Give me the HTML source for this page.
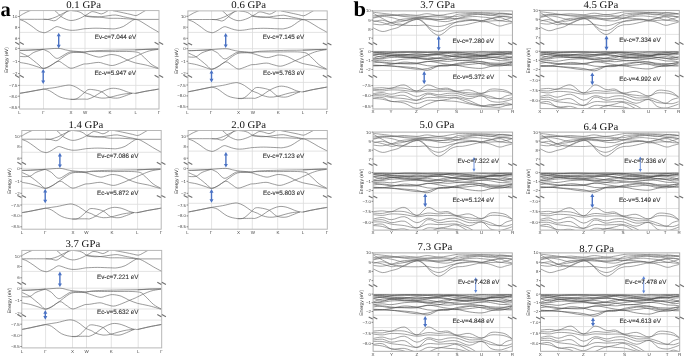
<!DOCTYPE html>
<html><head><meta charset="utf-8"><style>
html,body{margin:0;padding:0;background:#fff;}
svg{display:block;will-change:transform;text-rendering:geometricPrecision;}
</style></head><body>
<svg width="685" height="357" viewBox="0 0 685 357">
<rect width="685" height="357" fill="#fff"/>
<text x="0.6" y="15.8" font-size="20.5" font-weight="bold" fill="#000" font-family="Liberation Serif">a</text>
<text x="353.6" y="16.1" font-size="21.3" font-weight="bold" transform="translate(353.4 0) scale(1.06 1) translate(-353.4 0)" fill="#000" font-family="Liberation Serif">b</text>
<line x1="43.5" y1="10.6" x2="43.5" y2="109.0" stroke="#dcdcdc" stroke-width="0.8"/>
<line x1="71.0" y1="10.6" x2="71.0" y2="109.0" stroke="#dcdcdc" stroke-width="0.8"/>
<line x1="85.0" y1="10.6" x2="85.0" y2="109.0" stroke="#dcdcdc" stroke-width="0.8"/>
<line x1="110.0" y1="10.6" x2="110.0" y2="109.0" stroke="#dcdcdc" stroke-width="0.8"/>
<line x1="135.8" y1="10.6" x2="135.8" y2="109.0" stroke="#dcdcdc" stroke-width="0.8"/>
<line x1="19.6" y1="32.4" x2="159.0" y2="32.4" stroke="#dcdcdc" stroke-width="0.8"/>
<line x1="19.6" y1="48.4" x2="159.0" y2="48.4" stroke="#dcdcdc" stroke-width="0.8"/>
<line x1="19.6" y1="68.3" x2="159.0" y2="68.3" stroke="#dcdcdc" stroke-width="0.8"/>
<line x1="19.6" y1="85.4" x2="159.0" y2="85.4" stroke="#dcdcdc" stroke-width="0.8"/>
<clipPath id="ca1"><rect x="19.6" y="10.6" width="139.4" height="98.4"/></clipPath>
<path clip-path="url(#ca1)" d="M19.6,16.1 C20.3,15.7 22.1,14.4 23.7,13.6 C25.2,12.8 27.8,11.6 28.9,11.1 C30.0,10.6 30.2,10.7 30.5,10.6 M19.6,19.3 C21.5,19.3 27.0,19.3 31.0,19.3 C35.0,19.3 40.8,19.3 43.8,19.3 C46.8,19.3 47.0,19.6 49.0,19.2 C51.0,18.8 54.0,17.8 55.9,17.0 C57.8,16.2 58.8,15.5 60.5,14.7 C62.2,13.8 64.7,12.6 66.2,11.9 C67.7,11.2 69.1,10.9 69.7,10.7 M43.8,19.3 C44.7,19.4 47.4,19.4 49.0,19.6 C50.6,19.9 52.4,20.8 53.6,20.8 C54.9,20.9 55.4,20.6 56.5,19.9 C57.6,19.2 59.3,17.8 60.5,16.8 C61.7,15.8 62.5,14.9 63.5,14.0 C64.5,13.1 65.8,12.1 66.5,11.5 C67.2,10.9 67.8,10.8 68.0,10.7 M54.7,10.7 C55.3,11.2 57.2,12.6 58.2,13.6 C59.2,14.6 59.7,15.6 61.0,16.5 C62.3,17.4 64.6,18.6 66.2,19.3 C67.8,20.0 69.3,20.4 70.8,20.5 C72.3,20.6 73.8,20.3 75.4,19.9 C77.0,19.5 79.1,18.7 80.6,18.0 C82.1,17.3 83.4,16.6 84.6,15.9 C85.8,15.2 86.8,14.6 88.0,13.9 C89.2,13.2 90.3,12.0 91.6,11.7 C92.9,11.4 94.4,11.9 96.0,12.3 C97.6,12.7 99.9,13.9 101.4,13.9 C102.9,13.9 103.9,13.0 105.0,12.5 C106.1,12.0 107.5,11.0 108.0,10.7 M72.0,10.7 C73.0,10.8 76.3,11.1 78.0,11.5 C79.7,11.9 80.8,12.6 82.0,13.3 C83.2,14.0 83.7,15.1 85.0,15.6 C86.3,16.1 88.2,16.1 90.0,16.3 C91.8,16.5 93.8,16.5 96.0,16.7 C98.2,16.9 100.8,17.2 103.0,17.5 C105.2,17.8 106.6,18.2 109.1,18.3 C111.6,18.4 114.5,18.2 117.8,18.3 C121.1,18.4 125.9,18.7 128.8,18.9 C131.7,19.1 134.3,19.3 135.4,19.4 M85.0,16.1 C86.5,16.3 91.1,17.1 93.8,17.2 C96.5,17.3 98.9,17.0 101.4,16.7 C104.0,16.4 106.7,15.9 109.1,15.6 C111.5,15.3 113.3,14.8 115.7,15.0 C118.1,15.2 120.8,16.1 123.3,16.7 C125.8,17.2 129.0,17.9 131.0,18.3 C133.0,18.8 134.7,19.2 135.4,19.4 M113.0,10.7 C113.3,10.8 112.9,10.7 114.6,11.0 C116.3,11.3 120.6,12.2 123.3,12.8 C126.0,13.4 128.9,14.0 131.0,14.5 C133.1,15.0 134.5,15.7 135.9,15.6 C137.3,15.5 138.2,14.7 139.7,13.9 C141.2,13.1 143.7,11.5 144.7,11.0 C145.7,10.5 145.4,10.8 145.5,10.7 M135.4,19.4 L159.0,19.4 M19.6,19.6 C20.5,19.9 22.9,20.5 24.9,21.6 C26.9,22.7 29.6,24.7 31.8,26.2 C34.0,27.7 36.3,29.8 38.1,30.8 C39.9,31.9 41.5,32.2 42.7,32.5 C44.0,32.8 44.4,32.9 45.6,32.5 C46.9,32.1 48.5,31.2 50.2,30.2 C51.9,29.3 54.4,27.3 55.9,26.8 C57.4,26.3 58.0,26.8 59.3,27.1 C60.6,27.4 62.2,28.3 63.9,28.8 C65.6,29.3 67.8,30.0 69.7,30.2 C71.6,30.4 73.3,30.4 75.4,30.2 C77.5,30.0 80.7,29.4 82.3,29.1 C83.9,28.9 82.7,28.9 85.0,28.7 C87.3,28.6 92.0,28.2 96.0,28.2 C100.0,28.2 105.8,28.6 109.1,28.7 C112.4,28.8 113.3,29.1 115.7,28.7 C118.1,28.3 120.9,27.6 123.3,26.5 C125.7,25.4 127.9,23.3 129.9,22.1 C131.9,20.9 133.4,19.4 135.4,19.4 C137.4,19.4 139.4,20.7 141.9,22.1 C144.4,23.5 147.9,26.0 150.7,27.6 C153.4,29.2 157.0,31.2 158.4,32.0 C159.8,32.8 158.9,32.2 159.0,32.3 M19.6,50.3 C21.1,50.3 24.6,50.3 28.5,50.1 C32.4,49.9 38.3,49.6 43.2,49.3 C48.1,49.0 54.3,48.3 58.0,48.4 C61.7,48.5 63.2,49.4 65.3,49.8 C67.4,50.2 68.7,50.5 70.6,50.8 C72.5,51.1 74.5,51.2 76.9,51.4 C79.4,51.6 83.1,51.9 85.3,51.9 C87.5,51.9 87.9,51.3 90.0,51.1 C92.1,50.9 94.8,50.7 98.0,50.6 C101.2,50.5 105.0,50.4 109.0,50.3 C113.0,50.2 117.6,50.1 122.0,50.0 C126.4,49.9 131.1,49.9 135.3,49.8 C139.5,49.7 143.2,49.4 147.0,49.3 C150.8,49.2 156.5,49.0 158.4,49.0 M43.2,49.3 C44.2,49.8 47.8,51.2 49.5,52.4 C51.2,53.6 52.4,55.6 53.7,56.6 C55.0,57.6 56.0,58.5 57.4,58.4 C58.8,58.3 60.4,57.0 62.1,56.1 C63.8,55.2 66.0,53.6 67.4,52.9 C68.8,52.2 69.0,52.1 70.6,51.9 C72.2,51.7 74.6,51.8 77.0,51.9 C79.4,52.0 83.2,52.3 85.0,52.3 C86.8,52.2 84.0,51.7 88.0,51.6 C92.0,51.5 101.1,51.6 109.0,51.6 C116.9,51.6 129.7,51.1 135.3,51.9 C140.9,52.6 140.1,54.1 142.7,56.1 C145.3,58.1 148.4,62.0 151.0,64.0 C153.6,66.0 157.2,67.5 158.4,68.2 M19.6,52.4 C20.4,52.8 23.0,53.9 24.3,54.5 C25.6,55.1 25.9,55.1 27.5,56.1 C29.1,57.1 31.9,59.3 33.8,60.8 C35.7,62.3 37.4,63.7 39.0,65.0 C40.6,66.3 41.5,68.2 43.2,68.4 C45.0,68.6 47.0,67.4 49.5,66.1 C52.0,64.8 55.4,62.5 58.0,60.8 C60.6,59.0 63.2,56.9 65.3,55.6 C67.4,54.3 68.7,53.4 70.6,52.9 C72.5,52.4 74.8,52.4 76.9,52.4 C79.0,52.4 81.2,52.3 83.0,52.6 C84.8,52.9 85.4,53.2 88.0,54.0 C90.6,54.8 95.7,56.8 98.5,57.1 C101.3,57.4 102.9,56.2 105.0,55.8 C107.1,55.4 108.7,54.5 111.1,54.5 C113.5,54.5 116.9,55.2 119.5,56.1 C122.1,57.0 124.3,58.7 126.9,59.8 C129.5,60.9 132.2,62.0 135.3,62.9 C138.5,63.8 142.0,64.0 145.8,65.0 C149.7,66.0 156.3,68.1 158.4,68.7 M19.6,56.4 C20.9,56.4 25.1,57.1 27.5,56.4 C29.9,55.7 31.2,53.6 33.8,52.4 C36.4,51.2 41.6,49.8 43.2,49.3 M19.6,62.4 C21.1,62.7 25.6,63.3 28.5,64.0 C31.4,64.7 34.4,65.9 36.9,66.6 C39.4,67.3 41.1,68.4 43.2,68.4 C45.3,68.4 47.0,67.6 49.5,66.4 C52.0,65.2 55.5,61.6 58.0,61.3 C60.5,61.0 62.1,63.4 64.2,64.5 C66.3,65.7 68.5,67.9 70.6,68.2 C72.7,68.5 74.8,67.3 76.9,66.6 C79.0,65.9 81.4,64.7 83.2,64.2 C85.0,63.7 85.5,64.1 88.0,63.8 C90.5,63.5 95.7,62.4 98.5,62.4 C101.3,62.4 102.7,63.5 105.0,64.0 C107.3,64.5 109.8,65.6 112.2,65.5 C114.6,65.4 117.0,64.3 119.5,63.4 C122.0,62.5 124.6,61.2 126.9,60.3 C129.2,59.3 131.8,58.3 133.2,57.7 C134.6,57.1 133.4,57.5 135.3,56.6 C137.2,55.7 142.2,53.4 144.8,52.4 C147.4,51.4 148.7,51.0 151.0,50.5 C153.3,50.0 157.2,49.5 158.4,49.3 M19.6,93.3 C21.1,93.0 24.6,92.5 28.5,91.8 C32.4,91.1 38.8,89.8 43.2,89.1 C47.6,88.4 51.1,88.2 54.8,87.6 C58.5,87.0 62.7,85.9 65.3,85.5 C67.9,85.1 68.7,84.9 70.6,85.2 C72.5,85.5 74.6,86.4 76.9,87.6 C79.2,88.8 82.0,91.2 84.2,92.3 C86.4,93.4 88.3,93.7 90.0,94.4 C91.7,95.1 92.3,95.9 94.3,96.5 C96.2,97.1 99.2,97.9 101.7,98.1 C104.2,98.3 106.4,98.0 109.0,97.5 C111.6,97.0 114.8,96.0 117.4,95.4 C120.0,94.8 122.3,94.2 124.8,93.9 C127.2,93.6 130.9,93.4 132.1,93.3 M43.2,89.1 C44.2,89.4 46.7,89.4 49.5,90.7 C52.3,92.0 56.5,95.6 60.0,97.0 C63.5,98.4 67.8,99.0 70.6,99.3 C73.4,99.6 74.6,99.7 76.9,98.6 C79.2,97.5 82.4,94.3 84.2,92.8 C86.0,91.3 86.5,90.2 88.0,89.7 C89.5,89.2 91.0,89.4 93.3,89.7 C95.6,90.0 99.1,90.6 101.7,91.8 C104.3,93.0 106.4,96.0 109.0,97.0 C111.6,98.0 114.8,98.3 117.4,98.1 C120.0,97.9 122.3,96.8 124.8,96.0 C127.2,95.2 130.3,93.8 132.1,93.3 C133.8,92.8 133.0,93.6 135.3,93.3 C137.6,93.0 142.0,91.9 145.8,91.2 C149.7,90.5 156.2,89.5 158.4,89.1 C160.6,88.7 158.9,89.0 159.0,89.0 M70.6,99.3 C72.9,99.3 81.3,99.1 84.2,99.1 C87.1,99.1 86.3,99.5 88.0,99.1 C89.7,98.7 92.0,97.7 94.3,96.5 C96.6,95.3 98.9,93.1 101.7,91.8 C104.5,90.5 108.1,88.9 111.1,88.4 C114.1,88.0 116.9,88.5 119.5,89.1 C122.1,89.7 124.8,91.1 126.9,91.8 C129.0,92.5 131.2,93.0 132.1,93.3 M19.6,93.4 C21.1,93.2 24.6,92.6 28.5,91.9 C32.4,91.2 40.8,89.7 43.2,89.2 M135.3,93.4 C137.1,93.1 142.0,92.0 145.8,91.3 C149.7,90.6 156.2,89.6 158.4,89.2 C160.6,88.8 158.9,89.1 159.0,89.1 M19.6,50.4 C21.1,50.4 24.6,50.4 28.5,50.2 C32.4,50.0 40.8,49.5 43.2,49.4 M135.3,49.9 C137.2,49.8 143.2,49.5 147.0,49.4 C150.8,49.3 156.5,49.1 158.4,49.1" fill="none" stroke="#686868" stroke-width="0.66"/>
<rect x="19.6" y="10.6" width="139.4" height="98.4" fill="none" stroke="#b4b4b4" stroke-width="0.95"/>
<line x1="18.1" y1="16.5" x2="19.6" y2="16.5" stroke="#555" stroke-width="0.7"/>
<text x="17.400000000000002" y="18.0" font-size="4.3" text-anchor="end" fill="#444" font-family="Liberation Sans">10</text>
<line x1="18.1" y1="27.4" x2="19.6" y2="27.4" stroke="#555" stroke-width="0.7"/>
<text x="17.400000000000002" y="28.9" font-size="4.3" text-anchor="end" fill="#444" font-family="Liberation Sans">8</text>
<line x1="18.1" y1="38.3" x2="19.6" y2="38.3" stroke="#555" stroke-width="0.7"/>
<text x="17.400000000000002" y="39.8" font-size="4.3" text-anchor="end" fill="#444" font-family="Liberation Sans">6</text>
<line x1="18.1" y1="48.4" x2="19.6" y2="48.4" stroke="#555" stroke-width="0.7"/>
<text x="17.400000000000002" y="49.9" font-size="4.3" text-anchor="end" fill="#444" font-family="Liberation Sans">0</text>
<line x1="18.1" y1="61.5" x2="19.6" y2="61.5" stroke="#555" stroke-width="0.7"/>
<text x="17.400000000000002" y="63.0" font-size="4.3" text-anchor="end" fill="#444" font-family="Liberation Sans">−1</text>
<line x1="18.1" y1="73.6" x2="19.6" y2="73.6" stroke="#555" stroke-width="0.7"/>
<text x="17.400000000000002" y="75.1" font-size="4.3" text-anchor="end" fill="#444" font-family="Liberation Sans">−2</text>
<line x1="18.1" y1="85.4" x2="19.6" y2="85.4" stroke="#555" stroke-width="0.7"/>
<text x="17.400000000000002" y="86.9" font-size="4.3" text-anchor="end" fill="#444" font-family="Liberation Sans">−7.5</text>
<line x1="18.1" y1="96.2" x2="19.6" y2="96.2" stroke="#555" stroke-width="0.7"/>
<text x="17.400000000000002" y="97.7" font-size="4.3" text-anchor="end" fill="#444" font-family="Liberation Sans">−8.0</text>
<line x1="18.1" y1="107.0" x2="19.6" y2="107.0" stroke="#555" stroke-width="0.7"/>
<text x="17.400000000000002" y="108.5" font-size="4.3" text-anchor="end" fill="#444" font-family="Liberation Sans">−8.5</text>
<path d="M15.200000000000001,42.199999999999996 L19.200000000000003,44.4 M19.8,42.199999999999996 L23.8,44.4" stroke="#707070" stroke-width="1.1" fill="none"/>
<path d="M154.6,42.199999999999996 L158.6,44.4 M159.2,42.199999999999996 L163.2,44.4" stroke="#707070" stroke-width="1.1" fill="none"/>
<path d="M15.200000000000001,75.30000000000001 L19.200000000000003,77.5 M19.8,75.30000000000001 L23.8,77.5" stroke="#707070" stroke-width="1.1" fill="none"/>
<path d="M154.6,75.30000000000001 L158.6,77.5 M159.2,75.30000000000001 L163.2,77.5" stroke="#707070" stroke-width="1.1" fill="none"/>
<text x="19.6" y="113.89999999999999" font-size="4.5" text-anchor="middle" fill="#444" font-family="Liberation Sans">L</text>
<text x="43.5" y="113.89999999999999" font-size="4.5" text-anchor="middle" fill="#444" font-family="Liberation Sans">Γ</text>
<text x="71" y="113.89999999999999" font-size="4.5" text-anchor="middle" fill="#444" font-family="Liberation Sans">X</text>
<text x="85" y="113.89999999999999" font-size="4.5" text-anchor="middle" fill="#444" font-family="Liberation Sans">W</text>
<text x="110" y="113.89999999999999" font-size="4.5" text-anchor="middle" fill="#444" font-family="Liberation Sans">K</text>
<text x="135.8" y="113.89999999999999" font-size="4.5" text-anchor="middle" fill="#444" font-family="Liberation Sans">L</text>
<text x="159" y="113.89999999999999" font-size="4.5" text-anchor="middle" fill="#444" font-family="Liberation Sans">Γ</text>
<text x="8.4" y="60.0" font-size="4.85" text-anchor="middle" fill="#333" font-family="Liberation Sans" transform="rotate(-90 8.4 60.0)">Energy (eV)</text>
<text x="66.2" y="7.7" font-size="10.8" fill="#111" font-family="Liberation Serif" transform="translate(0 7.7) scale(1 0.94) translate(0 -7.7)">0.1 GPa</text>
<line x1="58.7" y1="34.7" x2="58.7" y2="46.4" stroke="#4a72c4" stroke-width="1.4"/>
<path d="M56.7,36.300000000000004 L58.7,32.7 L60.7,36.300000000000004 Z" fill="#4a72c4"/>
<path d="M56.7,44.8 L58.7,48.4 L60.7,44.8 Z" fill="#4a72c4"/>
<line x1="43.2" y1="70.9" x2="43.2" y2="82.0" stroke="#4a72c4" stroke-width="1.4"/>
<path d="M41.2,72.5 L43.2,68.9 L45.2,72.5 Z" fill="#4a72c4"/>
<path d="M41.2,80.4 L43.2,84.0 L45.2,80.4 Z" fill="#4a72c4"/>
<text x="94.7" y="39.0" font-size="6.3" fill="#333" stroke="#333" stroke-width="0.12" font-family="Liberation Sans">Ev-c=7.044 eV</text>
<text x="94.4" y="74.7" font-size="6.3" fill="#333" stroke="#333" stroke-width="0.12" font-family="Liberation Sans">Ec-v=5.947 eV</text>
<line x1="211.6" y1="10.9" x2="211.6" y2="109.2" stroke="#dcdcdc" stroke-width="0.8"/>
<line x1="238.4" y1="10.9" x2="238.4" y2="109.2" stroke="#dcdcdc" stroke-width="0.8"/>
<line x1="252.5" y1="10.9" x2="252.5" y2="109.2" stroke="#dcdcdc" stroke-width="0.8"/>
<line x1="278.2" y1="10.9" x2="278.2" y2="109.2" stroke="#dcdcdc" stroke-width="0.8"/>
<line x1="303.4" y1="10.9" x2="303.4" y2="109.2" stroke="#dcdcdc" stroke-width="0.8"/>
<line x1="187.9" y1="32.4" x2="327.2" y2="32.4" stroke="#dcdcdc" stroke-width="0.8"/>
<line x1="187.9" y1="48.7" x2="327.2" y2="48.7" stroke="#dcdcdc" stroke-width="0.8"/>
<line x1="187.9" y1="69.1" x2="327.2" y2="69.1" stroke="#dcdcdc" stroke-width="0.8"/>
<line x1="187.9" y1="82.4" x2="327.2" y2="82.4" stroke="#dcdcdc" stroke-width="0.8"/>
<clipPath id="ca2"><rect x="187.9" y="10.9" width="139.29999999999998" height="98.3"/></clipPath>
<path clip-path="url(#ca2)" d="M187.9,16.3 C188.6,15.9 190.4,14.7 192.0,13.9 C193.5,13.0 196.0,11.9 197.1,11.4 C198.2,10.9 198.4,11.0 198.7,10.9 M187.9,19.5 C189.8,19.5 195.2,19.5 199.2,19.5 C203.2,19.5 208.9,19.5 211.9,19.5 C214.9,19.5 215.0,19.8 217.0,19.4 C218.9,19.0 221.8,18.0 223.7,17.2 C225.6,16.5 226.5,15.8 228.2,14.9 C229.8,14.1 232.2,12.8 233.7,12.2 C235.2,11.5 236.6,11.2 237.1,11.0 M211.9,19.5 C212.7,19.5 215.4,19.5 217.0,19.8 C218.6,20.0 220.2,20.9 221.4,21.0 C222.7,21.0 223.1,20.7 224.3,20.1 C225.4,19.4 227.0,18.0 228.2,17.0 C229.3,16.0 230.1,15.1 231.1,14.3 C232.1,13.4 233.3,12.3 234.0,11.8 C234.7,11.2 235.2,11.1 235.5,11.0 M222.5,11.0 C223.1,11.5 224.9,12.9 225.9,13.9 C226.9,14.8 227.4,15.8 228.7,16.7 C230.0,17.7 232.1,18.8 233.7,19.5 C235.3,20.1 236.7,20.6 238.2,20.7 C239.7,20.8 241.2,20.5 242.8,20.1 C244.5,19.7 246.5,18.9 248.1,18.2 C249.6,17.5 250.8,16.8 252.1,16.1 C253.3,15.5 254.4,14.8 255.6,14.2 C256.8,13.5 257.9,12.2 259.3,12.0 C260.7,11.7 262.1,12.2 263.8,12.6 C265.5,12.9 267.8,14.1 269.4,14.2 C270.9,14.2 271.9,13.3 273.1,12.8 C274.2,12.2 275.6,11.3 276.1,11.0 M239.4,11.0 C240.4,11.1 243.8,11.4 245.4,11.8 C247.1,12.2 248.3,12.9 249.5,13.6 C250.7,14.2 251.1,15.3 252.5,15.8 C253.9,16.3 255.8,16.3 257.6,16.5 C259.5,16.7 261.6,16.7 263.8,16.9 C266.0,17.1 268.8,17.4 271.0,17.7 C273.2,18.0 274.8,18.4 277.3,18.5 C279.7,18.6 282.6,18.4 285.8,18.5 C289.0,18.6 293.7,18.9 296.6,19.1 C299.4,19.3 301.9,19.5 303.0,19.6 M252.5,16.3 C254.0,16.5 258.7,17.3 261.5,17.4 C264.4,17.5 266.7,17.2 269.4,16.9 C272.0,16.7 274.9,16.1 277.3,15.8 C279.7,15.6 281.4,15.1 283.8,15.2 C286.1,15.4 288.7,16.4 291.2,16.9 C293.7,17.5 296.7,18.1 298.7,18.5 C300.7,18.9 302.3,19.4 303.0,19.6 M281.1,11.0 C281.4,11.0 281.0,10.9 282.7,11.3 C284.4,11.6 288.5,12.5 291.2,13.1 C293.9,13.6 296.7,14.3 298.7,14.7 C300.8,15.2 302.1,15.9 303.5,15.8 C305.0,15.7 305.9,14.9 307.4,14.2 C308.9,13.4 311.5,11.8 312.5,11.3 C313.5,10.8 313.2,11.0 313.4,11.0 M303.0,19.6 L327.2,19.6 M187.9,19.8 C188.8,20.1 191.1,20.7 193.2,21.7 C195.2,22.8 197.8,24.8 200.0,26.3 C202.2,27.8 204.4,29.8 206.2,30.8 C208.0,31.9 209.6,32.2 210.8,32.5 C212.0,32.8 212.4,32.9 213.6,32.5 C214.9,32.1 216.5,31.2 218.1,30.2 C219.8,29.3 222.2,27.4 223.7,26.9 C225.2,26.4 225.7,26.8 227.0,27.2 C228.3,27.5 229.8,28.3 231.5,28.8 C233.2,29.4 235.2,30.0 237.1,30.2 C239.0,30.5 240.7,30.4 242.8,30.2 C244.9,30.0 248.2,29.4 249.8,29.1 C251.4,28.9 250.2,28.9 252.5,28.8 C254.8,28.6 259.7,28.3 263.8,28.3 C267.9,28.3 273.9,28.7 277.3,28.8 C280.6,28.8 281.4,29.1 283.8,28.8 C286.1,28.4 288.9,27.7 291.2,26.6 C293.5,25.5 295.7,23.4 297.6,22.2 C299.6,21.1 301.0,19.6 303.0,19.6 C305.0,19.6 307.0,20.9 309.7,22.2 C312.3,23.6 315.9,26.0 318.7,27.7 C321.5,29.3 325.2,31.2 326.6,32.0 C328.0,32.8 327.1,32.3 327.2,32.3 M187.9,50.6 C189.4,50.6 192.8,50.6 196.7,50.4 C200.6,50.3 206.5,49.9 211.3,49.6 C216.1,49.3 222.1,48.6 225.7,48.7 C229.3,48.8 230.8,49.7 232.8,50.1 C234.9,50.5 236.1,50.9 238.0,51.2 C239.9,51.4 241.9,51.6 244.3,51.8 C246.8,52.0 250.6,52.3 252.8,52.3 C255.0,52.2 255.5,51.7 257.6,51.5 C259.8,51.2 262.6,51.1 265.9,51.0 C269.1,50.8 273.2,50.8 277.2,50.6 C281.2,50.5 285.6,50.4 289.9,50.3 C294.2,50.3 298.8,50.3 302.9,50.1 C307.1,50.0 310.9,49.8 314.9,49.6 C318.8,49.5 324.6,49.4 326.6,49.3 M211.3,49.6 C212.3,50.2 215.7,51.6 217.4,52.8 C219.2,54.0 220.3,56.1 221.5,57.1 C222.8,58.1 223.8,59.0 225.1,59.0 C226.5,58.9 228.1,57.5 229.7,56.6 C231.4,55.7 233.5,54.0 234.9,53.3 C236.3,52.6 236.4,52.5 238.0,52.3 C239.6,52.1 242.0,52.2 244.4,52.3 C246.9,52.4 250.6,52.7 252.5,52.7 C254.4,52.6 251.5,52.1 255.6,52.0 C259.7,51.9 269.3,51.9 277.2,52.0 C285.1,52.0 297.4,51.5 302.9,52.3 C308.5,53.1 307.8,54.5 310.5,56.6 C313.2,58.7 316.3,62.6 319.0,64.7 C321.7,66.8 325.3,68.3 326.6,69.0 M187.9,52.8 C188.7,53.2 191.3,54.3 192.6,55.0 C193.9,55.6 194.2,55.5 195.7,56.6 C197.3,57.7 200.1,59.9 202.0,61.4 C203.9,62.9 205.6,64.4 207.1,65.7 C208.7,67.0 209.6,69.0 211.3,69.2 C213.0,69.4 215.0,68.1 217.4,66.8 C219.9,65.5 223.2,63.2 225.7,61.4 C228.3,59.6 230.8,57.4 232.8,56.1 C234.9,54.7 236.1,53.9 238.0,53.3 C239.9,52.8 242.3,52.9 244.3,52.8 C246.4,52.7 248.6,52.7 250.5,53.0 C252.4,53.3 252.9,53.7 255.6,54.4 C258.2,55.2 263.5,57.3 266.4,57.6 C269.3,57.9 270.9,56.7 273.1,56.3 C275.2,55.8 276.9,54.9 279.3,55.0 C281.7,55.0 284.9,55.7 287.5,56.6 C290.1,57.5 292.1,59.2 294.7,60.4 C297.3,61.5 299.8,62.7 302.9,63.6 C306.1,64.5 309.7,64.7 313.7,65.7 C317.6,66.7 324.4,68.8 326.6,69.4 M187.9,56.9 C189.2,56.9 193.4,57.6 195.7,56.9 C198.1,56.2 199.4,54.0 202.0,52.8 C204.6,51.6 209.7,50.2 211.3,49.6 M187.9,63.1 C189.4,63.3 193.9,64.0 196.7,64.7 C199.6,65.4 202.6,66.6 205.1,67.4 C207.5,68.1 209.2,69.2 211.3,69.2 C213.4,69.1 215.0,68.4 217.4,67.2 C219.9,65.9 223.3,62.2 225.7,61.9 C228.1,61.6 229.7,64.0 231.8,65.2 C233.8,66.4 235.9,68.6 238.0,69.0 C240.1,69.4 242.2,68.0 244.3,67.4 C246.5,66.7 248.8,65.4 250.7,64.9 C252.6,64.4 253.0,64.8 255.6,64.5 C258.2,64.2 263.5,63.0 266.4,63.1 C269.3,63.1 270.7,64.2 273.1,64.7 C275.4,65.2 277.9,66.3 280.3,66.2 C282.8,66.1 285.1,65.0 287.5,64.1 C289.9,63.2 292.5,61.9 294.7,60.9 C296.9,59.9 299.5,58.9 300.9,58.2 C302.2,57.6 300.9,58.0 302.9,57.1 C304.9,56.2 310.0,53.8 312.6,52.8 C315.3,51.8 316.7,51.4 319.0,50.9 C321.3,50.3 325.3,49.8 326.6,49.6 M187.9,91.8 C189.4,91.5 192.8,90.9 196.7,90.1 C200.6,89.3 207.0,87.9 211.3,87.1 C215.6,86.3 219.0,86.1 222.6,85.4 C226.2,84.8 230.3,83.5 232.8,83.1 C235.4,82.7 236.1,82.4 238.0,82.8 C239.9,83.2 242.1,84.1 244.3,85.4 C246.6,86.7 249.5,89.4 251.7,90.7 C253.9,91.9 255.9,92.2 257.6,93.0 C259.4,93.8 260.1,94.6 262.1,95.3 C264.1,96.0 267.1,96.9 269.7,97.1 C272.2,97.3 274.5,96.9 277.2,96.4 C279.8,95.9 282.8,94.8 285.4,94.1 C288.0,93.4 290.3,92.8 292.7,92.4 C295.0,92.0 298.6,91.9 299.8,91.8 M211.3,87.1 C212.3,87.4 214.7,87.4 217.4,88.9 C220.2,90.3 224.3,94.3 227.7,95.9 C231.1,97.5 235.2,98.1 238.0,98.4 C240.8,98.7 242.1,98.9 244.3,97.7 C246.6,96.5 249.8,92.9 251.7,91.2 C253.6,89.6 254.0,88.3 255.6,87.8 C257.1,87.2 258.7,87.4 261.0,87.8 C263.4,88.2 267.0,88.8 269.7,90.1 C272.4,91.5 274.5,94.7 277.2,95.9 C279.8,97.0 282.8,97.3 285.4,97.1 C288.0,96.9 290.3,95.7 292.7,94.8 C295.0,93.9 298.1,92.3 299.8,91.8 C301.5,91.3 300.6,92.2 302.9,91.8 C305.2,91.4 309.7,90.2 313.7,89.4 C317.6,88.7 324.3,87.5 326.6,87.1 C328.8,86.7 327.1,87.0 327.2,87.0 M238.0,98.4 C240.3,98.4 248.8,98.2 251.7,98.2 C254.6,98.2 253.9,98.7 255.6,98.2 C257.3,97.7 259.7,96.7 262.1,95.3 C264.4,94.0 266.8,91.6 269.7,90.1 C272.5,88.6 276.3,86.8 279.3,86.3 C282.2,85.8 284.9,86.5 287.5,87.1 C290.1,87.7 292.7,89.3 294.7,90.1 C296.8,90.9 298.9,91.5 299.8,91.8 M187.9,91.9 C189.4,91.6 192.8,91.0 196.7,90.2 C200.6,89.4 208.9,87.7 211.3,87.2 M302.9,91.9 C304.7,91.5 309.7,90.3 313.7,89.5 C317.6,88.8 324.3,87.6 326.6,87.2 C328.8,86.8 327.1,87.1 327.2,87.1 M187.9,50.8 C189.4,50.7 192.8,50.7 196.7,50.5 C200.6,50.4 208.9,49.9 211.3,49.7 M302.9,50.2 C304.9,50.2 310.9,49.9 314.9,49.7 C318.8,49.6 324.6,49.5 326.6,49.4" fill="none" stroke="#686868" stroke-width="0.66"/>
<rect x="187.9" y="10.9" width="139.29999999999998" height="98.3" fill="none" stroke="#b4b4b4" stroke-width="0.95"/>
<line x1="186.4" y1="16.3" x2="187.9" y2="16.3" stroke="#555" stroke-width="0.7"/>
<text x="185.70000000000002" y="17.8" font-size="4.3" text-anchor="end" fill="#444" font-family="Liberation Sans">10</text>
<line x1="186.4" y1="27.2" x2="187.9" y2="27.2" stroke="#555" stroke-width="0.7"/>
<text x="185.70000000000002" y="28.7" font-size="4.3" text-anchor="end" fill="#444" font-family="Liberation Sans">8</text>
<line x1="186.4" y1="38.3" x2="187.9" y2="38.3" stroke="#555" stroke-width="0.7"/>
<text x="185.70000000000002" y="39.8" font-size="4.3" text-anchor="end" fill="#444" font-family="Liberation Sans">6</text>
<line x1="186.4" y1="48.7" x2="187.9" y2="48.7" stroke="#555" stroke-width="0.7"/>
<text x="185.70000000000002" y="50.2" font-size="4.3" text-anchor="end" fill="#444" font-family="Liberation Sans">0</text>
<line x1="186.4" y1="61.3" x2="187.9" y2="61.3" stroke="#555" stroke-width="0.7"/>
<text x="185.70000000000002" y="62.8" font-size="4.3" text-anchor="end" fill="#444" font-family="Liberation Sans">−1</text>
<line x1="186.4" y1="73.3" x2="187.9" y2="73.3" stroke="#555" stroke-width="0.7"/>
<text x="185.70000000000002" y="74.8" font-size="4.3" text-anchor="end" fill="#444" font-family="Liberation Sans">−2</text>
<line x1="186.4" y1="85.0" x2="187.9" y2="85.0" stroke="#555" stroke-width="0.7"/>
<text x="185.70000000000002" y="86.5" font-size="4.3" text-anchor="end" fill="#444" font-family="Liberation Sans">−7.5</text>
<line x1="186.4" y1="95.9" x2="187.9" y2="95.9" stroke="#555" stroke-width="0.7"/>
<text x="185.70000000000002" y="97.4" font-size="4.3" text-anchor="end" fill="#444" font-family="Liberation Sans">−8.0</text>
<line x1="186.4" y1="106.8" x2="187.9" y2="106.8" stroke="#555" stroke-width="0.7"/>
<text x="185.70000000000002" y="108.3" font-size="4.3" text-anchor="end" fill="#444" font-family="Liberation Sans">−8.5</text>
<path d="M183.5,42.9 L187.5,45.1 M188.1,42.9 L192.1,45.1" stroke="#707070" stroke-width="1.1" fill="none"/>
<path d="M322.8,42.9 L326.8,45.1 M327.4,42.9 L331.4,45.1" stroke="#707070" stroke-width="1.1" fill="none"/>
<path d="M183.5,75.30000000000001 L187.5,77.5 M188.1,75.30000000000001 L192.1,77.5" stroke="#707070" stroke-width="1.1" fill="none"/>
<path d="M322.8,75.30000000000001 L326.8,77.5 M327.4,75.30000000000001 L331.4,77.5" stroke="#707070" stroke-width="1.1" fill="none"/>
<text x="187.6" y="114.0" font-size="4.5" text-anchor="middle" fill="#444" font-family="Liberation Sans">L</text>
<text x="211.0" y="114.0" font-size="4.5" text-anchor="middle" fill="#444" font-family="Liberation Sans">Γ</text>
<text x="238.5" y="114.0" font-size="4.5" text-anchor="middle" fill="#444" font-family="Liberation Sans">X</text>
<text x="252.8" y="114.0" font-size="4.5" text-anchor="middle" fill="#444" font-family="Liberation Sans">W</text>
<text x="278.2" y="114.0" font-size="4.5" text-anchor="middle" fill="#444" font-family="Liberation Sans">K</text>
<text x="303.0" y="114.0" font-size="4.5" text-anchor="middle" fill="#444" font-family="Liberation Sans">L</text>
<text x="327.0" y="114.0" font-size="4.5" text-anchor="middle" fill="#444" font-family="Liberation Sans">Γ</text>
<text x="177.6" y="61.0" font-size="4.85" text-anchor="middle" fill="#333" font-family="Liberation Sans" transform="rotate(-90 177.6 61.0)">Energy (eV)</text>
<text x="231.3" y="8.0" font-size="10.8" fill="#111" font-family="Liberation Serif" transform="translate(0 8.0) scale(1 0.94) translate(0 -8.0)">0.6 GPa</text>
<line x1="225.7" y1="34.9" x2="225.7" y2="46.0" stroke="#4a72c4" stroke-width="1.4"/>
<path d="M223.7,36.5 L225.7,32.9 L227.7,36.5 Z" fill="#4a72c4"/>
<path d="M223.7,44.4 L225.7,48.0 L227.7,44.4 Z" fill="#4a72c4"/>
<line x1="211.5" y1="72.0" x2="211.5" y2="80.4" stroke="#4a72c4" stroke-width="1.4"/>
<path d="M209.5,73.6 L211.5,70.0 L213.5,73.6 Z" fill="#4a72c4"/>
<path d="M209.5,78.80000000000001 L211.5,82.4 L213.5,78.80000000000001 Z" fill="#4a72c4"/>
<text x="262.79999999999995" y="39.0" font-size="6.3" fill="#333" stroke="#333" stroke-width="0.12" font-family="Liberation Sans">Ev-c=7.145 eV</text>
<text x="263.0" y="74.60000000000001" font-size="6.3" fill="#333" stroke="#333" stroke-width="0.12" font-family="Liberation Sans">Ec-v=5.763 eV</text>
<line x1="45.5" y1="130.5" x2="45.5" y2="229.2" stroke="#dcdcdc" stroke-width="0.8"/>
<line x1="72.7" y1="130.5" x2="72.7" y2="229.2" stroke="#dcdcdc" stroke-width="0.8"/>
<line x1="86.8" y1="130.5" x2="86.8" y2="229.2" stroke="#dcdcdc" stroke-width="0.8"/>
<line x1="111.5" y1="130.5" x2="111.5" y2="229.2" stroke="#dcdcdc" stroke-width="0.8"/>
<line x1="137.6" y1="130.5" x2="137.6" y2="229.2" stroke="#dcdcdc" stroke-width="0.8"/>
<line x1="21.8" y1="152.3" x2="161.2" y2="152.3" stroke="#dcdcdc" stroke-width="0.8"/>
<line x1="21.8" y1="168.4" x2="161.2" y2="168.4" stroke="#dcdcdc" stroke-width="0.8"/>
<line x1="21.8" y1="188.2" x2="161.2" y2="188.2" stroke="#dcdcdc" stroke-width="0.8"/>
<line x1="21.8" y1="204.3" x2="161.2" y2="204.3" stroke="#dcdcdc" stroke-width="0.8"/>
<clipPath id="ca3"><rect x="21.8" y="130.5" width="139.39999999999998" height="98.69999999999999"/></clipPath>
<path clip-path="url(#ca3)" d="M21.8,136.0 C22.5,135.6 24.3,134.3 25.9,133.5 C27.4,132.7 29.9,131.5 31.0,131.0 C32.1,130.5 32.3,130.6 32.6,130.5 M21.8,139.2 C23.7,139.2 29.1,139.2 33.1,139.2 C37.1,139.2 42.8,139.2 45.8,139.2 C48.8,139.2 48.9,139.5 50.9,139.1 C52.9,138.7 55.9,137.7 57.8,136.9 C59.7,136.2 60.6,135.4 62.3,134.6 C64.0,133.8 66.4,132.5 68.0,131.8 C69.5,131.1 70.8,130.8 71.4,130.6 M45.8,139.2 C46.7,139.2 49.3,139.2 50.9,139.5 C52.6,139.8 54.3,140.7 55.5,140.7 C56.7,140.8 57.2,140.5 58.4,139.8 C59.5,139.1 61.2,137.7 62.3,136.7 C63.5,135.7 64.3,134.8 65.3,133.9 C66.3,133.0 67.5,132.0 68.2,131.4 C69.0,130.8 69.5,130.7 69.7,130.6 M56.6,130.6 C57.2,131.1 59.0,132.5 60.0,133.5 C61.1,134.5 61.5,135.4 62.8,136.4 C64.1,137.4 66.3,138.5 68.0,139.2 C69.6,139.9 71.0,140.3 72.5,140.4 C74.0,140.5 75.5,140.2 77.1,139.8 C78.8,139.4 80.8,138.6 82.4,137.9 C83.9,137.2 85.2,136.5 86.4,135.8 C87.6,135.1 88.6,134.5 89.8,133.8 C90.9,133.1 92.0,131.9 93.3,131.6 C94.6,131.3 96.1,131.8 97.7,132.2 C99.3,132.6 101.5,133.8 103.0,133.8 C104.5,133.8 105.5,132.9 106.6,132.4 C107.6,131.9 109.0,130.9 109.5,130.6 M73.7,130.6 C74.7,130.7 78.1,131.0 79.8,131.4 C81.4,131.8 82.6,132.5 83.8,133.2 C85.0,133.9 85.5,135.0 86.8,135.5 C88.1,136.0 89.9,136.0 91.7,136.2 C93.6,136.4 95.5,136.4 97.7,136.6 C99.8,136.8 102.4,137.1 104.6,137.4 C106.7,137.7 108.1,138.1 110.6,138.2 C113.1,138.3 116.1,138.1 119.4,138.2 C122.7,138.3 127.6,138.6 130.5,138.8 C133.5,139.0 136.1,139.2 137.2,139.3 M86.8,136.0 C88.2,136.2 92.8,137.0 95.5,137.1 C98.2,137.2 100.5,136.9 103.0,136.6 C105.5,136.3 108.2,135.8 110.6,135.5 C113.0,135.2 114.9,134.7 117.3,134.9 C119.7,135.1 122.4,136.0 125.0,136.6 C127.5,137.2 130.7,137.8 132.7,138.2 C134.8,138.7 136.5,139.1 137.2,139.3 M114.5,130.6 C114.8,130.7 114.4,130.6 116.2,130.9 C117.9,131.2 122.2,132.1 125.0,132.7 C127.7,133.3 130.6,133.9 132.7,134.4 C134.9,134.9 136.2,135.6 137.7,135.5 C139.2,135.4 140.1,134.6 141.6,133.8 C143.1,133.0 145.7,131.4 146.7,130.9 C147.6,130.4 147.3,130.7 147.5,130.6 M137.2,139.3 L161.2,139.3 M21.8,139.5 C22.7,139.8 25.0,140.4 27.1,141.5 C29.1,142.6 31.7,144.6 33.9,146.1 C36.1,147.6 38.3,149.6 40.1,150.7 C41.9,151.8 43.5,152.1 44.7,152.4 C45.9,152.7 46.3,152.8 47.6,152.4 C48.8,152.0 50.4,151.1 52.1,150.1 C53.8,149.1 56.3,147.2 57.8,146.7 C59.3,146.2 59.8,146.7 61.1,147.0 C62.4,147.3 64.0,148.2 65.7,148.7 C67.4,149.2 69.5,149.9 71.4,150.1 C73.3,150.3 75.0,150.3 77.1,150.1 C79.2,149.9 82.5,149.2 84.1,149.0 C85.7,148.8 84.5,148.8 86.8,148.6 C89.1,148.5 93.7,148.1 97.7,148.1 C101.6,148.1 107.3,148.5 110.6,148.6 C113.9,148.7 114.9,149.0 117.3,148.6 C119.7,148.2 122.6,147.5 125.0,146.4 C127.3,145.3 129.6,143.2 131.6,142.0 C133.7,140.8 135.2,139.3 137.2,139.3 C139.2,139.3 141.2,140.6 143.8,142.0 C146.4,143.4 150.0,145.8 152.8,147.5 C155.6,149.2 159.2,151.1 160.6,151.9 C162.0,152.7 161.1,152.2 161.2,152.2 M21.8,170.3 C23.3,170.3 26.7,170.3 30.6,170.1 C34.5,169.9 40.3,169.6 45.2,169.3 C50.1,169.0 56.2,168.3 59.8,168.4 C63.5,168.5 65.0,169.4 67.1,169.8 C69.1,170.2 70.4,170.5 72.3,170.8 C74.2,171.1 76.2,171.2 78.6,171.4 C81.1,171.6 84.9,171.9 87.1,171.9 C89.3,171.8 89.6,171.3 91.7,171.1 C93.8,170.9 96.5,170.7 99.6,170.6 C102.8,170.5 106.5,170.4 110.5,170.3 C114.5,170.2 119.2,170.1 123.6,170.0 C128.1,169.9 132.9,169.9 137.1,169.8 C141.3,169.7 145.1,169.4 149.0,169.3 C152.9,169.2 158.7,169.0 160.6,169.0 M45.2,169.3 C46.2,169.8 49.7,171.2 51.4,172.4 C53.2,173.6 54.3,175.6 55.6,176.6 C56.9,177.6 57.9,178.4 59.2,178.3 C60.6,178.3 62.2,177.0 63.9,176.1 C65.5,175.1 67.7,173.6 69.1,172.9 C70.5,172.2 70.7,172.0 72.3,171.9 C73.9,171.7 76.3,171.8 78.7,171.9 C81.2,171.9 85.0,172.3 86.8,172.3 C88.6,172.2 85.8,171.7 89.8,171.6 C93.7,171.5 102.6,171.5 110.5,171.6 C118.4,171.6 131.4,171.1 137.1,171.9 C142.8,172.6 142.0,174.1 144.6,176.1 C147.3,178.1 150.4,181.9 153.1,183.9 C155.7,185.9 159.3,187.4 160.6,188.1 M21.8,172.4 C22.6,172.7 25.2,173.9 26.5,174.5 C27.8,175.1 28.1,175.0 29.6,176.1 C31.2,177.1 34.0,179.3 35.9,180.7 C37.8,182.2 39.5,183.7 41.0,184.9 C42.6,186.2 43.5,188.1 45.2,188.3 C46.9,188.5 49.0,187.3 51.4,186.0 C53.9,184.8 57.2,182.5 59.8,180.7 C62.4,179.0 65.0,176.9 67.1,175.6 C69.1,174.3 70.4,173.4 72.3,172.9 C74.2,172.3 76.6,172.4 78.6,172.4 C80.7,172.3 82.9,172.3 84.8,172.6 C86.6,172.8 87.2,173.2 89.8,174.0 C92.3,174.7 97.3,176.8 100.1,177.1 C102.9,177.4 104.5,176.2 106.6,175.8 C108.6,175.3 110.2,174.4 112.6,174.5 C115.0,174.5 118.4,175.2 121.1,176.1 C123.8,176.9 125.9,178.6 128.6,179.7 C131.3,180.9 133.9,182.0 137.1,182.8 C140.3,183.7 143.9,184.0 147.8,184.9 C151.7,185.9 158.5,188.0 160.6,188.6 M21.8,176.4 C23.1,176.4 27.3,177.0 29.6,176.4 C32.0,175.7 33.3,173.6 35.9,172.4 C38.5,171.2 43.6,169.8 45.2,169.3 M21.8,182.3 C23.3,182.6 27.8,183.2 30.6,183.9 C33.5,184.6 36.5,185.8 39.0,186.5 C41.4,187.2 43.1,188.3 45.2,188.3 C47.3,188.3 49.0,187.5 51.4,186.3 C53.9,185.1 57.4,181.6 59.8,181.2 C62.3,180.9 63.9,183.3 66.0,184.4 C68.1,185.6 70.2,187.8 72.3,188.1 C74.4,188.4 76.5,187.2 78.6,186.5 C80.8,185.8 83.1,184.6 85.0,184.1 C86.8,183.7 87.2,184.0 89.8,183.7 C92.3,183.4 97.3,182.3 100.1,182.3 C102.9,182.4 104.3,183.4 106.6,183.9 C108.8,184.4 111.3,185.5 113.7,185.4 C116.2,185.3 118.6,184.2 121.1,183.3 C123.6,182.5 126.3,181.2 128.6,180.2 C130.9,179.3 133.6,178.3 135.0,177.7 C136.4,177.0 135.1,177.4 137.1,176.6 C139.1,175.7 144.1,173.4 146.8,172.4 C149.4,171.4 150.8,171.0 153.1,170.5 C155.4,170.0 159.3,169.5 160.6,169.3 M21.8,212.6 C23.3,212.4 26.7,211.8 30.6,211.1 C34.5,210.3 40.9,208.9 45.2,208.2 C49.5,207.5 53.0,207.3 56.7,206.6 C60.3,206.0 64.5,204.8 67.1,204.4 C69.7,204.0 70.4,203.7 72.3,204.1 C74.2,204.5 76.4,205.4 78.6,206.6 C80.9,207.9 83.8,210.4 86.0,211.6 C88.2,212.8 90.1,213.1 91.7,213.8 C93.4,214.5 94.1,215.4 96.0,216.0 C97.9,216.7 100.9,217.5 103.3,217.7 C105.7,217.9 107.9,217.5 110.5,217.1 C113.1,216.6 116.3,215.5 119.0,214.9 C121.6,214.2 124.0,213.6 126.5,213.3 C129.0,212.9 132.6,212.7 133.9,212.6 M45.2,208.2 C46.2,208.5 48.7,208.5 51.4,209.9 C54.2,211.3 58.3,215.0 61.8,216.5 C65.3,218.1 69.5,218.7 72.3,219.0 C75.1,219.2 76.4,219.4 78.6,218.2 C80.9,217.1 84.1,213.7 86.0,212.1 C87.8,210.5 88.3,209.4 89.8,208.8 C91.3,208.3 92.7,208.5 95.0,208.8 C97.3,209.2 100.7,209.8 103.3,211.1 C105.9,212.3 107.9,215.4 110.5,216.5 C113.1,217.6 116.3,217.9 119.0,217.7 C121.6,217.5 124.0,216.3 126.5,215.5 C129.0,214.6 132.1,213.1 133.9,212.6 C135.6,212.2 134.8,213.0 137.1,212.6 C139.4,212.3 143.9,211.2 147.8,210.4 C151.7,209.7 158.4,208.6 160.6,208.2 C162.8,207.8 161.1,208.1 161.2,208.1 M72.3,219.0 C74.6,218.9 83.1,218.8 86.0,218.8 C88.9,218.7 88.1,219.2 89.8,218.8 C91.4,218.3 93.7,217.3 96.0,216.0 C98.2,214.7 100.5,212.5 103.3,211.1 C106.1,209.6 109.6,207.9 112.6,207.5 C115.6,207.0 118.4,207.6 121.1,208.2 C123.8,208.8 126.5,210.3 128.6,211.1 C130.7,211.8 133.0,212.4 133.9,212.6 M21.8,212.7 C23.3,212.5 26.7,211.9 30.6,211.2 C34.5,210.4 42.8,208.8 45.2,208.3 M137.1,212.7 C138.9,212.4 143.9,211.3 147.8,210.5 C151.7,209.8 158.4,208.7 160.6,208.3 C162.8,207.9 161.1,208.2 161.2,208.2 M21.8,170.4 C23.3,170.4 26.7,170.4 30.6,170.2 C34.5,170.0 42.8,169.5 45.2,169.4 M137.1,169.9 C139.1,169.8 145.1,169.5 149.0,169.4 C152.9,169.3 158.7,169.1 160.6,169.1" fill="none" stroke="#686868" stroke-width="0.66"/>
<rect x="21.8" y="130.5" width="139.39999999999998" height="98.69999999999999" fill="none" stroke="#b4b4b4" stroke-width="0.95"/>
<line x1="20.3" y1="136.0" x2="21.8" y2="136.0" stroke="#555" stroke-width="0.7"/>
<text x="19.6" y="137.5" font-size="4.3" text-anchor="end" fill="#444" font-family="Liberation Sans">10</text>
<line x1="20.3" y1="146.9" x2="21.8" y2="146.9" stroke="#555" stroke-width="0.7"/>
<text x="19.6" y="148.4" font-size="4.3" text-anchor="end" fill="#444" font-family="Liberation Sans">8</text>
<line x1="20.3" y1="158.2" x2="21.8" y2="158.2" stroke="#555" stroke-width="0.7"/>
<text x="19.6" y="159.7" font-size="4.3" text-anchor="end" fill="#444" font-family="Liberation Sans">6</text>
<line x1="20.3" y1="168.4" x2="21.8" y2="168.4" stroke="#555" stroke-width="0.7"/>
<text x="19.6" y="169.9" font-size="4.3" text-anchor="end" fill="#444" font-family="Liberation Sans">0</text>
<line x1="20.3" y1="181.3" x2="21.8" y2="181.3" stroke="#555" stroke-width="0.7"/>
<text x="19.6" y="182.8" font-size="4.3" text-anchor="end" fill="#444" font-family="Liberation Sans">−1</text>
<line x1="20.3" y1="193.3" x2="21.8" y2="193.3" stroke="#555" stroke-width="0.7"/>
<text x="19.6" y="194.8" font-size="4.3" text-anchor="end" fill="#444" font-family="Liberation Sans">−2</text>
<line x1="20.3" y1="205.0" x2="21.8" y2="205.0" stroke="#555" stroke-width="0.7"/>
<text x="19.6" y="206.5" font-size="4.3" text-anchor="end" fill="#444" font-family="Liberation Sans">−7.5</text>
<line x1="20.3" y1="215.9" x2="21.8" y2="215.9" stroke="#555" stroke-width="0.7"/>
<text x="19.6" y="217.4" font-size="4.3" text-anchor="end" fill="#444" font-family="Liberation Sans">−8.0</text>
<line x1="20.3" y1="226.8" x2="21.8" y2="226.8" stroke="#555" stroke-width="0.7"/>
<text x="19.6" y="228.3" font-size="4.3" text-anchor="end" fill="#444" font-family="Liberation Sans">−8.5</text>
<path d="M17.4,162.3 L21.400000000000002,164.5 M22.0,162.3 L26.0,164.5" stroke="#707070" stroke-width="1.1" fill="none"/>
<path d="M156.79999999999998,162.3 L160.79999999999998,164.5 M161.39999999999998,162.3 L165.39999999999998,164.5" stroke="#707070" stroke-width="1.1" fill="none"/>
<path d="M17.4,195.4 L21.400000000000002,197.6 M22.0,195.4 L26.0,197.6" stroke="#707070" stroke-width="1.1" fill="none"/>
<path d="M156.79999999999998,195.4 L160.79999999999998,197.6 M161.39999999999998,195.4 L165.39999999999998,197.6" stroke="#707070" stroke-width="1.1" fill="none"/>
<text x="21.9" y="234.1" font-size="4.5" text-anchor="middle" fill="#444" font-family="Liberation Sans">L</text>
<text x="45.2" y="234.1" font-size="4.5" text-anchor="middle" fill="#444" font-family="Liberation Sans">Γ</text>
<text x="72.9" y="234.1" font-size="4.5" text-anchor="middle" fill="#444" font-family="Liberation Sans">X</text>
<text x="86.4" y="234.1" font-size="4.5" text-anchor="middle" fill="#444" font-family="Liberation Sans">W</text>
<text x="111.9" y="234.1" font-size="4.5" text-anchor="middle" fill="#444" font-family="Liberation Sans">K</text>
<text x="137.2" y="234.1" font-size="4.5" text-anchor="middle" fill="#444" font-family="Liberation Sans">L</text>
<text x="160.9" y="234.1" font-size="4.5" text-anchor="middle" fill="#444" font-family="Liberation Sans">Γ</text>
<text x="11.2" y="181.0" font-size="4.85" text-anchor="middle" fill="#333" font-family="Liberation Sans" transform="rotate(-90 11.2 181.0)">Energy (eV)</text>
<text x="68.4" y="127.9" font-size="10.8" fill="#111" font-family="Liberation Serif" transform="translate(0 127.9) scale(1 0.94) translate(0 -127.9)">1.4 GPa</text>
<line x1="59.9" y1="154.8" x2="59.9" y2="166.0" stroke="#4a72c4" stroke-width="1.4"/>
<path d="M57.9,156.4 L59.9,152.8 L61.9,156.4 Z" fill="#4a72c4"/>
<path d="M57.9,164.4 L59.9,168.0 L61.9,164.4 Z" fill="#4a72c4"/>
<line x1="45.2" y1="190.8" x2="45.2" y2="201.3" stroke="#4a72c4" stroke-width="1.4"/>
<path d="M43.2,192.4 L45.2,188.8 L47.2,192.4 Z" fill="#4a72c4"/>
<path d="M43.2,199.70000000000002 L45.2,203.3 L47.2,199.70000000000002 Z" fill="#4a72c4"/>
<text x="97.0" y="158.1" font-size="6.3" fill="#333" stroke="#333" stroke-width="0.12" font-family="Liberation Sans">Ev-c=7.086 eV</text>
<text x="97.10000000000001" y="194.6" font-size="6.3" fill="#333" stroke="#333" stroke-width="0.12" font-family="Liberation Sans">Ec-v=5.872 eV</text>
<line x1="211.6" y1="130.5" x2="211.6" y2="229.2" stroke="#dcdcdc" stroke-width="0.8"/>
<line x1="238.0" y1="130.5" x2="238.0" y2="229.2" stroke="#dcdcdc" stroke-width="0.8"/>
<line x1="252.3" y1="130.5" x2="252.3" y2="229.2" stroke="#dcdcdc" stroke-width="0.8"/>
<line x1="277.7" y1="130.5" x2="277.7" y2="229.2" stroke="#dcdcdc" stroke-width="0.8"/>
<line x1="303.4" y1="130.5" x2="303.4" y2="229.2" stroke="#dcdcdc" stroke-width="0.8"/>
<line x1="188.1" y1="151.1" x2="327.3" y2="151.1" stroke="#dcdcdc" stroke-width="0.8"/>
<line x1="188.1" y1="168.4" x2="327.3" y2="168.4" stroke="#dcdcdc" stroke-width="0.8"/>
<line x1="188.1" y1="188.2" x2="327.3" y2="188.2" stroke="#dcdcdc" stroke-width="0.8"/>
<line x1="188.1" y1="203.3" x2="327.3" y2="203.3" stroke="#dcdcdc" stroke-width="0.8"/>
<clipPath id="ca4"><rect x="188.1" y="130.5" width="139.20000000000002" height="98.69999999999999"/></clipPath>
<path clip-path="url(#ca4)" d="M188.1,135.7 C188.8,135.3 190.6,134.1 192.1,133.3 C193.7,132.5 196.1,131.4 197.2,131.0 C198.4,130.5 198.6,130.6 198.8,130.5 M188.1,138.7 C190.0,138.7 195.3,138.7 199.3,138.7 C203.3,138.7 209.0,138.7 211.9,138.7 C214.8,138.7 214.9,139.0 216.9,138.6 C218.8,138.3 221.7,137.3 223.5,136.5 C225.3,135.8 226.3,135.2 227.9,134.4 C229.6,133.6 231.9,132.4 233.4,131.7 C234.9,131.1 236.2,130.8 236.8,130.6 M211.9,138.7 C212.7,138.8 215.3,138.8 216.9,139.0 C218.4,139.2 220.1,140.1 221.3,140.1 C222.5,140.2 223.0,139.9 224.1,139.3 C225.2,138.7 226.8,137.3 227.9,136.4 C229.0,135.4 229.8,134.5 230.8,133.7 C231.8,132.9 233.0,131.9 233.7,131.4 C234.4,130.8 234.9,130.7 235.1,130.6 M222.4,130.6 C222.9,131.1 224.7,132.4 225.7,133.3 C226.7,134.2 227.1,135.2 228.4,136.1 C229.7,137.0 231.8,138.1 233.4,138.7 C235.0,139.4 236.3,139.8 237.8,139.9 C239.3,139.9 240.8,139.7 242.5,139.3 C244.2,138.9 246.2,138.1 247.8,137.5 C249.4,136.9 250.6,136.2 251.9,135.5 C253.1,134.9 254.2,134.3 255.3,133.6 C256.5,133.0 257.7,131.8 259.0,131.5 C260.4,131.3 261.8,131.8 263.5,132.1 C265.1,132.5 267.4,133.6 269.0,133.6 C270.5,133.6 271.5,132.8 272.6,132.3 C273.7,131.8 275.2,130.9 275.7,130.6 M239.0,130.6 C240.0,130.7 243.4,130.9 245.2,131.4 C246.9,131.8 248.0,132.4 249.2,133.1 C250.4,133.7 250.9,134.8 252.3,135.2 C253.7,135.7 255.5,135.7 257.4,135.9 C259.2,136.1 261.3,136.1 263.5,136.3 C265.7,136.5 268.4,136.8 270.6,137.0 C272.8,137.3 274.3,137.7 276.8,137.8 C279.3,137.9 282.2,137.7 285.5,137.8 C288.7,137.9 293.5,138.2 296.4,138.3 C299.3,138.5 301.9,138.7 303.0,138.8 M252.3,135.7 C253.8,135.9 258.5,136.6 261.2,136.7 C264.0,136.8 266.4,136.5 269.0,136.3 C271.6,136.0 274.4,135.5 276.8,135.2 C279.2,135.0 281.0,134.5 283.4,134.7 C285.7,134.8 288.4,135.7 290.9,136.3 C293.5,136.8 296.6,137.4 298.6,137.8 C300.6,138.2 302.3,138.6 303.0,138.8 M280.7,130.6 C281.0,130.6 280.6,130.5 282.3,130.9 C284.0,131.2 288.2,132.0 290.9,132.6 C293.7,133.1 296.5,133.7 298.6,134.2 C300.7,134.6 302.0,135.3 303.5,135.2 C305.0,135.1 305.9,134.3 307.4,133.6 C308.9,132.9 311.6,131.4 312.6,130.9 C313.6,130.4 313.3,130.6 313.4,130.6 M303.0,138.8 L327.3,138.8 M188.1,139.0 C189.0,139.3 191.3,139.9 193.3,140.9 C195.3,141.9 197.9,143.8 200.1,145.2 C202.3,146.7 204.5,148.6 206.3,149.6 C208.1,150.6 209.6,150.9 210.8,151.2 C212.0,151.5 212.4,151.6 213.6,151.2 C214.8,150.8 216.4,149.9 218.0,149.0 C219.7,148.1 222.0,146.3 223.5,145.8 C225.0,145.3 225.5,145.8 226.8,146.1 C228.0,146.4 229.5,147.2 231.2,147.7 C232.8,148.2 234.9,148.8 236.8,149.0 C238.6,149.2 240.4,149.2 242.5,149.0 C244.6,148.8 247.9,148.2 249.5,148.0 C251.2,147.7 250.0,147.7 252.3,147.6 C254.6,147.5 259.4,147.1 263.5,147.1 C267.6,147.1 273.5,147.5 276.8,147.6 C280.1,147.7 281.0,148.0 283.4,147.6 C285.7,147.3 288.6,146.6 290.9,145.5 C293.3,144.5 295.5,142.5 297.5,141.4 C299.5,140.2 301.0,138.8 303.0,138.8 C305.0,138.8 307.1,140.1 309.7,141.4 C312.3,142.7 315.9,145.0 318.7,146.6 C321.6,148.1 325.3,150.0 326.7,150.7 C328.1,151.5 327.2,151.0 327.3,151.0 M188.1,170.3 C189.6,170.3 193.0,170.3 196.9,170.1 C200.7,169.9 206.5,169.6 211.3,169.3 C216.1,169.0 222.0,168.3 225.5,168.4 C229.1,168.5 230.5,169.4 232.5,169.8 C234.5,170.2 235.7,170.5 237.6,170.8 C239.5,171.1 241.5,171.2 244.0,171.4 C246.5,171.6 250.4,171.9 252.6,171.9 C254.8,171.8 255.2,171.3 257.4,171.1 C259.5,170.9 262.3,170.7 265.5,170.6 C268.7,170.5 272.7,170.4 276.7,170.3 C280.7,170.2 285.3,170.1 289.7,170.0 C294.0,169.9 298.7,169.9 302.9,169.8 C307.1,169.7 311.0,169.4 314.9,169.3 C318.9,169.2 324.7,169.0 326.7,169.0 M211.3,169.3 C212.3,169.8 215.7,171.2 217.4,172.4 C219.0,173.6 220.1,175.6 221.4,176.6 C222.7,177.6 223.6,178.4 224.9,178.3 C226.3,178.3 227.9,177.0 229.5,176.1 C231.1,175.1 233.2,173.6 234.5,172.9 C235.9,172.2 236.0,172.0 237.6,171.9 C239.2,171.7 241.7,171.8 244.1,171.9 C246.6,171.9 250.4,172.3 252.3,172.3 C254.2,172.2 251.3,171.7 255.3,171.6 C259.4,171.5 268.8,171.5 276.7,171.6 C284.6,171.6 297.3,171.1 302.9,171.9 C308.5,172.6 307.8,174.1 310.5,176.1 C313.2,178.1 316.4,181.9 319.1,183.9 C321.8,185.9 325.4,187.4 326.7,188.1 M188.1,172.4 C188.9,172.7 191.4,173.9 192.7,174.5 C194.0,175.1 194.3,175.0 195.9,176.1 C197.4,177.1 200.2,179.3 202.1,180.7 C203.9,182.2 205.6,183.7 207.2,184.9 C208.7,186.2 209.6,188.1 211.3,188.3 C213.0,188.5 215.0,187.3 217.4,186.0 C219.7,184.8 223.0,182.5 225.5,180.7 C228.0,179.0 230.5,176.9 232.5,175.6 C234.5,174.3 235.7,173.4 237.6,172.9 C239.5,172.3 241.9,172.4 244.0,172.4 C246.1,172.3 248.4,172.3 250.3,172.6 C252.1,172.8 252.7,173.2 255.3,174.0 C258.0,174.7 263.1,176.8 266.0,177.1 C268.9,177.4 270.5,176.2 272.6,175.8 C274.7,175.3 276.4,174.4 278.8,174.5 C281.2,174.5 284.5,175.2 287.2,176.1 C289.8,176.9 291.9,178.6 294.5,179.7 C297.2,180.9 299.7,182.0 302.9,182.8 C306.1,183.7 309.7,184.0 313.7,184.9 C317.7,185.9 324.5,187.9 326.7,188.6 M188.1,176.4 C189.4,176.4 193.5,177.0 195.9,176.4 C198.2,175.7 199.5,173.6 202.1,172.4 C204.6,171.2 209.8,169.8 211.3,169.3 M188.1,182.3 C189.6,182.6 194.0,183.2 196.9,183.9 C199.7,184.6 202.7,185.8 205.1,186.5 C207.5,187.2 209.3,188.3 211.3,188.3 C213.3,188.3 215.0,187.5 217.4,186.3 C219.7,185.1 223.2,181.6 225.5,181.2 C227.9,180.9 229.5,183.3 231.5,184.4 C233.5,185.6 235.5,187.8 237.6,188.1 C239.7,188.4 241.9,187.2 244.0,186.5 C246.2,185.8 248.6,184.6 250.5,184.1 C252.3,183.7 252.8,184.0 255.3,183.7 C257.9,183.4 263.1,182.3 266.0,182.3 C268.9,182.4 270.3,183.4 272.6,183.9 C274.9,184.4 277.5,185.5 279.9,185.4 C282.3,185.3 284.7,184.2 287.2,183.3 C289.6,182.5 292.3,181.2 294.5,180.2 C296.8,179.3 299.4,178.3 300.8,177.7 C302.2,177.0 300.9,177.4 302.9,176.6 C304.9,175.7 310.0,173.4 312.7,172.4 C315.4,171.4 316.7,171.0 319.1,170.5 C321.4,170.0 325.4,169.5 326.7,169.3 M188.1,212.0 C189.6,211.7 193.0,211.1 196.9,210.3 C200.7,209.6 207.0,208.1 211.3,207.4 C215.6,206.6 218.9,206.4 222.4,205.7 C226.0,205.1 230.0,203.8 232.5,203.4 C235.1,203.0 235.7,202.7 237.6,203.1 C239.5,203.5 241.7,204.4 244.0,205.7 C246.3,207.0 249.3,209.6 251.5,210.9 C253.7,212.1 255.7,212.4 257.4,213.2 C259.1,213.9 259.8,214.8 261.7,215.5 C263.7,216.2 266.8,217.1 269.3,217.2 C271.8,217.4 274.0,217.1 276.7,216.6 C279.3,216.1 282.4,214.9 285.1,214.3 C287.7,213.6 290.0,213.0 292.4,212.6 C294.9,212.2 298.5,212.1 299.7,212.0 M211.3,207.4 C212.3,207.7 214.7,207.7 217.4,209.1 C220.0,210.6 224.1,214.5 227.4,216.0 C230.8,217.6 234.9,218.3 237.6,218.6 C240.4,218.8 241.7,219.0 244.0,217.8 C246.3,216.6 249.6,213.0 251.5,211.4 C253.4,209.8 253.8,208.6 255.3,208.0 C256.9,207.5 258.4,207.6 260.7,208.0 C263.1,208.4 266.6,209.0 269.3,210.3 C271.9,211.7 274.0,214.9 276.7,216.0 C279.3,217.2 282.4,217.4 285.1,217.2 C287.7,217.1 290.0,215.8 292.4,214.9 C294.9,214.1 298.0,212.5 299.7,212.0 C301.5,211.5 300.6,212.4 302.9,212.0 C305.2,211.6 309.7,210.4 313.7,209.7 C317.7,208.9 324.4,207.8 326.7,207.4 C328.9,207.0 327.2,207.3 327.3,207.3 M237.6,218.6 C239.9,218.5 248.5,218.4 251.5,218.3 C254.4,218.3 253.6,218.8 255.3,218.3 C257.1,217.9 259.4,216.8 261.7,215.5 C264.1,214.1 266.4,211.8 269.3,210.3 C272.1,208.8 275.8,207.1 278.8,206.6 C281.8,206.1 284.5,206.7 287.2,207.4 C289.8,208.0 292.4,209.6 294.5,210.3 C296.6,211.1 298.9,211.7 299.7,212.0 M188.1,212.1 C189.6,211.8 193.0,211.2 196.9,210.4 C200.7,209.7 208.9,208.0 211.3,207.5 M302.9,212.1 C304.7,211.7 309.7,210.5 313.7,209.8 C317.7,209.0 324.4,207.9 326.7,207.5 C328.9,207.1 327.2,207.4 327.3,207.4 M188.1,170.4 C189.6,170.4 193.0,170.4 196.9,170.2 C200.7,170.0 208.9,169.5 211.3,169.4 M302.9,169.9 C304.9,169.8 311.0,169.5 314.9,169.4 C318.9,169.3 324.7,169.1 326.7,169.1" fill="none" stroke="#686868" stroke-width="0.66"/>
<rect x="188.1" y="130.5" width="139.20000000000002" height="98.69999999999999" fill="none" stroke="#b4b4b4" stroke-width="0.95"/>
<line x1="186.6" y1="136.0" x2="188.1" y2="136.0" stroke="#555" stroke-width="0.7"/>
<text x="185.9" y="137.5" font-size="4.3" text-anchor="end" fill="#444" font-family="Liberation Sans">10</text>
<line x1="186.6" y1="146.9" x2="188.1" y2="146.9" stroke="#555" stroke-width="0.7"/>
<text x="185.9" y="148.4" font-size="4.3" text-anchor="end" fill="#444" font-family="Liberation Sans">8</text>
<line x1="186.6" y1="158.2" x2="188.1" y2="158.2" stroke="#555" stroke-width="0.7"/>
<text x="185.9" y="159.7" font-size="4.3" text-anchor="end" fill="#444" font-family="Liberation Sans">6</text>
<line x1="186.6" y1="168.4" x2="188.1" y2="168.4" stroke="#555" stroke-width="0.7"/>
<text x="185.9" y="169.9" font-size="4.3" text-anchor="end" fill="#444" font-family="Liberation Sans">0</text>
<line x1="186.6" y1="181.3" x2="188.1" y2="181.3" stroke="#555" stroke-width="0.7"/>
<text x="185.9" y="182.8" font-size="4.3" text-anchor="end" fill="#444" font-family="Liberation Sans">−1</text>
<line x1="186.6" y1="193.3" x2="188.1" y2="193.3" stroke="#555" stroke-width="0.7"/>
<text x="185.9" y="194.8" font-size="4.3" text-anchor="end" fill="#444" font-family="Liberation Sans">−2</text>
<line x1="186.6" y1="205.0" x2="188.1" y2="205.0" stroke="#555" stroke-width="0.7"/>
<text x="185.9" y="206.5" font-size="4.3" text-anchor="end" fill="#444" font-family="Liberation Sans">−7.5</text>
<line x1="186.6" y1="215.9" x2="188.1" y2="215.9" stroke="#555" stroke-width="0.7"/>
<text x="185.9" y="217.4" font-size="4.3" text-anchor="end" fill="#444" font-family="Liberation Sans">−8.0</text>
<line x1="186.6" y1="226.8" x2="188.1" y2="226.8" stroke="#555" stroke-width="0.7"/>
<text x="185.9" y="228.3" font-size="4.3" text-anchor="end" fill="#444" font-family="Liberation Sans">−8.5</text>
<path d="M183.7,162.3 L187.7,164.5 M188.29999999999998,162.3 L192.29999999999998,164.5" stroke="#707070" stroke-width="1.1" fill="none"/>
<path d="M322.90000000000003,162.3 L326.90000000000003,164.5 M327.5,162.3 L331.5,164.5" stroke="#707070" stroke-width="1.1" fill="none"/>
<path d="M183.7,195.4 L187.7,197.6 M188.29999999999998,195.4 L192.29999999999998,197.6" stroke="#707070" stroke-width="1.1" fill="none"/>
<path d="M322.90000000000003,195.4 L326.90000000000003,197.6 M327.5,195.4 L331.5,197.6" stroke="#707070" stroke-width="1.1" fill="none"/>
<text x="187.6" y="234.1" font-size="4.5" text-anchor="middle" fill="#444" font-family="Liberation Sans">L</text>
<text x="211.0" y="234.1" font-size="4.5" text-anchor="middle" fill="#444" font-family="Liberation Sans">Γ</text>
<text x="238.5" y="234.1" font-size="4.5" text-anchor="middle" fill="#444" font-family="Liberation Sans">X</text>
<text x="252.8" y="234.1" font-size="4.5" text-anchor="middle" fill="#444" font-family="Liberation Sans">W</text>
<text x="278.0" y="234.1" font-size="4.5" text-anchor="middle" fill="#444" font-family="Liberation Sans">K</text>
<text x="303.0" y="234.1" font-size="4.5" text-anchor="middle" fill="#444" font-family="Liberation Sans">L</text>
<text x="327.0" y="234.1" font-size="4.5" text-anchor="middle" fill="#444" font-family="Liberation Sans">Γ</text>
<text x="177.8" y="181.0" font-size="4.85" text-anchor="middle" fill="#333" font-family="Liberation Sans" transform="rotate(-90 177.8 181.0)">Energy (eV)</text>
<text x="231.3" y="127.9" font-size="10.8" fill="#111" font-family="Liberation Serif" transform="translate(0 127.9) scale(1 0.94) translate(0 -127.9)">2.0 GPa</text>
<line x1="225.9" y1="154.0" x2="225.9" y2="165.6" stroke="#4a72c4" stroke-width="1.4"/>
<path d="M223.9,155.6 L225.9,152.0 L227.9,155.6 Z" fill="#4a72c4"/>
<path d="M223.9,164.0 L225.9,167.6 L227.9,164.0 Z" fill="#4a72c4"/>
<line x1="211.5" y1="191.1" x2="211.5" y2="200.8" stroke="#4a72c4" stroke-width="1.4"/>
<path d="M209.5,192.7 L211.5,189.1 L213.5,192.7 Z" fill="#4a72c4"/>
<path d="M209.5,199.20000000000002 L211.5,202.8 L213.5,199.20000000000002 Z" fill="#4a72c4"/>
<text x="262.79999999999995" y="158.1" font-size="6.3" fill="#333" stroke="#333" stroke-width="0.12" font-family="Liberation Sans">Ev-c=7.123 eV</text>
<text x="263.09999999999997" y="194.6" font-size="6.3" fill="#333" stroke="#333" stroke-width="0.12" font-family="Liberation Sans">Ec-v=5.803 eV</text>
<line x1="45.6" y1="250.4" x2="45.6" y2="347.9" stroke="#dcdcdc" stroke-width="0.8"/>
<line x1="72.5" y1="250.4" x2="72.5" y2="347.9" stroke="#dcdcdc" stroke-width="0.8"/>
<line x1="86.5" y1="250.4" x2="86.5" y2="347.9" stroke="#dcdcdc" stroke-width="0.8"/>
<line x1="111.3" y1="250.4" x2="111.3" y2="347.9" stroke="#dcdcdc" stroke-width="0.8"/>
<line x1="138.2" y1="250.4" x2="138.2" y2="347.9" stroke="#dcdcdc" stroke-width="0.8"/>
<line x1="21.8" y1="271.4" x2="161.7" y2="271.4" stroke="#dcdcdc" stroke-width="0.8"/>
<line x1="21.8" y1="288.2" x2="161.7" y2="288.2" stroke="#dcdcdc" stroke-width="0.8"/>
<line x1="21.8" y1="309.0" x2="161.7" y2="309.0" stroke="#dcdcdc" stroke-width="0.8"/>
<line x1="21.8" y1="320.1" x2="161.7" y2="320.1" stroke="#dcdcdc" stroke-width="0.8"/>
<clipPath id="ca5"><rect x="21.8" y="250.4" width="139.89999999999998" height="97.49999999999997"/></clipPath>
<path clip-path="url(#ca5)" d="M21.8,255.7 C22.5,255.3 24.3,254.1 25.9,253.3 C27.4,252.5 29.9,251.4 31.1,250.9 C32.2,250.4 32.4,250.5 32.7,250.4 M21.8,258.8 C23.7,258.8 29.1,258.8 33.2,258.8 C37.2,258.8 42.9,258.8 45.9,258.8 C48.9,258.8 49.0,259.1 51.0,258.7 C53.0,258.3 55.9,257.3 57.7,256.6 C59.6,255.8 60.5,255.2 62.2,254.3 C63.9,253.5 66.3,252.3 67.8,251.7 C69.3,251.0 70.7,250.7 71.2,250.5 M45.9,258.8 C46.7,258.8 49.4,258.8 51.0,259.1 C52.6,259.3 54.3,260.2 55.5,260.2 C56.7,260.3 57.2,260.0 58.3,259.4 C59.4,258.7 61.1,257.3 62.2,256.4 C63.4,255.4 64.2,254.5 65.2,253.7 C66.1,252.8 67.4,251.8 68.1,251.3 C68.8,250.7 69.3,250.6 69.6,250.5 M56.6,250.5 C57.1,251.0 59.0,252.4 60.0,253.3 C61.0,254.2 61.4,255.2 62.7,256.1 C64.0,257.0 66.2,258.1 67.8,258.8 C69.4,259.4 70.8,259.8 72.3,259.9 C73.8,260.0 75.3,259.8 76.9,259.4 C78.5,259.0 80.6,258.2 82.1,257.5 C83.6,256.9 84.9,256.2 86.1,255.5 C87.3,254.8 88.3,254.3 89.5,253.6 C90.6,252.9 91.7,251.7 93.0,251.5 C94.4,251.2 95.8,251.7 97.4,252.0 C99.0,252.4 101.3,253.5 102.8,253.6 C104.3,253.6 105.2,252.7 106.3,252.2 C107.4,251.7 108.8,250.8 109.3,250.5 M73.5,250.5 C74.5,250.6 77.8,250.8 79.5,251.3 C81.2,251.7 82.3,252.3 83.5,253.0 C84.7,253.7 85.2,254.7 86.5,255.2 C87.8,255.7 89.6,255.7 91.5,255.9 C93.3,256.1 95.3,256.1 97.4,256.3 C99.6,256.5 102.2,256.8 104.4,257.0 C106.5,257.3 107.9,257.7 110.4,257.8 C112.9,257.9 116.0,257.7 119.4,257.8 C122.8,257.9 127.8,258.2 130.9,258.4 C134.0,258.6 136.6,258.8 137.8,258.9 M86.5,255.7 C88.0,255.9 92.5,256.7 95.2,256.8 C97.9,256.9 100.2,256.5 102.8,256.3 C105.3,256.0 108.0,255.5 110.4,255.2 C112.8,254.9 114.8,254.5 117.2,254.6 C119.7,254.8 122.5,255.7 125.2,256.3 C127.8,256.8 131.1,257.4 133.2,257.8 C135.3,258.3 137.0,258.7 137.8,258.9 M114.4,250.5 C114.7,250.5 114.3,250.4 116.1,250.8 C117.9,251.1 122.3,252.0 125.2,252.5 C128.0,253.1 131.0,253.7 133.2,254.2 C135.4,254.6 136.8,255.3 138.3,255.2 C139.8,255.1 140.7,254.3 142.2,253.6 C143.6,252.8 146.2,251.3 147.2,250.8 C148.2,250.3 147.9,250.5 148.0,250.5 M137.8,258.9 L161.7,258.9 M21.8,259.1 C22.7,259.4 25.1,259.9 27.1,261.0 C29.1,262.1 31.8,264.0 33.9,265.4 C36.1,266.9 38.4,268.8 40.2,269.9 C42.0,270.9 43.6,271.2 44.8,271.5 C46.0,271.8 46.4,271.9 47.7,271.5 C48.9,271.1 50.5,270.2 52.2,269.3 C53.8,268.4 56.2,266.5 57.7,266.0 C59.2,265.5 59.8,266.0 61.1,266.3 C62.4,266.6 63.9,267.4 65.6,267.9 C67.3,268.4 69.3,269.1 71.2,269.3 C73.1,269.5 74.8,269.5 76.9,269.3 C79.0,269.1 82.2,268.5 83.8,268.2 C85.4,268.0 84.2,268.0 86.5,267.8 C88.8,267.7 93.4,267.4 97.4,267.4 C101.4,267.4 107.1,267.8 110.4,267.8 C113.7,267.9 114.8,268.2 117.2,267.8 C119.7,267.5 122.7,266.8 125.2,265.7 C127.6,264.7 129.9,262.6 132.0,261.5 C134.2,260.3 135.7,258.9 137.8,258.9 C139.8,258.9 141.8,260.2 144.4,261.5 C147.0,262.8 150.5,265.2 153.3,266.8 C156.1,268.4 159.7,270.3 161.1,271.0 C162.5,271.8 161.6,271.3 161.7,271.3 M21.8,290.2 C23.3,290.2 26.7,290.2 30.7,290.0 C34.6,289.8 40.4,289.4 45.3,289.1 C50.2,288.8 56.2,288.1 59.8,288.2 C63.4,288.3 64.9,289.2 66.9,289.7 C69.0,290.1 70.2,290.4 72.1,290.7 C74.0,291.0 76.0,291.1 78.4,291.3 C80.8,291.5 84.6,291.9 86.8,291.9 C89.0,291.8 89.4,291.2 91.5,291.0 C93.6,290.8 96.3,290.6 99.4,290.5 C102.5,290.4 106.2,290.3 110.3,290.2 C114.4,290.1 119.2,290.0 123.8,289.9 C128.4,289.8 133.4,289.8 137.7,289.7 C142.0,289.5 145.6,289.3 149.5,289.1 C153.4,289.0 159.2,288.9 161.1,288.8 M45.3,289.1 C46.3,289.7 49.8,291.1 51.5,292.4 C53.2,293.7 54.3,295.7 55.6,296.8 C56.9,297.8 57.8,298.7 59.2,298.7 C60.6,298.6 62.2,297.2 63.8,296.2 C65.4,295.3 67.6,293.6 69.0,292.9 C70.4,292.2 70.5,292.0 72.1,291.9 C73.7,291.7 76.1,291.8 78.5,291.9 C80.9,291.9 84.7,292.3 86.5,292.3 C88.3,292.2 85.5,291.7 89.5,291.5 C93.4,291.4 102.3,291.5 110.3,291.5 C118.3,291.6 131.9,291.1 137.7,291.9 C143.5,292.6 142.5,294.1 145.2,296.2 C147.8,298.4 150.9,302.4 153.6,304.5 C156.2,306.6 159.8,308.2 161.1,308.9 M21.8,292.4 C22.6,292.7 25.2,293.9 26.5,294.6 C27.8,295.2 28.1,295.2 29.7,296.2 C31.2,297.3 34.0,299.6 35.9,301.2 C37.8,302.7 39.6,304.2 41.1,305.6 C42.7,306.9 43.6,308.9 45.3,309.1 C47.0,309.3 49.1,308.0 51.5,306.7 C53.9,305.4 57.2,303.0 59.8,301.2 C62.4,299.3 64.9,297.1 66.9,295.7 C69.0,294.3 70.2,293.5 72.1,292.9 C74.0,292.3 76.3,292.4 78.4,292.4 C80.5,292.3 82.7,292.3 84.5,292.6 C86.3,292.9 86.9,293.3 89.5,294.1 C92.0,294.8 97.1,297.0 99.9,297.3 C102.7,297.6 104.2,296.4 106.3,295.9 C108.4,295.5 110.0,294.5 112.4,294.6 C114.9,294.6 118.5,295.3 121.2,296.2 C124.0,297.2 126.2,298.9 128.9,300.1 C131.7,301.3 134.4,302.4 137.7,303.4 C140.9,304.3 144.4,304.6 148.3,305.6 C152.2,306.5 159.0,308.6 161.1,309.3 M21.8,296.6 C23.1,296.6 27.3,297.3 29.7,296.6 C32.0,295.9 33.3,293.6 35.9,292.4 C38.5,291.1 43.7,289.7 45.3,289.1 M21.8,302.8 C23.3,303.1 27.8,303.8 30.7,304.5 C33.5,305.2 36.6,306.5 39.0,307.2 C41.5,308.0 43.2,309.1 45.3,309.1 C47.4,309.0 49.1,308.2 51.5,307.0 C53.9,305.8 57.4,302.0 59.8,301.7 C62.2,301.4 63.8,303.8 65.8,305.0 C67.9,306.2 70.0,308.5 72.1,308.9 C74.2,309.3 76.3,307.9 78.4,307.2 C80.5,306.5 82.9,305.2 84.7,304.7 C86.5,304.2 86.9,304.6 89.5,304.3 C92.0,304.0 97.1,302.8 99.9,302.8 C102.7,302.9 104.1,304.0 106.3,304.5 C108.6,305.0 111.1,306.2 113.6,306.1 C116.1,306.0 118.7,304.8 121.2,303.9 C123.8,303.0 126.5,301.6 128.9,300.6 C131.3,299.6 134.0,298.6 135.5,297.9 C136.9,297.3 135.7,297.7 137.7,296.8 C139.6,295.8 144.7,293.4 147.3,292.4 C150.0,291.3 151.3,290.9 153.6,290.4 C155.9,289.9 159.8,289.3 161.1,289.1 M21.8,329.4 C23.3,329.1 26.7,328.5 30.7,327.6 C34.6,326.8 41.0,325.3 45.3,324.5 C49.6,323.6 53.0,323.4 56.7,322.7 C60.3,322.0 64.3,320.7 66.9,320.2 C69.5,319.8 70.2,319.6 72.1,320.0 C74.0,320.4 76.1,321.3 78.4,322.7 C80.7,324.1 83.5,326.9 85.7,328.2 C87.9,329.6 89.8,329.9 91.5,330.7 C93.1,331.5 93.8,332.4 95.7,333.2 C97.7,333.9 100.6,334.9 103.1,335.1 C105.5,335.3 107.6,334.9 110.3,334.4 C113.0,333.8 116.3,332.6 119.0,331.9 C121.8,331.2 124.2,330.5 126.7,330.1 C129.3,329.7 133.1,329.5 134.3,329.4 M45.3,324.5 C46.3,324.8 48.7,324.8 51.5,326.3 C54.2,327.9 58.3,332.1 61.7,333.8 C65.2,335.5 69.3,336.2 72.1,336.5 C74.9,336.8 76.1,336.9 78.4,335.6 C80.7,334.4 83.9,330.6 85.7,328.8 C87.5,327.1 88.0,325.8 89.5,325.2 C91.0,324.6 92.5,324.8 94.7,325.2 C97.0,325.6 100.5,326.2 103.1,327.6 C105.7,329.1 107.6,332.5 110.3,333.8 C113.0,335.0 116.3,335.3 119.0,335.1 C121.8,334.9 124.2,333.5 126.7,332.6 C129.3,331.6 132.5,329.9 134.3,329.4 C136.2,328.9 135.3,329.8 137.7,329.4 C140.0,329.0 144.4,327.8 148.3,326.9 C152.2,326.1 158.9,324.9 161.1,324.5 C163.3,324.0 161.6,324.4 161.7,324.3 M72.1,336.5 C74.4,336.4 82.8,336.3 85.7,336.2 C88.6,336.2 87.8,336.7 89.5,336.2 C91.1,335.7 93.5,334.6 95.7,333.2 C98.0,331.7 100.3,329.2 103.1,327.6 C105.9,326.0 109.4,324.2 112.4,323.6 C115.5,323.1 118.5,323.8 121.2,324.5 C124.0,325.1 126.7,326.8 128.9,327.6 C131.1,328.5 133.4,329.1 134.3,329.4 M21.8,329.5 C23.3,329.2 26.7,328.6 30.7,327.8 C34.6,326.9 42.9,325.1 45.3,324.6 M137.7,329.5 C139.5,329.1 144.4,327.9 148.3,327.1 C152.2,326.2 158.9,325.0 161.1,324.6 C163.3,324.1 161.6,324.5 161.7,324.5 M21.8,290.3 C23.3,290.3 26.7,290.3 30.7,290.1 C34.6,289.9 42.9,289.4 45.3,289.2 M137.7,289.8 C139.7,289.7 145.6,289.4 149.5,289.2 C153.4,289.1 159.2,289.0 161.1,288.9" fill="none" stroke="#686868" stroke-width="0.66"/>
<rect x="21.8" y="250.4" width="139.89999999999998" height="97.49999999999997" fill="none" stroke="#b4b4b4" stroke-width="0.95"/>
<line x1="20.3" y1="256.0" x2="21.8" y2="256.0" stroke="#555" stroke-width="0.7"/>
<text x="19.6" y="257.5" font-size="4.3" text-anchor="end" fill="#444" font-family="Liberation Sans">10</text>
<line x1="20.3" y1="266.5" x2="21.8" y2="266.5" stroke="#555" stroke-width="0.7"/>
<text x="19.6" y="268.0" font-size="4.3" text-anchor="end" fill="#444" font-family="Liberation Sans">8</text>
<line x1="20.3" y1="277.8" x2="21.8" y2="277.8" stroke="#555" stroke-width="0.7"/>
<text x="19.6" y="279.3" font-size="4.3" text-anchor="end" fill="#444" font-family="Liberation Sans">6</text>
<line x1="20.3" y1="288.2" x2="21.8" y2="288.2" stroke="#555" stroke-width="0.7"/>
<text x="19.6" y="289.7" font-size="4.3" text-anchor="end" fill="#444" font-family="Liberation Sans">0</text>
<line x1="20.3" y1="300.5" x2="21.8" y2="300.5" stroke="#555" stroke-width="0.7"/>
<text x="19.6" y="302.0" font-size="4.3" text-anchor="end" fill="#444" font-family="Liberation Sans">−1</text>
<line x1="20.3" y1="313.2" x2="21.8" y2="313.2" stroke="#555" stroke-width="0.7"/>
<text x="19.6" y="314.7" font-size="4.3" text-anchor="end" fill="#444" font-family="Liberation Sans">−2</text>
<line x1="20.3" y1="324.2" x2="21.8" y2="324.2" stroke="#555" stroke-width="0.7"/>
<text x="19.6" y="325.7" font-size="4.3" text-anchor="end" fill="#444" font-family="Liberation Sans">−7.5</text>
<line x1="20.3" y1="335.3" x2="21.8" y2="335.3" stroke="#555" stroke-width="0.7"/>
<text x="19.6" y="336.8" font-size="4.3" text-anchor="end" fill="#444" font-family="Liberation Sans">−8.0</text>
<line x1="20.3" y1="346.5" x2="21.8" y2="346.5" stroke="#555" stroke-width="0.7"/>
<text x="19.6" y="348.0" font-size="4.3" text-anchor="end" fill="#444" font-family="Liberation Sans">−8.5</text>
<path d="M17.4,282.2 L21.400000000000002,284.40000000000003 M22.0,282.2 L26.0,284.40000000000003" stroke="#707070" stroke-width="1.1" fill="none"/>
<path d="M157.29999999999998,282.2 L161.29999999999998,284.40000000000003 M161.89999999999998,282.2 L165.89999999999998,284.40000000000003" stroke="#707070" stroke-width="1.1" fill="none"/>
<path d="M17.4,314.59999999999997 L21.400000000000002,316.8 M22.0,314.59999999999997 L26.0,316.8" stroke="#707070" stroke-width="1.1" fill="none"/>
<path d="M157.29999999999998,314.59999999999997 L161.29999999999998,316.8 M161.89999999999998,314.59999999999997 L165.89999999999998,316.8" stroke="#707070" stroke-width="1.1" fill="none"/>
<text x="21.9" y="352.8" font-size="4.5" text-anchor="middle" fill="#444" font-family="Liberation Sans">L</text>
<text x="45.4" y="352.8" font-size="4.5" text-anchor="middle" fill="#444" font-family="Liberation Sans">Γ</text>
<text x="72.5" y="352.8" font-size="4.5" text-anchor="middle" fill="#444" font-family="Liberation Sans">X</text>
<text x="86.5" y="352.8" font-size="4.5" text-anchor="middle" fill="#444" font-family="Liberation Sans">W</text>
<text x="111.3" y="352.8" font-size="4.5" text-anchor="middle" fill="#444" font-family="Liberation Sans">K</text>
<text x="138.2" y="352.8" font-size="4.5" text-anchor="middle" fill="#444" font-family="Liberation Sans">L</text>
<text x="161.5" y="352.8" font-size="4.5" text-anchor="middle" fill="#444" font-family="Liberation Sans">Γ</text>
<text x="11.2" y="300.7" font-size="4.85" text-anchor="middle" fill="#333" font-family="Liberation Sans" transform="rotate(-90 11.2 300.7)">Energy (eV)</text>
<text x="65.4" y="246.6" font-size="10.8" fill="#111" font-family="Liberation Serif" transform="translate(0 246.6) scale(1 0.94) translate(0 -246.6)">3.7 GPa</text>
<line x1="59.9" y1="273.6" x2="59.9" y2="285.0" stroke="#4a72c4" stroke-width="1.4"/>
<path d="M57.9,275.20000000000005 L59.9,271.6 L61.9,275.20000000000005 Z" fill="#4a72c4"/>
<path d="M57.9,283.4 L59.9,287.0 L61.9,283.4 Z" fill="#4a72c4"/>
<line x1="45.3" y1="312.1" x2="45.3" y2="317.7" stroke="#4a72c4" stroke-width="1.4"/>
<path d="M43.3,313.70000000000005 L45.3,310.1 L47.3,313.70000000000005 Z" fill="#4a72c4"/>
<path d="M43.3,316.09999999999997 L45.3,319.7 L47.3,316.09999999999997 Z" fill="#4a72c4"/>
<text x="97.0" y="278.5" font-size="6.3" fill="#333" stroke="#333" stroke-width="0.12" font-family="Liberation Sans">Ev-c=7.221 eV</text>
<text x="97.0" y="314.2" font-size="6.3" fill="#333" stroke="#333" stroke-width="0.12" font-family="Liberation Sans">Ec-v=5.632 eV</text>
<line x1="391.4" y1="10.9" x2="391.4" y2="109.0" stroke="#dcdcdc" stroke-width="0.8"/>
<line x1="416.5" y1="10.9" x2="416.5" y2="109.0" stroke="#dcdcdc" stroke-width="0.8"/>
<line x1="438.5" y1="10.9" x2="438.5" y2="109.0" stroke="#dcdcdc" stroke-width="0.8"/>
<line x1="456.4" y1="10.9" x2="456.4" y2="109.0" stroke="#dcdcdc" stroke-width="0.8"/>
<line x1="481.5" y1="10.9" x2="481.5" y2="109.0" stroke="#dcdcdc" stroke-width="0.8"/>
<line x1="499.3" y1="10.9" x2="499.3" y2="109.0" stroke="#dcdcdc" stroke-width="0.8"/>
<line x1="372.9" y1="35.2" x2="512.4" y2="35.2" stroke="#dcdcdc" stroke-width="0.8"/>
<line x1="372.9" y1="51.3" x2="512.4" y2="51.3" stroke="#dcdcdc" stroke-width="0.8"/>
<line x1="372.9" y1="70.5" x2="512.4" y2="70.5" stroke="#dcdcdc" stroke-width="0.8"/>
<line x1="372.9" y1="85.6" x2="512.4" y2="85.6" stroke="#dcdcdc" stroke-width="0.8"/>
<clipPath id="cb1"><rect x="372.9" y="10.9" width="139.5" height="98.1"/></clipPath>
<path clip-path="url(#cb1)" d="M372.9,27.7 C374.4,28.3 379.1,31.2 382.2,31.5 C385.3,31.8 388.8,30.0 391.4,29.3 C394.0,28.6 395.9,28.4 398.0,27.5 C400.1,26.6 402.0,25.1 404.0,24.0 C406.0,22.9 407.9,21.8 410.0,21.0 C412.1,20.2 414.5,19.6 416.5,19.5 C418.5,19.4 420.2,19.5 422.0,20.6 C423.8,21.7 425.3,24.3 427.0,26.2 C428.7,28.1 430.1,30.3 432.0,31.8 C433.9,33.3 436.4,35.2 438.5,35.3 C440.6,35.4 442.6,33.8 444.5,32.5 C446.4,31.2 448.0,29.0 450.0,27.8 C452.0,26.6 454.5,25.9 456.5,25.5 C458.5,25.1 459.9,25.6 462.0,25.3 C464.1,25.1 466.7,24.5 469.0,24.0 C471.3,23.5 473.9,22.8 476.0,22.3 C478.1,21.8 479.1,21.7 481.5,21.1 C483.9,20.6 487.4,19.6 490.4,19.0 C493.4,18.4 496.7,17.4 499.3,17.5 C501.9,17.6 503.7,18.8 505.9,19.5 C508.1,20.2 511.3,21.4 512.4,21.8 M372.9,24.0 C374.4,24.1 379.1,25.0 382.2,24.8 C385.3,24.6 388.8,23.4 391.4,22.7 C394.0,22.0 395.9,21.1 398.0,20.5 C400.1,19.9 400.9,19.3 404.0,19.0 C407.1,18.7 413.5,18.4 416.5,18.8 C419.5,19.2 420.2,20.4 422.0,21.5 C423.8,22.6 425.3,24.2 427.0,25.5 C428.7,26.8 430.1,28.5 432.0,29.5 C433.9,30.5 436.4,31.4 438.5,31.4 C440.6,31.4 442.6,30.5 444.5,29.5 C446.4,28.5 448.0,26.8 450.0,25.5 C452.0,24.2 454.5,22.7 456.5,21.9 C458.5,21.1 459.9,21.1 462.0,20.8 C464.1,20.5 466.7,20.3 469.0,20.2 C471.3,20.1 473.9,19.9 476.0,20.0 C478.1,20.1 479.1,20.2 481.5,20.7 C483.9,21.2 487.4,22.1 490.4,23.0 C493.4,23.9 496.7,25.8 499.3,26.0 C501.9,26.2 503.7,25.0 505.9,24.5 C508.1,24.0 511.3,23.1 512.4,22.8 M372.9,21.9 C374.4,21.6 379.1,20.0 382.2,20.2 C385.3,20.4 388.8,22.2 391.4,23.0 C394.0,23.8 395.9,24.6 398.0,25.0 C400.1,25.4 400.9,25.2 404.0,25.3 C407.1,25.4 413.5,25.5 416.5,25.5 C419.5,25.5 420.2,25.3 422.0,25.2 C423.8,25.1 425.3,24.9 427.0,25.0 C428.7,25.1 430.1,25.8 432.0,26.0 C433.9,26.2 436.4,26.6 438.5,26.5 C440.6,26.4 442.6,26.0 444.5,25.5 C446.4,25.0 448.0,24.1 450.0,23.5 C452.0,22.9 454.5,22.5 456.5,22.2 C458.5,21.9 459.9,21.8 462.0,21.5 C464.1,21.2 466.7,20.7 469.0,20.5 C471.3,20.3 473.9,20.5 476.0,20.5 C478.1,20.5 479.1,21.0 481.5,20.7 C483.9,20.4 487.4,19.2 490.4,18.5 C493.4,17.8 496.7,16.8 499.3,16.5 C501.9,16.2 503.7,16.6 505.9,16.8 C508.1,17.0 511.3,17.4 512.4,17.5 M372.9,20.6 C374.4,20.9 379.1,21.7 382.2,22.5 C385.3,23.3 388.8,25.1 391.4,25.4 C394.0,25.6 395.9,24.2 398.0,24.0 C400.1,23.8 402.0,24.8 404.0,24.4 C406.0,24.0 407.9,22.4 410.0,21.5 C412.1,20.6 414.5,19.5 416.5,19.0 C418.5,18.5 420.2,18.6 422.0,18.5 C423.8,18.4 425.3,18.3 427.0,18.5 C428.7,18.7 430.1,19.1 432.0,19.5 C433.9,19.9 435.9,20.7 438.5,21.0 C441.1,21.3 444.5,21.9 447.5,21.5 C450.5,21.1 454.1,19.6 456.5,18.8 C458.9,18.1 459.9,17.6 462.0,17.0 C464.1,16.4 466.7,15.9 469.0,15.5 C471.3,15.1 473.9,14.7 476.0,14.5 C478.1,14.3 479.1,14.3 481.5,14.4 C483.9,14.5 487.4,14.5 490.4,14.8 C493.4,15.2 496.7,16.2 499.3,16.5 C501.9,16.8 503.7,16.3 505.9,16.5 C508.1,16.7 511.3,17.3 512.4,17.5 M372.9,13.0 C374.4,13.9 379.1,16.7 382.2,18.3 C385.3,19.9 388.8,22.1 391.4,22.7 C394.0,23.3 395.9,22.3 398.0,22.0 C400.1,21.7 400.9,21.7 404.0,21.0 C407.1,20.3 412.7,18.2 416.5,17.7 C420.3,17.2 423.3,17.7 427.0,18.0 C430.7,18.3 435.1,19.3 438.5,19.5 C441.9,19.7 444.5,19.1 447.5,19.0 C450.5,18.9 454.1,18.8 456.5,18.8 C458.9,18.8 459.9,18.7 462.0,18.8 C464.1,18.9 466.7,19.0 469.0,19.2 C471.3,19.4 473.9,19.6 476.0,20.0 C478.1,20.4 479.1,21.6 481.5,21.8 C483.9,22.0 487.4,21.2 490.4,21.0 C493.4,20.8 496.7,20.6 499.3,20.7 C501.9,20.8 503.7,21.3 505.9,21.5 C508.1,21.7 511.3,21.8 512.4,21.8 M372.9,15.9 C374.4,15.8 379.1,15.1 382.2,15.0 C385.3,14.9 387.8,15.2 391.4,15.3 C395.0,15.4 399.8,15.7 404.0,15.8 C408.2,15.9 412.7,15.9 416.5,16.0 C420.3,16.1 423.3,16.3 427.0,16.5 C430.7,16.7 435.1,16.8 438.5,17.0 C441.9,17.2 444.5,17.2 447.5,17.5 C450.5,17.8 454.1,18.8 456.5,18.8 C458.9,18.9 459.9,18.1 462.0,17.8 C464.1,17.5 466.7,17.0 469.0,16.8 C471.3,16.6 473.9,16.5 476.0,16.5 C478.1,16.5 479.1,16.8 481.5,17.0 C483.9,17.2 487.4,17.4 490.4,18.0 C493.4,18.6 496.7,20.4 499.3,20.7 C501.9,20.9 503.7,20.0 505.9,19.5 C508.1,19.0 511.3,17.8 512.4,17.5 M372.9,17.5 C374.4,17.2 379.1,15.9 382.2,15.5 C385.3,15.1 387.8,15.5 391.4,15.3 C395.0,15.1 399.8,14.3 404.0,14.3 C408.2,14.3 412.7,15.4 416.5,15.3 C420.3,15.2 423.3,13.7 427.0,13.7 C430.7,13.7 435.1,15.2 438.5,15.3 C441.9,15.4 444.5,14.6 447.5,14.1 C450.5,13.6 454.1,12.8 456.5,12.5 C458.9,12.2 459.9,12.2 462.0,12.2 C464.1,12.2 466.7,12.2 469.0,12.3 C471.3,12.4 473.9,12.4 476.0,12.5 C478.1,12.6 479.1,12.8 481.5,12.9 C483.9,13.0 487.4,12.7 490.4,12.8 C493.4,12.9 496.7,13.1 499.3,13.3 C501.9,13.5 503.7,13.6 505.9,13.8 C508.1,14.0 511.3,14.3 512.4,14.4 M372.9,12.2 C376.0,12.6 386.2,13.7 391.4,14.4 C396.6,15.1 399.8,16.0 404.0,16.5 C408.2,17.0 412.7,17.5 416.5,17.5 C420.3,17.5 423.3,16.9 427.0,16.5 C430.7,16.1 435.1,15.4 438.5,15.4 C441.9,15.4 444.5,16.3 447.5,16.5 C450.5,16.7 454.1,16.7 456.5,16.5 C458.9,16.3 459.9,15.8 462.0,15.5 C464.1,15.2 466.7,14.8 469.0,14.5 C471.3,14.2 473.9,14.0 476.0,14.0 C478.1,14.0 479.1,14.2 481.5,14.4 C483.9,14.7 487.4,15.7 490.4,15.5 C493.4,15.3 496.7,13.6 499.3,13.3 C501.9,13.0 503.7,13.3 505.9,13.5 C508.1,13.7 511.3,14.2 512.4,14.4 M372.9,18.2 C374.4,17.9 379.1,16.6 382.2,16.5 C385.3,16.4 387.8,16.8 391.4,17.5 C395.0,18.2 399.8,20.3 404.0,20.5 C408.2,20.7 412.7,18.8 416.5,18.6 C420.3,18.4 423.3,19.3 427.0,19.5 C430.7,19.7 435.1,19.8 438.5,19.6 C441.9,19.4 444.5,19.3 447.5,18.5 C450.5,17.7 454.1,15.4 456.5,14.7 C458.9,13.9 459.9,14.2 462.0,14.0 C464.1,13.8 466.7,13.6 469.0,13.5 C471.3,13.4 473.9,13.3 476.0,13.2 C478.1,13.1 479.1,12.8 481.5,12.9 C483.9,13.0 487.4,13.2 490.4,13.5 C493.4,13.8 496.7,14.8 499.3,15.0 C501.9,15.2 503.7,14.9 505.9,14.8 C508.1,14.7 511.3,14.5 512.4,14.4 M372.9,88.2 C374.4,88.1 379.1,87.7 382.2,87.7 C385.3,87.7 387.8,88.7 391.4,88.2 C395.0,87.7 399.8,84.4 404.0,84.9 C408.2,85.4 412.6,91.0 416.5,91.0 C420.4,91.0 423.8,85.3 427.5,84.9 C431.2,84.5 435.2,88.0 438.5,88.5 C441.8,89.0 444.5,87.8 447.5,88.2 C450.5,88.6 452.8,90.8 456.4,91.1 C460.0,91.4 464.8,89.5 469.0,89.9 C473.2,90.3 477.9,93.5 481.5,93.4 C485.1,93.3 487.4,90.0 490.4,89.3 C493.4,88.6 496.7,89.1 499.3,89.3 C501.9,89.5 503.7,89.7 505.9,90.5 C508.1,91.3 511.3,93.4 512.4,94.0 M372.9,89.3 C374.4,89.3 379.1,89.7 382.2,89.5 C385.3,89.3 387.8,88.4 391.4,88.2 C395.0,88.0 399.8,87.7 404.0,88.2 C408.2,88.7 412.6,90.8 416.5,91.0 C420.4,91.2 423.8,89.5 427.5,89.3 C431.2,89.1 435.2,89.9 438.5,89.9 C441.8,89.9 444.5,89.0 447.5,89.3 C450.5,89.5 452.8,90.8 456.4,91.4 C460.0,92.0 464.8,92.5 469.0,92.8 C473.2,93.1 477.9,93.7 481.5,93.4 C485.1,93.1 487.4,91.5 490.4,91.1 C493.4,90.7 496.7,90.9 499.3,91.1 C501.9,91.2 503.7,91.5 505.9,92.0 C508.1,92.5 511.3,93.7 512.4,94.0 M372.9,90.4 C374.4,90.5 379.1,91.1 382.2,91.0 C385.3,90.9 387.8,90.0 391.4,89.9 C395.0,89.8 399.8,90.1 404.0,90.4 C408.2,90.8 412.6,91.9 416.5,92.0 C420.4,92.1 423.8,91.1 427.5,91.0 C431.2,90.9 435.2,91.3 438.5,91.3 C441.8,91.3 444.5,91.0 447.5,91.1 C450.5,91.2 452.8,91.1 456.4,91.7 C460.0,92.3 464.8,94.1 469.0,94.6 C473.2,95.1 477.9,94.3 481.5,94.6 C485.1,94.9 487.4,95.7 490.4,96.4 C493.4,97.1 496.7,98.8 499.3,98.7 C501.9,98.6 503.7,96.7 505.9,96.0 C508.1,95.3 511.3,94.8 512.4,94.6 M372.9,93.7 C374.4,93.5 379.1,92.5 382.2,92.6 C385.3,92.7 387.8,94.3 391.4,94.2 C395.0,94.1 399.8,91.6 404.0,92.0 C408.2,92.4 412.6,96.2 416.5,96.4 C420.4,96.6 423.8,93.4 427.5,93.1 C431.2,92.8 435.2,94.7 438.5,94.7 C441.8,94.8 444.5,93.6 447.5,93.4 C450.5,93.2 452.8,92.9 456.4,93.4 C460.0,93.9 464.8,96.0 469.0,96.4 C473.2,96.8 477.9,95.5 481.5,95.8 C485.1,96.1 487.4,97.6 490.4,98.1 C493.4,98.6 496.7,98.5 499.3,98.7 C501.9,98.9 503.7,99.2 505.9,99.0 C508.1,98.8 511.3,97.8 512.4,97.5 M372.9,94.8 C374.4,94.7 379.1,93.9 382.2,94.2 C385.3,94.5 387.8,96.2 391.4,96.4 C395.0,96.6 399.8,94.7 404.0,95.3 C408.2,95.9 412.6,100.5 416.5,100.3 C420.4,100.1 423.8,94.8 427.5,94.2 C431.2,93.6 435.2,96.2 438.5,96.4 C441.8,96.6 444.5,95.7 447.5,95.5 C450.5,95.3 452.8,95.0 456.4,95.5 C460.0,96.0 464.8,98.7 469.0,98.7 C473.2,98.8 477.9,95.4 481.5,95.8 C485.1,96.2 487.4,99.9 490.4,101.0 C493.4,102.1 496.7,102.2 499.3,102.2 C501.9,102.2 503.7,101.5 505.9,101.0 C508.1,100.5 511.3,99.6 512.4,99.3 M372.9,95.9 C374.4,95.9 379.1,95.6 382.2,95.9 C385.3,96.2 387.8,97.0 391.4,97.5 C395.0,98.0 399.8,98.1 404.0,98.6 C408.2,99.1 412.6,100.5 416.5,100.3 C420.4,100.1 423.8,97.9 427.5,97.5 C431.2,97.1 435.2,97.8 438.5,97.8 C441.8,97.8 444.5,97.5 447.5,97.5 C450.5,97.5 452.8,97.0 456.4,97.5 C460.0,98.0 464.8,99.1 469.0,100.5 C473.2,101.9 477.9,105.0 481.5,105.7 C485.1,106.4 487.4,104.7 490.4,104.5 C493.4,104.3 496.7,104.8 499.3,104.5 C501.9,104.2 503.7,103.0 505.9,103.0 C508.1,103.0 511.3,104.2 512.4,104.5 M372.9,98.1 C374.4,98.0 379.1,97.0 382.2,97.5 C385.3,98.0 387.8,100.8 391.4,101.4 C395.0,102.0 399.8,100.7 404.0,101.0 C408.2,101.3 412.6,103.6 416.5,103.5 C420.4,103.4 423.8,100.8 427.5,100.3 C431.2,99.8 435.2,100.8 438.5,100.6 C441.8,100.4 444.5,99.7 447.5,99.3 C450.5,98.9 452.8,97.5 456.4,98.1 C460.0,98.7 464.8,101.5 469.0,102.8 C473.2,104.1 477.9,105.2 481.5,105.7 C485.1,106.2 487.4,106.2 490.4,106.0 C493.4,105.8 496.7,104.7 499.3,104.5 C501.9,104.3 503.7,105.0 505.9,105.0 C508.1,105.0 511.3,104.6 512.4,104.5 M372.9,98.5 C374.4,98.6 379.1,98.7 382.2,99.2 C385.3,99.7 387.8,100.8 391.4,101.4 C395.0,102.0 399.8,101.8 404.0,103.0 C408.2,104.2 412.6,108.3 416.5,108.5 C420.4,108.7 423.8,105.4 427.5,104.1 C431.2,102.8 435.2,101.1 438.5,100.6 C441.8,100.1 444.5,100.8 447.5,101.0 C450.5,101.2 452.8,101.0 456.4,101.5 C460.0,102.0 464.8,103.1 469.0,103.9 C473.2,104.7 477.9,105.8 481.5,106.3 C485.1,106.8 487.4,106.7 490.4,106.9 C493.4,107.1 496.7,107.6 499.3,107.4 C501.9,107.2 503.7,106.0 505.9,105.5 C508.1,105.0 511.3,104.7 512.4,104.5" fill="none" stroke="#646464" stroke-width="0.6"/>
<path clip-path="url(#cb1)" d="M372.9,52.9 C374.4,52.8 379.1,52.3 382.2,52.2 C385.3,52.1 387.8,52.2 391.4,52.3 C395.0,52.3 399.8,52.4 404.0,52.5 C408.2,52.6 412.6,52.7 416.5,52.7 C420.4,52.7 423.8,52.5 427.5,52.6 C431.2,52.7 435.2,53.3 438.5,53.2 C441.8,53.1 444.5,52.4 447.5,52.2 C450.5,52.0 452.8,52.0 456.4,52.1 C460.0,52.2 464.8,53.0 469.0,53.0 C473.2,53.0 477.9,52.3 481.5,52.2 C485.1,52.1 487.4,52.4 490.4,52.4 C493.4,52.4 496.7,52.0 499.3,52.1 C501.9,52.2 503.7,52.9 505.9,53.0 C508.1,53.1 511.3,52.9 512.4,52.9 M372.9,55.0 C374.4,54.8 379.1,54.4 382.2,54.0 C385.3,53.6 387.8,53.1 391.4,52.7 C395.0,52.4 399.8,52.0 404.0,51.9 C408.2,51.8 412.6,51.9 416.5,52.0 C420.4,52.1 423.8,52.4 427.5,52.4 C431.2,52.4 435.2,52.1 438.5,52.3 C441.8,52.4 444.5,52.9 447.5,53.3 C450.5,53.7 452.8,54.5 456.4,54.6 C460.0,54.7 464.8,54.2 469.0,54.1 C473.2,54.0 477.9,54.0 481.5,53.9 C485.1,53.8 487.4,53.8 490.4,53.6 C493.4,53.4 496.7,52.8 499.3,52.5 C501.9,52.2 503.7,52.2 505.9,52.1 C508.1,52.0 511.3,52.0 512.4,52.0 M372.9,52.1 C374.4,52.2 379.1,52.3 382.2,52.6 C385.3,52.9 387.8,53.6 391.4,54.0 C395.0,54.4 399.8,54.6 404.0,54.7 C408.2,54.8 412.6,54.8 416.5,54.8 C420.4,54.8 423.8,54.8 427.5,54.5 C431.2,54.2 435.2,53.5 438.5,53.2 C441.8,52.9 444.5,52.9 447.5,52.8 C450.5,52.7 452.8,52.5 456.4,52.6 C460.0,52.7 464.8,53.1 469.0,53.5 C473.2,53.9 477.9,54.8 481.5,55.1 C485.1,55.4 487.4,55.3 490.4,55.2 C493.4,55.1 496.7,54.6 499.3,54.4 C501.9,54.1 503.7,54.0 505.9,53.7 C508.1,53.4 511.3,52.8 512.4,52.6 M372.9,53.0 C374.4,53.1 379.1,53.5 382.2,53.7 C385.3,53.9 387.8,53.9 391.4,54.0 C395.0,54.1 399.8,54.0 404.0,54.2 C408.2,54.5 412.6,55.4 416.5,55.5 C420.4,55.6 423.8,55.0 427.5,54.8 C431.2,54.6 435.2,54.8 438.5,54.4 C441.8,54.0 444.5,52.8 447.5,52.6 C450.5,52.4 452.8,52.9 456.4,53.3 C460.0,53.7 464.8,54.6 469.0,55.0 C473.2,55.4 477.9,56.0 481.5,55.9 C485.1,55.8 487.4,54.7 490.4,54.4 C493.4,54.1 496.7,54.1 499.3,54.0 C501.9,53.9 503.7,53.7 505.9,53.6 C508.1,53.5 511.3,53.4 512.4,53.4 M372.9,55.4 C374.4,55.6 379.1,56.8 382.2,56.9 C385.3,57.0 387.8,56.4 391.4,56.1 C395.0,55.8 399.8,55.5 404.0,55.1 C408.2,54.7 412.6,53.8 416.5,53.7 C420.4,53.6 423.8,54.5 427.5,54.7 C431.2,54.9 435.2,54.6 438.5,54.8 C441.8,55.0 444.5,55.4 447.5,55.7 C450.5,56.0 452.8,56.6 456.4,56.7 C460.0,56.8 464.8,56.7 469.0,56.5 C473.2,56.3 477.9,55.8 481.5,55.4 C485.1,55.0 487.4,54.7 490.4,54.4 C493.4,54.1 496.7,53.8 499.3,53.8 C501.9,53.8 503.7,54.6 505.9,54.7 C508.1,54.8 511.3,54.5 512.4,54.4 M372.9,54.9 C374.4,54.8 379.1,54.2 382.2,54.3 C385.3,54.4 387.8,55.1 391.4,55.6 C395.0,56.1 399.8,57.1 404.0,57.4 C408.2,57.7 412.6,57.6 416.5,57.3 C420.4,57.0 423.8,56.0 427.5,55.6 C431.2,55.2 435.2,54.7 438.5,54.6 C441.8,54.5 444.5,54.9 447.5,55.3 C450.5,55.7 452.8,56.8 456.4,57.1 C460.0,57.4 464.8,57.3 469.0,57.2 C473.2,57.1 477.9,56.9 481.5,56.4 C485.1,55.9 487.4,54.6 490.4,54.3 C493.4,54.0 496.7,54.5 499.3,54.8 C501.9,55.1 503.7,55.7 505.9,56.2 C508.1,56.7 511.3,57.4 512.4,57.6 M372.9,58.3 C374.4,57.9 379.1,56.3 382.2,55.8 C385.3,55.3 387.8,55.6 391.4,55.5 C395.0,55.4 399.8,55.2 404.0,55.4 C408.2,55.6 412.6,56.5 416.5,56.7 C420.4,56.9 423.8,56.4 427.5,56.7 C431.2,57.0 435.2,58.2 438.5,58.3 C441.8,58.4 444.5,58.0 447.5,57.5 C450.5,57.0 452.8,55.9 456.4,55.5 C460.0,55.1 464.8,55.1 469.0,55.1 C473.2,55.1 477.9,55.4 481.5,55.8 C485.1,56.2 487.4,56.9 490.4,57.3 C493.4,57.7 496.7,57.9 499.3,58.1 C501.9,58.3 503.7,58.6 505.9,58.3 C508.1,58.0 511.3,56.6 512.4,56.3 M372.9,59.0 C374.4,58.8 379.1,58.4 382.2,57.9 C385.3,57.4 387.8,55.9 391.4,55.7 C395.0,55.5 399.8,56.2 404.0,56.6 C408.2,57.0 412.6,57.4 416.5,57.9 C420.4,58.4 423.8,59.4 427.5,59.4 C431.2,59.4 435.2,58.3 438.5,57.8 C441.8,57.2 444.5,56.4 447.5,56.1 C450.5,55.9 452.8,55.9 456.4,56.3 C460.0,56.7 464.8,57.9 469.0,58.3 C473.2,58.7 477.9,58.7 481.5,58.5 C485.1,58.3 487.4,57.6 490.4,57.3 C493.4,57.0 496.7,56.5 499.3,56.5 C501.9,56.5 503.7,57.2 505.9,57.4 C508.1,57.6 511.3,57.7 512.4,57.8 M372.9,59.3 C374.4,59.2 379.1,59.0 382.2,58.7 C385.3,58.4 387.8,57.7 391.4,57.5 C395.0,57.3 399.8,57.3 404.0,57.3 C408.2,57.3 412.6,57.4 416.5,57.6 C420.4,57.8 423.8,58.3 427.5,58.5 C431.2,58.7 435.2,58.5 438.5,58.6 C441.8,58.7 444.5,59.0 447.5,59.0 C450.5,59.0 452.8,58.9 456.4,58.6 C460.0,58.3 464.8,57.6 469.0,57.3 C473.2,57.0 477.9,56.9 481.5,56.9 C485.1,56.9 487.4,56.9 490.4,57.1 C493.4,57.3 496.7,57.7 499.3,58.1 C501.9,58.5 503.7,59.2 505.9,59.4 C508.1,59.6 511.3,59.1 512.4,59.1 M372.9,61.0 C374.4,60.9 379.1,60.2 382.2,60.2 C385.3,60.2 387.8,61.1 391.4,60.9 C395.0,60.7 399.8,59.5 404.0,59.1 C408.2,58.7 412.6,58.6 416.5,58.6 C420.4,58.6 423.8,59.0 427.5,59.4 C431.2,59.8 435.2,60.4 438.5,60.7 C441.8,61.0 444.5,61.4 447.5,61.4 C450.5,61.4 452.8,60.8 456.4,60.6 C460.0,60.4 464.8,60.4 469.0,60.0 C473.2,59.6 477.9,58.7 481.5,58.5 C485.1,58.3 487.4,58.6 490.4,59.0 C493.4,59.4 496.7,60.3 499.3,60.6 C501.9,60.9 503.7,60.7 505.9,60.8 C508.1,60.9 511.3,61.3 512.4,61.4 M372.9,61.0 C374.4,61.3 379.1,62.1 382.2,62.6 C385.3,63.1 387.8,63.6 391.4,63.7 C395.0,63.8 399.8,63.5 404.0,63.4 C408.2,63.3 412.6,63.3 416.5,63.0 C420.4,62.7 423.8,61.9 427.5,61.6 C431.2,61.3 435.2,61.4 438.5,61.0 C441.8,60.6 444.5,59.4 447.5,59.3 C450.5,59.2 452.8,60.0 456.4,60.2 C460.0,60.4 464.8,60.2 469.0,60.5 C473.2,60.8 477.9,61.3 481.5,61.7 C485.1,62.1 487.4,62.6 490.4,62.9 C493.4,63.1 496.7,63.2 499.3,63.2 C501.9,63.2 503.7,63.3 505.9,63.2 C508.1,63.1 511.3,62.5 512.4,62.4 M372.9,63.0 C374.4,62.8 379.1,62.0 382.2,62.0 C385.3,62.0 387.8,62.8 391.4,63.1 C395.0,63.4 399.8,63.7 404.0,63.8 C408.2,63.9 412.6,64.2 416.5,63.8 C420.4,63.4 423.8,61.6 427.5,61.4 C431.2,61.2 435.2,62.3 438.5,62.8 C441.8,63.3 444.5,63.9 447.5,64.2 C450.5,64.5 452.8,64.8 456.4,64.5 C460.0,64.2 464.8,62.9 469.0,62.4 C473.2,61.9 477.9,61.6 481.5,61.8 C485.1,62.0 487.4,63.4 490.4,63.8 C493.4,64.2 496.7,64.3 499.3,64.2 C501.9,64.1 503.7,63.4 505.9,63.0 C508.1,62.6 511.3,62.2 512.4,62.0 M372.9,66.0 C374.4,65.9 379.1,65.9 382.2,65.6 C385.3,65.3 387.8,64.9 391.4,64.3 C395.0,63.7 399.8,62.2 404.0,62.1 C408.2,62.0 412.6,62.8 416.5,63.4 C420.4,64.0 423.8,65.3 427.5,65.7 C431.2,66.1 435.2,66.0 438.5,66.0 C441.8,66.0 444.5,66.4 447.5,66.0 C450.5,65.6 452.8,64.3 456.4,63.6 C460.0,62.9 464.8,62.0 469.0,62.0 C473.2,62.0 477.9,63.3 481.5,63.9 C485.1,64.5 487.4,65.5 490.4,65.8 C493.4,66.1 496.7,66.1 499.3,66.0 C501.9,65.9 503.7,65.6 505.9,65.1 C508.1,64.6 511.3,63.3 512.4,62.9 M372.9,51.8 C374.4,51.8 379.1,51.7 382.2,51.7 C385.3,51.7 387.8,51.9 391.4,51.9 C395.0,51.9 399.8,51.8 404.0,51.8 C408.2,51.8 412.6,51.7 416.5,51.7 C420.4,51.7 423.8,51.8 427.5,51.8 C431.2,51.8 435.2,51.6 438.5,51.6 C441.8,51.6 444.5,51.7 447.5,51.8 C450.5,51.9 452.8,52.0 456.4,52.0 C460.0,52.0 464.8,51.8 469.0,51.8 C473.2,51.8 477.9,51.7 481.5,51.7 C485.1,51.7 487.4,51.8 490.4,51.8 C493.4,51.8 496.7,51.8 499.3,51.8 C501.9,51.8 503.7,51.7 505.9,51.7 C508.1,51.7 511.3,51.8 512.4,51.8 M372.9,65.5 C374.4,65.5 379.1,65.5 382.2,65.6 C385.3,65.7 387.8,65.7 391.4,66.0 C395.0,66.3 399.8,67.1 404.0,67.6 C408.2,68.1 412.6,69.0 416.5,69.2 C420.4,69.4 423.8,69.2 427.5,68.6 C431.2,68.0 435.2,66.2 438.5,65.6 C441.8,65.0 444.5,65.2 447.5,65.2 C450.5,65.2 452.8,64.9 456.4,65.3 C460.0,65.7 464.8,67.0 469.0,67.5 C473.2,68.0 477.9,68.6 481.5,68.4 C485.1,68.2 487.4,67.1 490.4,66.5 C493.4,65.9 496.7,65.0 499.3,64.8 C501.9,64.6 503.7,65.4 505.9,65.5 C508.1,65.6 511.3,65.6 512.4,65.6 M372.9,65.0 C374.4,65.1 379.1,65.3 382.2,65.5 C385.3,65.7 387.8,65.8 391.4,66.0 C395.0,66.2 399.8,66.5 404.0,66.8 C408.2,67.1 412.6,67.4 416.5,68.0 C420.4,68.6 423.8,70.5 427.5,70.2 C431.2,69.9 435.2,66.8 438.5,66.0 C441.8,65.2 444.5,65.4 447.5,65.3 C450.5,65.2 452.8,65.5 456.4,65.4 C460.0,65.3 464.8,64.8 469.0,64.5 C473.2,64.2 477.9,63.3 481.5,63.3 C485.1,63.3 487.4,64.2 490.4,64.5 C493.4,64.8 496.7,65.0 499.3,65.0 C501.9,65.0 503.7,64.9 505.9,64.8 C508.1,64.7 511.3,64.6 512.4,64.6" fill="none" stroke="#4a4a4a" stroke-width="0.58"/>
<rect x="372.9" y="10.9" width="139.5" height="98.1" fill="none" stroke="#a8a8a8" stroke-width="0.95"/>
<line x1="371.4" y1="10.9" x2="372.9" y2="10.9" stroke="#555" stroke-width="0.7"/>
<text x="370.7" y="12.4" font-size="4.3" text-anchor="end" fill="#444" font-family="Liberation Sans">10</text>
<line x1="371.4" y1="20.1" x2="372.9" y2="20.1" stroke="#555" stroke-width="0.7"/>
<text x="370.7" y="21.6" font-size="4.3" text-anchor="end" fill="#444" font-family="Liberation Sans">9</text>
<line x1="371.4" y1="29.3" x2="372.9" y2="29.3" stroke="#555" stroke-width="0.7"/>
<text x="370.7" y="30.8" font-size="4.3" text-anchor="end" fill="#444" font-family="Liberation Sans">8</text>
<line x1="371.4" y1="38.2" x2="372.9" y2="38.2" stroke="#555" stroke-width="0.7"/>
<text x="370.7" y="39.7" font-size="4.3" text-anchor="end" fill="#444" font-family="Liberation Sans">7</text>
<line x1="371.4" y1="51.5" x2="372.9" y2="51.5" stroke="#555" stroke-width="0.7"/>
<text x="370.7" y="53.0" font-size="4.3" text-anchor="end" fill="#444" font-family="Liberation Sans">0</text>
<line x1="371.4" y1="60.7" x2="372.9" y2="60.7" stroke="#555" stroke-width="0.7"/>
<text x="370.7" y="62.2" font-size="4.3" text-anchor="end" fill="#444" font-family="Liberation Sans">−1</text>
<line x1="371.4" y1="69.5" x2="372.9" y2="69.5" stroke="#555" stroke-width="0.7"/>
<text x="370.7" y="71.0" font-size="4.3" text-anchor="end" fill="#444" font-family="Liberation Sans">−2</text>
<line x1="371.4" y1="85.6" x2="372.9" y2="85.6" stroke="#555" stroke-width="0.7"/>
<text x="370.7" y="87.1" font-size="4.3" text-anchor="end" fill="#444" font-family="Liberation Sans">−7.5</text>
<line x1="371.4" y1="95.6" x2="372.9" y2="95.6" stroke="#555" stroke-width="0.7"/>
<text x="370.7" y="97.1" font-size="4.3" text-anchor="end" fill="#444" font-family="Liberation Sans">−8.0</text>
<line x1="371.4" y1="106.0" x2="372.9" y2="106.0" stroke="#555" stroke-width="0.7"/>
<text x="370.7" y="107.5" font-size="4.3" text-anchor="end" fill="#444" font-family="Liberation Sans">−8.5</text>
<path d="M368.5,42.6 L372.5,44.800000000000004 M373.09999999999997,42.6 L377.09999999999997,44.800000000000004" stroke="#707070" stroke-width="1.1" fill="none"/>
<path d="M508.0,42.6 L512.0,44.800000000000004 M512.6,42.6 L516.6,44.800000000000004" stroke="#707070" stroke-width="1.1" fill="none"/>
<path d="M368.5,75.30000000000001 L372.5,77.5 M373.09999999999997,75.30000000000001 L377.09999999999997,77.5" stroke="#707070" stroke-width="1.1" fill="none"/>
<path d="M508.0,75.30000000000001 L512.0,77.5 M512.6,75.30000000000001 L516.6,77.5" stroke="#707070" stroke-width="1.1" fill="none"/>
<text x="373.0" y="113.3" font-size="4.5" text-anchor="middle" fill="#444" font-family="Liberation Sans">X</text>
<text x="391.0" y="113.3" font-size="4.5" text-anchor="middle" fill="#444" font-family="Liberation Sans">Y</text>
<text x="416.4" y="113.3" font-size="4.5" text-anchor="middle" fill="#444" font-family="Liberation Sans">Z</text>
<text x="438.3" y="113.3" font-size="4.5" text-anchor="middle" fill="#444" font-family="Liberation Sans">Γ</text>
<text x="456.5" y="113.3" font-size="4.5" text-anchor="middle" fill="#444" font-family="Liberation Sans">S</text>
<text x="481.3" y="113.3" font-size="4.5" text-anchor="middle" fill="#444" font-family="Liberation Sans">U</text>
<text x="498.5" y="113.3" font-size="4.5" text-anchor="middle" fill="#444" font-family="Liberation Sans">T</text>
<text x="512.5" y="113.3" font-size="4.5" text-anchor="middle" fill="#444" font-family="Liberation Sans">R</text>
<text x="363.2" y="60.5" font-size="4.85" text-anchor="middle" fill="#333" font-family="Liberation Sans" transform="rotate(-90 363.2 60.5)">Energy (eV)</text>
<text x="420.2" y="7.9" font-size="10.8" fill="#111" font-family="Liberation Serif" transform="translate(0 7.9) scale(1 0.94) translate(0 -7.9)">3.7 GPa</text>
<line x1="438.7" y1="37.8" x2="438.7" y2="48.8" stroke="#4a72c4" stroke-width="1.4"/>
<path d="M436.7,39.4 L438.7,35.8 L440.7,39.4 Z" fill="#4a72c4"/>
<path d="M436.7,47.199999999999996 L438.7,50.8 L440.7,47.199999999999996 Z" fill="#4a72c4"/>
<line x1="424.2" y1="73.1" x2="424.2" y2="82.2" stroke="#4a72c4" stroke-width="1.4"/>
<path d="M422.2,74.69999999999999 L424.2,71.1 L426.2,74.69999999999999 Z" fill="#4a72c4"/>
<path d="M422.2,80.60000000000001 L424.2,84.2 L426.2,80.60000000000001 Z" fill="#4a72c4"/>
<text x="452.5" y="42.5" font-size="6.3" fill="#333" stroke="#333" stroke-width="0.12" font-family="Liberation Sans">Ev-c=7.280 eV</text>
<text x="452.7" y="79.4" font-size="6.3" fill="#333" stroke="#333" stroke-width="0.12" font-family="Liberation Sans">Ec-v=5.372 eV</text>
<line x1="557.3" y1="10.4" x2="557.3" y2="108.6" stroke="#dcdcdc" stroke-width="0.8"/>
<line x1="583.5" y1="10.4" x2="583.5" y2="108.6" stroke="#dcdcdc" stroke-width="0.8"/>
<line x1="606.0" y1="10.4" x2="606.0" y2="108.6" stroke="#dcdcdc" stroke-width="0.8"/>
<line x1="623.5" y1="10.4" x2="623.5" y2="108.6" stroke="#dcdcdc" stroke-width="0.8"/>
<line x1="648.7" y1="10.4" x2="648.7" y2="108.6" stroke="#dcdcdc" stroke-width="0.8"/>
<line x1="665.5" y1="10.4" x2="665.5" y2="108.6" stroke="#dcdcdc" stroke-width="0.8"/>
<line x1="540.1" y1="34.4" x2="679.3" y2="34.4" stroke="#dcdcdc" stroke-width="0.8"/>
<line x1="540.1" y1="51.3" x2="679.3" y2="51.3" stroke="#dcdcdc" stroke-width="0.8"/>
<line x1="540.1" y1="71.1" x2="679.3" y2="71.1" stroke="#dcdcdc" stroke-width="0.8"/>
<line x1="540.1" y1="85.6" x2="679.3" y2="85.6" stroke="#dcdcdc" stroke-width="0.8"/>
<clipPath id="cb2"><rect x="540.1" y="10.4" width="139.19999999999993" height="98.19999999999999"/></clipPath>
<path clip-path="url(#cb2)" d="M540.1,27.0 C541.5,27.6 545.9,30.5 548.7,30.7 C551.6,31.0 554.7,29.2 557.3,28.6 C559.9,27.9 562.0,27.7 564.2,26.8 C566.4,25.9 568.4,24.4 570.5,23.3 C572.5,22.3 574.5,21.1 576.7,20.4 C578.9,19.6 581.4,19.0 583.5,18.9 C585.6,18.8 587.3,18.9 589.1,20.0 C590.9,21.1 592.5,23.7 594.2,25.5 C595.9,27.4 597.4,29.5 599.4,31.0 C601.3,32.5 603.9,34.4 606.0,34.5 C608.1,34.6 610.0,33.0 611.9,31.7 C613.7,30.5 615.3,28.2 617.2,27.1 C619.2,25.9 621.6,25.2 623.6,24.8 C625.6,24.4 627.0,24.9 629.1,24.6 C631.2,24.4 633.8,23.8 636.2,23.3 C638.5,22.8 641.1,22.1 643.2,21.7 C645.3,21.2 646.4,21.0 648.7,20.5 C651.0,19.9 654.3,19.0 657.1,18.4 C659.9,17.8 663.0,16.8 665.5,16.9 C668.0,17.0 669.9,18.2 672.1,18.9 C674.3,19.6 677.5,20.8 678.6,21.2 M540.1,23.3 C541.5,23.5 545.9,24.3 548.7,24.1 C551.6,23.9 554.7,22.8 557.3,22.1 C559.9,21.3 562.0,20.5 564.2,19.9 C566.4,19.3 567.2,18.7 570.5,18.4 C573.7,18.1 580.4,17.8 583.5,18.2 C586.6,18.6 587.3,19.8 589.1,20.9 C590.9,22.0 592.5,23.5 594.2,24.8 C595.9,26.1 597.4,27.8 599.4,28.8 C601.3,29.7 603.9,30.6 606.0,30.6 C608.1,30.6 610.0,29.7 611.9,28.8 C613.7,27.8 615.3,26.1 617.2,24.8 C619.2,23.6 621.6,22.0 623.6,21.3 C625.6,20.5 627.0,20.5 629.1,20.2 C631.2,19.9 633.8,19.7 636.2,19.6 C638.5,19.5 641.1,19.3 643.2,19.4 C645.3,19.5 646.4,19.6 648.7,20.1 C651.0,20.6 654.3,21.5 657.1,22.4 C659.9,23.2 663.0,25.1 665.5,25.3 C668.0,25.6 669.9,24.4 672.1,23.8 C674.3,23.3 677.5,22.4 678.6,22.2 M540.1,21.3 C541.5,21.0 545.9,19.4 548.7,19.6 C551.6,19.8 554.7,21.6 557.3,22.4 C559.9,23.1 562.0,23.9 564.2,24.3 C566.4,24.7 567.2,24.5 570.5,24.6 C573.7,24.7 580.4,24.8 583.5,24.8 C586.6,24.8 587.3,24.6 589.1,24.5 C590.9,24.4 592.5,24.2 594.2,24.3 C595.9,24.5 597.4,25.1 599.4,25.3 C601.3,25.6 603.9,25.9 606.0,25.8 C608.1,25.7 610.0,25.3 611.9,24.8 C613.7,24.3 615.3,23.4 617.2,22.8 C619.2,22.3 621.6,21.9 623.6,21.6 C625.6,21.2 627.0,21.1 629.1,20.9 C631.2,20.6 633.8,20.0 636.2,19.9 C638.5,19.7 641.1,19.8 643.2,19.9 C645.3,19.9 646.4,20.4 648.7,20.1 C651.0,19.7 654.3,18.6 657.1,17.9 C659.9,17.2 663.0,16.2 665.5,15.9 C668.0,15.7 669.9,16.1 672.1,16.2 C674.3,16.4 677.5,16.8 678.6,16.9 M540.1,20.0 C541.5,20.3 545.9,21.1 548.7,21.9 C551.6,22.6 554.7,24.5 557.3,24.7 C559.9,25.0 562.0,23.5 564.2,23.3 C566.4,23.2 568.4,24.1 570.5,23.7 C572.5,23.3 574.5,21.8 576.7,20.9 C578.9,20.0 581.4,18.9 583.5,18.4 C585.6,17.9 587.3,18.0 589.1,17.9 C590.9,17.8 592.5,17.7 594.2,17.9 C595.9,18.1 597.4,18.5 599.4,18.9 C601.3,19.3 603.4,20.0 606.0,20.4 C608.6,20.7 611.9,21.2 614.8,20.9 C617.7,20.5 621.2,18.9 623.6,18.2 C626.0,17.5 627.0,17.0 629.1,16.4 C631.2,15.9 633.8,15.4 636.2,14.9 C638.5,14.5 641.1,14.1 643.2,14.0 C645.3,13.8 646.4,13.8 648.7,13.9 C651.0,13.9 654.3,13.9 657.1,14.3 C659.9,14.6 663.0,15.7 665.5,15.9 C668.0,16.2 669.9,15.8 672.1,15.9 C674.3,16.1 677.5,16.8 678.6,16.9 M540.1,12.5 C541.5,13.3 545.9,16.1 548.7,17.7 C551.6,19.3 554.7,21.4 557.3,22.1 C559.9,22.7 562.0,21.6 564.2,21.4 C566.4,21.1 567.2,21.1 570.5,20.4 C573.7,19.7 579.5,17.6 583.5,17.1 C587.5,16.6 590.5,17.1 594.2,17.4 C598.0,17.7 602.6,18.7 606.0,18.9 C609.4,19.1 611.9,18.5 614.8,18.4 C617.7,18.3 621.2,18.2 623.6,18.2 C626.0,18.2 627.0,18.1 629.1,18.2 C631.2,18.3 633.8,18.4 636.2,18.6 C638.5,18.8 641.1,19.0 643.2,19.4 C645.3,19.8 646.4,21.0 648.7,21.2 C651.0,21.3 654.3,20.6 657.1,20.4 C659.9,20.2 663.0,20.0 665.5,20.1 C668.0,20.2 669.9,20.7 672.1,20.9 C674.3,21.1 677.5,21.1 678.6,21.2 M540.1,15.3 C541.5,15.2 545.9,14.5 548.7,14.4 C551.6,14.4 553.7,14.6 557.3,14.7 C560.9,14.9 566.1,15.1 570.5,15.2 C574.8,15.4 579.5,15.3 583.5,15.4 C587.5,15.6 590.5,15.8 594.2,15.9 C598.0,16.1 602.6,16.3 606.0,16.4 C609.4,16.6 611.9,16.6 614.8,16.9 C617.7,17.2 621.2,18.2 623.6,18.2 C626.0,18.3 627.0,17.5 629.1,17.2 C631.2,16.9 633.8,16.4 636.2,16.2 C638.5,16.0 641.1,15.9 643.2,15.9 C645.3,16.0 646.4,16.2 648.7,16.4 C651.0,16.7 654.3,16.8 657.1,17.4 C659.9,18.0 663.0,19.8 665.5,20.1 C668.0,20.3 669.9,19.4 672.1,18.9 C674.3,18.4 677.5,17.2 678.6,16.9 M540.1,16.9 C541.5,16.6 545.9,15.3 548.7,14.9 C551.6,14.6 553.7,14.9 557.3,14.7 C560.9,14.5 566.1,13.8 570.5,13.8 C574.8,13.8 579.5,14.8 583.5,14.7 C587.5,14.6 590.5,13.2 594.2,13.2 C598.0,13.2 602.6,14.7 606.0,14.7 C609.4,14.8 611.9,14.0 614.8,13.6 C617.7,13.1 621.2,12.3 623.6,12.0 C626.0,11.7 627.0,11.7 629.1,11.7 C631.2,11.7 633.8,11.7 636.2,11.8 C638.5,11.8 641.1,11.9 643.2,12.0 C645.3,12.1 646.4,12.3 648.7,12.4 C651.0,12.4 654.3,12.2 657.1,12.3 C659.9,12.3 663.0,12.6 665.5,12.8 C668.0,12.9 669.9,13.1 672.1,13.3 C674.3,13.4 677.5,13.8 678.6,13.9 M540.1,11.7 C543.0,12.0 552.2,13.1 557.3,13.9 C562.4,14.6 566.1,15.4 570.5,15.9 C574.8,16.4 579.5,16.9 583.5,16.9 C587.5,16.9 590.5,16.3 594.2,15.9 C598.0,15.6 602.6,14.8 606.0,14.8 C609.4,14.8 611.9,15.7 614.8,15.9 C617.7,16.1 621.2,16.1 623.6,15.9 C626.0,15.8 627.0,15.3 629.1,14.9 C631.2,14.6 633.8,14.2 636.2,14.0 C638.5,13.7 641.1,13.5 643.2,13.5 C645.3,13.4 646.4,13.6 648.7,13.9 C651.0,14.1 654.3,15.1 657.1,14.9 C659.9,14.8 663.0,13.1 665.5,12.8 C668.0,12.4 669.9,12.8 672.1,13.0 C674.3,13.1 677.5,13.7 678.6,13.9 M540.1,17.6 C541.5,17.3 545.9,16.0 548.7,15.9 C551.6,15.8 553.7,16.3 557.3,16.9 C560.9,17.6 566.1,19.7 570.5,19.9 C574.8,20.1 579.5,18.2 583.5,18.0 C587.5,17.8 590.5,18.7 594.2,18.9 C598.0,19.1 602.6,19.2 606.0,19.0 C609.4,18.8 611.9,18.7 614.8,17.9 C617.7,17.1 621.2,14.9 623.6,14.2 C626.0,13.4 627.0,13.7 629.1,13.5 C631.2,13.3 633.8,13.1 636.2,13.0 C638.5,12.8 641.1,12.8 643.2,12.7 C645.3,12.6 646.4,12.3 648.7,12.4 C651.0,12.4 654.3,12.6 657.1,13.0 C659.9,13.3 663.0,14.2 665.5,14.4 C668.0,14.7 669.9,14.4 672.1,14.3 C674.3,14.2 677.5,13.9 678.6,13.9 M540.1,89.1 C541.5,89.0 545.9,88.4 548.7,88.4 C551.6,88.4 553.7,89.7 557.3,89.1 C560.9,88.5 566.1,84.3 570.5,84.9 C574.8,85.6 579.5,92.9 583.5,92.9 C587.5,92.9 591.0,85.5 594.8,84.9 C598.5,84.4 602.7,88.8 606.0,89.5 C609.3,90.2 611.9,88.5 614.8,89.1 C617.7,89.7 619.9,92.6 623.5,93.0 C627.1,93.4 632.0,90.9 636.2,91.4 C640.4,91.9 645.2,96.3 648.7,96.1 C652.2,96.0 654.3,91.5 657.1,90.6 C659.9,89.7 663.0,90.3 665.5,90.6 C668.0,90.9 669.9,91.2 672.1,92.2 C674.3,93.3 677.5,96.2 678.6,96.9 M540.1,90.6 C541.5,90.6 545.9,91.1 548.7,90.9 C551.6,90.6 553.7,89.4 557.3,89.1 C560.9,88.8 566.1,88.5 570.5,89.1 C574.8,89.7 579.5,92.6 583.5,92.9 C587.5,93.1 591.0,90.8 594.8,90.6 C598.5,90.3 602.7,91.4 606.0,91.4 C609.3,91.4 611.9,90.3 614.8,90.6 C617.7,90.9 619.9,92.6 623.5,93.4 C627.1,94.2 632.0,94.9 636.2,95.3 C640.4,95.8 645.2,96.5 648.7,96.1 C652.2,95.7 654.3,93.5 657.1,93.0 C659.9,92.5 663.0,92.8 665.5,93.0 C668.0,93.2 669.9,93.6 672.1,94.2 C674.3,94.9 677.5,96.5 678.6,96.9 M540.1,92.1 C541.5,92.2 545.9,93.0 548.7,92.9 C551.6,92.8 553.7,91.5 557.3,91.4 C560.9,91.3 566.1,91.6 570.5,92.1 C574.8,92.6 579.5,94.1 583.5,94.2 C587.5,94.4 591.0,93.0 594.8,92.9 C598.5,92.7 602.7,93.3 606.0,93.3 C609.3,93.3 611.9,92.9 614.8,93.0 C617.7,93.1 619.9,93.0 623.5,93.8 C627.1,94.6 632.0,97.1 636.2,97.8 C640.4,98.4 645.2,97.3 648.7,97.8 C652.2,98.2 654.3,99.3 657.1,100.2 C659.9,101.1 663.0,103.4 665.5,103.3 C668.0,103.2 669.9,100.6 672.1,99.6 C674.3,98.7 677.5,98.1 678.6,97.8 M540.1,96.5 C541.5,96.3 545.9,94.9 548.7,95.0 C551.6,95.2 553.7,97.3 557.3,97.2 C560.9,97.1 566.1,93.7 570.5,94.2 C574.8,94.7 579.5,99.9 583.5,100.2 C587.5,100.4 591.0,96.1 594.8,95.7 C598.5,95.3 602.7,97.8 606.0,97.9 C609.3,98.0 611.9,96.4 614.8,96.1 C617.7,95.8 619.9,95.5 623.5,96.1 C627.1,96.8 632.0,99.6 636.2,100.2 C640.4,100.7 645.2,99.0 648.7,99.4 C652.2,99.8 654.3,101.8 657.1,102.5 C659.9,103.1 663.0,103.1 665.5,103.3 C668.0,103.5 669.9,104.0 672.1,103.7 C674.3,103.4 677.5,102.0 678.6,101.7 M540.1,98.0 C541.5,97.9 545.9,96.9 548.7,97.2 C551.6,97.6 553.7,99.9 557.3,100.2 C560.9,100.4 566.1,97.8 570.5,98.7 C574.8,99.6 579.5,105.7 583.5,105.4 C587.5,105.2 591.0,98.1 594.8,97.2 C598.5,96.3 602.7,99.9 606.0,100.2 C609.3,100.5 611.9,99.2 614.8,99.0 C617.7,98.8 619.9,98.2 623.5,99.0 C627.1,99.7 632.0,103.2 636.2,103.3 C640.4,103.4 645.2,98.9 648.7,99.4 C652.2,99.9 654.3,105.0 657.1,106.4 C659.9,107.8 663.0,108.0 665.5,108.0 C668.0,108.0 669.9,107.0 672.1,106.4 C674.3,105.7 677.5,104.5 678.6,104.1 M540.1,99.5 C541.5,99.5 545.9,99.1 548.7,99.5 C551.6,99.9 553.7,101.1 557.3,101.7 C560.9,102.3 566.1,102.5 570.5,103.1 C574.8,103.8 579.5,105.7 583.5,105.4 C587.5,105.2 591.0,102.2 594.8,101.7 C598.5,101.1 602.7,102.1 606.0,102.1 C609.3,102.1 611.9,101.7 614.8,101.7 C617.7,101.6 619.9,101.0 623.5,101.7 C627.1,102.3 632.0,103.9 636.2,105.7 C640.4,107.6 645.2,111.8 648.7,112.7 C652.2,113.6 654.3,111.4 657.1,111.1 C659.9,110.8 663.0,111.5 665.5,111.1 C668.0,110.8 669.9,109.1 672.1,109.1 C674.3,109.1 677.5,110.8 678.6,111.1 M540.1,102.5 C541.5,102.3 545.9,100.9 548.7,101.7 C551.6,102.4 553.7,106.1 557.3,106.9 C560.9,107.7 566.1,105.9 570.5,106.4 C574.8,106.9 579.5,109.9 583.5,109.8 C587.5,109.6 591.0,106.1 594.8,105.4 C598.5,104.8 602.7,106.1 606.0,105.8 C609.3,105.6 611.9,104.7 614.8,104.1 C617.7,103.5 619.9,101.7 623.5,102.5 C627.1,103.3 632.0,107.1 636.2,108.8 C640.4,110.5 645.2,112.0 648.7,112.7 C652.2,113.5 654.3,113.4 657.1,113.1 C659.9,112.9 663.0,111.3 665.5,111.1 C668.0,110.9 669.9,111.8 672.1,111.8 C674.3,111.8 677.5,111.2 678.6,111.1 M540.1,103.0 C541.5,103.2 545.9,103.3 548.7,104.0 C551.6,104.6 553.7,106.1 557.3,106.9 C560.9,107.8 566.1,107.5 570.5,109.1 C574.8,110.7 579.5,116.3 583.5,116.5 C587.5,116.8 591.0,112.4 594.8,110.6 C598.5,108.8 602.7,106.5 606.0,105.8 C609.3,105.2 611.9,106.2 614.8,106.4 C617.7,106.6 619.9,106.4 623.5,107.1 C627.1,107.7 632.0,109.2 636.2,110.3 C640.4,111.4 645.2,112.9 648.7,113.5 C652.2,114.2 654.3,114.1 657.1,114.4 C659.9,114.6 663.0,115.3 665.5,115.0 C668.0,114.7 669.9,113.1 672.1,112.5 C674.3,111.8 677.5,111.3 678.6,111.1" fill="none" stroke="#646464" stroke-width="0.6"/>
<path clip-path="url(#cb2)" d="M540.1,52.9 C541.5,52.8 545.9,52.3 548.7,52.2 C551.6,52.1 553.7,52.3 557.3,52.3 C560.9,52.4 566.1,52.5 570.5,52.5 C574.8,52.6 579.5,52.7 583.5,52.7 C587.5,52.8 591.0,52.6 594.8,52.6 C598.5,52.7 602.7,53.3 606.0,53.3 C609.3,53.2 611.9,52.4 614.8,52.2 C617.7,52.0 619.9,52.0 623.5,52.1 C627.1,52.3 632.0,53.0 636.2,53.1 C640.4,53.1 645.2,52.3 648.7,52.2 C652.2,52.1 654.3,52.5 657.1,52.4 C659.9,52.4 663.0,52.0 665.5,52.1 C668.0,52.2 669.9,52.9 672.1,53.1 C674.3,53.2 677.5,53.0 678.6,52.9 M540.1,55.1 C541.5,54.9 545.9,54.5 548.7,54.1 C551.6,53.7 553.7,53.1 557.3,52.7 C560.9,52.4 566.1,52.0 570.5,51.9 C574.8,51.8 579.5,51.9 583.5,52.0 C587.5,52.1 591.0,52.4 594.8,52.4 C598.5,52.5 602.7,52.2 606.0,52.3 C609.3,52.5 611.9,53.0 614.8,53.4 C617.7,53.8 619.9,54.6 623.5,54.7 C627.1,54.8 632.0,54.3 636.2,54.2 C640.4,54.1 645.2,54.1 648.7,54.0 C652.2,53.9 654.3,53.9 657.1,53.7 C659.9,53.4 663.0,52.8 665.5,52.5 C668.0,52.3 669.9,52.2 672.1,52.1 C674.3,52.0 677.5,52.0 678.6,52.0 M540.1,52.1 C541.5,52.2 545.9,52.3 548.7,52.6 C551.6,53.0 553.7,53.7 557.3,54.1 C560.9,54.4 566.1,54.7 570.5,54.8 C574.8,54.9 579.5,54.9 583.5,54.9 C587.5,54.9 591.0,54.9 594.8,54.6 C598.5,54.3 602.7,53.6 606.0,53.3 C609.3,53.0 611.9,52.9 614.8,52.8 C617.7,52.7 619.9,52.5 623.5,52.6 C627.1,52.8 632.0,53.1 636.2,53.6 C640.4,54.0 645.2,54.9 648.7,55.2 C652.2,55.5 654.3,55.4 657.1,55.3 C659.9,55.2 663.0,54.8 665.5,54.5 C668.0,54.2 669.9,54.1 672.1,53.8 C674.3,53.5 677.5,52.8 678.6,52.6 M540.1,53.1 C541.5,53.2 545.9,53.6 548.7,53.8 C551.6,53.9 553.7,54.0 557.3,54.1 C560.9,54.2 566.1,54.0 570.5,54.3 C574.8,54.5 579.5,55.5 583.5,55.6 C587.5,55.7 591.0,55.1 594.8,54.9 C598.5,54.7 602.7,54.9 606.0,54.5 C609.3,54.1 611.9,52.8 614.8,52.6 C617.7,52.5 619.9,52.9 623.5,53.4 C627.1,53.8 632.0,54.7 636.2,55.1 C640.4,55.6 645.2,56.1 648.7,56.0 C652.2,55.9 654.3,54.8 657.1,54.5 C659.9,54.2 663.0,54.2 665.5,54.1 C668.0,53.9 669.9,53.8 672.1,53.7 C674.3,53.6 677.5,53.5 678.6,53.5 M540.1,55.5 C541.5,55.8 545.9,57.0 548.7,57.1 C551.6,57.2 553.7,56.6 557.3,56.2 C560.9,55.9 566.1,55.6 570.5,55.2 C574.8,54.8 579.5,53.8 583.5,53.8 C587.5,53.7 591.0,54.6 594.8,54.8 C598.5,55.0 602.7,54.7 606.0,54.9 C609.3,55.1 611.9,55.5 614.8,55.8 C617.7,56.2 619.9,56.7 623.5,56.9 C627.1,57.0 632.0,56.9 636.2,56.7 C640.4,56.4 645.2,55.9 648.7,55.5 C652.2,55.2 654.3,54.8 657.1,54.5 C659.9,54.2 663.0,53.8 665.5,53.9 C668.0,53.9 669.9,54.7 672.1,54.8 C674.3,54.9 677.5,54.5 678.6,54.5 M540.1,55.0 C541.5,54.9 545.9,54.3 548.7,54.4 C551.6,54.5 553.7,55.2 557.3,55.7 C560.9,56.3 566.1,57.3 570.5,57.6 C574.8,57.9 579.5,57.8 583.5,57.5 C587.5,57.2 591.0,56.2 594.8,55.7 C598.5,55.3 602.7,54.8 606.0,54.7 C609.3,54.7 611.9,55.0 614.8,55.4 C617.7,55.9 619.9,57.0 623.5,57.3 C627.1,57.6 632.0,57.5 636.2,57.4 C640.4,57.3 645.2,57.1 648.7,56.6 C652.2,56.1 654.3,54.7 657.1,54.4 C659.9,54.1 663.0,54.6 665.5,54.9 C668.0,55.2 669.9,55.9 672.1,56.4 C674.3,56.8 677.5,57.6 678.6,57.8 M540.1,58.5 C541.5,58.1 545.9,56.4 548.7,55.9 C551.6,55.5 553.7,55.7 557.3,55.6 C560.9,55.6 566.1,55.3 570.5,55.5 C574.8,55.7 579.5,56.6 583.5,56.9 C587.5,57.1 591.0,56.6 594.8,56.9 C598.5,57.1 602.7,58.4 606.0,58.5 C609.3,58.7 611.9,58.2 614.8,57.7 C617.7,57.2 619.9,56.0 623.5,55.6 C627.1,55.2 632.0,55.2 636.2,55.2 C640.4,55.3 645.2,55.6 648.7,55.9 C652.2,56.3 654.3,57.1 657.1,57.5 C659.9,57.9 663.0,58.1 665.5,58.3 C668.0,58.5 669.9,58.8 672.1,58.5 C674.3,58.2 677.5,56.8 678.6,56.5 M540.1,59.2 C541.5,59.1 545.9,58.7 548.7,58.1 C551.6,57.5 553.7,56.1 557.3,55.8 C560.9,55.6 566.1,56.4 570.5,56.8 C574.8,57.1 579.5,57.6 583.5,58.1 C587.5,58.6 591.0,59.7 594.8,59.7 C598.5,59.6 602.7,58.6 606.0,58.0 C609.3,57.4 611.9,56.5 614.8,56.2 C617.7,56.0 619.9,56.1 623.5,56.5 C627.1,56.8 632.0,58.1 636.2,58.5 C640.4,58.9 645.2,58.9 648.7,58.7 C652.2,58.6 654.3,57.8 657.1,57.5 C659.9,57.1 663.0,56.6 665.5,56.7 C668.0,56.7 669.9,57.4 672.1,57.6 C674.3,57.8 677.5,57.9 678.6,58.0 M540.1,59.5 C541.5,59.4 545.9,59.2 548.7,58.9 C551.6,58.6 553.7,57.9 557.3,57.7 C560.9,57.5 566.1,57.5 570.5,57.5 C574.8,57.5 579.5,57.6 583.5,57.8 C587.5,58.0 591.0,58.6 594.8,58.7 C598.5,58.9 602.7,58.7 606.0,58.8 C609.3,58.9 611.9,59.2 614.8,59.2 C617.7,59.2 619.9,59.1 623.5,58.8 C627.1,58.5 632.0,57.8 636.2,57.5 C640.4,57.2 645.2,57.1 648.7,57.1 C652.2,57.0 654.3,57.1 657.1,57.3 C659.9,57.5 663.0,57.9 665.5,58.3 C668.0,58.7 669.9,59.5 672.1,59.7 C674.3,59.8 677.5,59.4 678.6,59.3 M540.1,61.3 C541.5,61.2 545.9,60.5 548.7,60.5 C551.6,60.5 553.7,61.4 557.3,61.2 C560.9,61.0 566.1,59.7 570.5,59.3 C574.8,58.9 579.5,58.8 583.5,58.8 C587.5,58.9 591.0,59.3 594.8,59.7 C598.5,60.0 602.7,60.6 606.0,61.0 C609.3,61.3 611.9,61.7 614.8,61.7 C617.7,61.7 619.9,61.1 623.5,60.9 C627.1,60.6 632.0,60.6 636.2,60.3 C640.4,59.9 645.2,58.9 648.7,58.7 C652.2,58.6 654.3,58.9 657.1,59.2 C659.9,59.6 663.0,60.6 665.5,60.9 C668.0,61.2 669.9,61.0 672.1,61.1 C674.3,61.2 677.5,61.6 678.6,61.7 M540.1,61.3 C541.5,61.6 545.9,62.5 548.7,63.0 C551.6,63.4 553.7,64.0 557.3,64.1 C560.9,64.2 566.1,63.9 570.5,63.8 C574.8,63.7 579.5,63.7 583.5,63.4 C587.5,63.1 591.0,62.3 594.8,61.9 C598.5,61.6 602.7,61.7 606.0,61.3 C609.3,60.9 611.9,59.7 614.8,59.5 C617.7,59.4 619.9,60.3 623.5,60.5 C627.1,60.7 632.0,60.5 636.2,60.8 C640.4,61.0 645.2,61.6 648.7,62.0 C652.2,62.4 654.3,63.0 657.1,63.3 C659.9,63.5 663.0,63.5 665.5,63.6 C668.0,63.6 669.9,63.7 672.1,63.6 C674.3,63.4 677.5,62.9 678.6,62.7 M540.1,63.4 C541.5,63.2 545.9,62.3 548.7,62.3 C551.6,62.4 553.7,63.2 557.3,63.5 C560.9,63.8 566.1,64.1 570.5,64.2 C574.8,64.3 579.5,64.6 583.5,64.2 C587.5,63.8 591.0,61.9 594.8,61.7 C598.5,61.5 602.7,62.7 606.0,63.2 C609.3,63.6 611.9,64.3 614.8,64.6 C617.7,64.9 619.9,65.2 623.5,64.9 C627.1,64.6 632.0,63.2 636.2,62.7 C640.4,62.3 645.2,61.9 648.7,62.1 C652.2,62.4 654.3,63.8 657.1,64.2 C659.9,64.6 663.0,64.7 665.5,64.6 C668.0,64.5 669.9,63.7 672.1,63.4 C674.3,63.0 677.5,62.5 678.6,62.3 M540.1,66.5 C541.5,66.4 545.9,66.3 548.7,66.0 C551.6,65.8 553.7,65.3 557.3,64.7 C560.9,64.1 566.1,62.6 570.5,62.4 C574.8,62.3 579.5,63.2 583.5,63.8 C587.5,64.4 591.0,65.7 594.8,66.2 C598.5,66.6 602.7,66.4 606.0,66.5 C609.3,66.5 611.9,66.9 614.8,66.5 C617.7,66.0 619.9,64.7 623.5,64.0 C627.1,63.3 632.0,62.3 636.2,62.3 C640.4,62.4 645.2,63.6 648.7,64.3 C652.2,64.9 654.3,65.9 657.1,66.3 C659.9,66.6 663.0,66.6 665.5,66.5 C668.0,66.3 669.9,66.1 672.1,65.5 C674.3,65.0 677.5,63.6 678.6,63.3 M540.1,51.8 C541.5,51.8 545.9,51.7 548.7,51.7 C551.6,51.7 553.7,51.9 557.3,51.9 C560.9,51.9 566.1,51.8 570.5,51.8 C574.8,51.8 579.5,51.7 583.5,51.7 C587.5,51.7 591.0,51.8 594.8,51.8 C598.5,51.8 602.7,51.6 606.0,51.6 C609.3,51.6 611.9,51.7 614.8,51.8 C617.7,51.9 619.9,52.0 623.5,52.0 C627.1,52.0 632.0,51.9 636.2,51.8 C640.4,51.8 645.2,51.7 648.7,51.7 C652.2,51.7 654.3,51.8 657.1,51.8 C659.9,51.8 663.0,51.8 665.5,51.8 C668.0,51.8 669.9,51.7 672.1,51.7 C674.3,51.7 677.5,51.8 678.6,51.8 M540.1,65.9 C541.5,66.0 545.9,66.0 548.7,66.0 C551.6,66.1 553.7,66.1 557.3,66.5 C560.9,66.8 566.1,67.6 570.5,68.1 C574.8,68.7 579.5,69.6 583.5,69.8 C587.5,69.9 591.0,69.8 594.8,69.1 C598.5,68.5 602.7,66.6 606.0,66.0 C609.3,65.5 611.9,65.7 614.8,65.6 C617.7,65.6 619.9,65.3 623.5,65.7 C627.1,66.1 632.0,67.5 636.2,68.0 C640.4,68.5 645.2,69.1 648.7,68.9 C652.2,68.8 654.3,67.6 657.1,67.0 C659.9,66.4 663.0,65.4 665.5,65.2 C668.0,65.0 669.9,65.8 672.1,65.9 C674.3,66.1 677.5,66.0 678.6,66.0 M540.1,65.4 C541.5,65.5 545.9,65.8 548.7,65.9 C551.6,66.1 553.7,66.2 557.3,66.5 C560.9,66.7 566.1,66.9 570.5,67.3 C574.8,67.6 579.5,67.9 583.5,68.5 C587.5,69.1 591.0,71.1 594.8,70.8 C598.5,70.4 602.7,67.3 606.0,66.5 C609.3,65.6 611.9,65.8 614.8,65.7 C617.7,65.6 619.9,66.0 623.5,65.8 C627.1,65.7 632.0,65.3 636.2,64.9 C640.4,64.6 645.2,63.7 648.7,63.7 C652.2,63.7 654.3,64.6 657.1,64.9 C659.9,65.2 663.0,65.4 665.5,65.4 C668.0,65.5 669.9,65.3 672.1,65.2 C674.3,65.2 677.5,65.0 678.6,65.0" fill="none" stroke="#4a4a4a" stroke-width="0.58"/>
<rect x="540.1" y="10.4" width="139.19999999999993" height="98.19999999999999" fill="none" stroke="#a8a8a8" stroke-width="0.95"/>
<line x1="538.6" y1="10.4" x2="540.1" y2="10.4" stroke="#555" stroke-width="0.7"/>
<text x="537.9" y="11.9" font-size="4.3" text-anchor="end" fill="#444" font-family="Liberation Sans">10</text>
<line x1="538.6" y1="19.3" x2="540.1" y2="19.3" stroke="#555" stroke-width="0.7"/>
<text x="537.9" y="20.8" font-size="4.3" text-anchor="end" fill="#444" font-family="Liberation Sans">9</text>
<line x1="538.6" y1="28.5" x2="540.1" y2="28.5" stroke="#555" stroke-width="0.7"/>
<text x="537.9" y="30.0" font-size="4.3" text-anchor="end" fill="#444" font-family="Liberation Sans">8</text>
<line x1="538.6" y1="37.8" x2="540.1" y2="37.8" stroke="#555" stroke-width="0.7"/>
<text x="537.9" y="39.3" font-size="4.3" text-anchor="end" fill="#444" font-family="Liberation Sans">7</text>
<line x1="538.6" y1="51.3" x2="540.1" y2="51.3" stroke="#555" stroke-width="0.7"/>
<text x="537.9" y="52.8" font-size="4.3" text-anchor="end" fill="#444" font-family="Liberation Sans">0</text>
<line x1="538.6" y1="60.3" x2="540.1" y2="60.3" stroke="#555" stroke-width="0.7"/>
<text x="537.9" y="61.8" font-size="4.3" text-anchor="end" fill="#444" font-family="Liberation Sans">−1</text>
<line x1="538.6" y1="69.5" x2="540.1" y2="69.5" stroke="#555" stroke-width="0.7"/>
<text x="537.9" y="71.0" font-size="4.3" text-anchor="end" fill="#444" font-family="Liberation Sans">−2</text>
<line x1="538.6" y1="80.3" x2="540.1" y2="80.3" stroke="#555" stroke-width="0.7"/>
<text x="537.9" y="81.8" font-size="4.3" text-anchor="end" fill="#444" font-family="Liberation Sans">−7.0</text>
<line x1="538.6" y1="90.5" x2="540.1" y2="90.5" stroke="#555" stroke-width="0.7"/>
<text x="537.9" y="92.0" font-size="4.3" text-anchor="end" fill="#444" font-family="Liberation Sans">−7.5</text>
<line x1="538.6" y1="100.9" x2="540.1" y2="100.9" stroke="#555" stroke-width="0.7"/>
<text x="537.9" y="102.4" font-size="4.3" text-anchor="end" fill="#444" font-family="Liberation Sans">−8.0</text>
<path d="M535.7,42.199999999999996 L539.7,44.4 M540.3000000000001,42.199999999999996 L544.3000000000001,44.4" stroke="#707070" stroke-width="1.1" fill="none"/>
<path d="M674.9,42.199999999999996 L678.9,44.4 M679.5,42.199999999999996 L683.5,44.4" stroke="#707070" stroke-width="1.1" fill="none"/>
<path d="M535.7,74.9 L539.7,77.1 M540.3000000000001,74.9 L544.3000000000001,77.1" stroke="#707070" stroke-width="1.1" fill="none"/>
<path d="M674.9,74.9 L678.9,77.1 M679.5,74.9 L683.5,77.1" stroke="#707070" stroke-width="1.1" fill="none"/>
<text x="539.7" y="113.1" font-size="4.5" text-anchor="middle" fill="#444" font-family="Liberation Sans">X</text>
<text x="557.4" y="113.1" font-size="4.5" text-anchor="middle" fill="#444" font-family="Liberation Sans">Y</text>
<text x="582.8" y="113.1" font-size="4.5" text-anchor="middle" fill="#444" font-family="Liberation Sans">Z</text>
<text x="605.0" y="113.1" font-size="4.5" text-anchor="middle" fill="#444" font-family="Liberation Sans">Γ</text>
<text x="623.5" y="113.1" font-size="4.5" text-anchor="middle" fill="#444" font-family="Liberation Sans">S</text>
<text x="648.7" y="113.1" font-size="4.5" text-anchor="middle" fill="#444" font-family="Liberation Sans">U</text>
<text x="665.5" y="113.1" font-size="4.5" text-anchor="middle" fill="#444" font-family="Liberation Sans">T</text>
<text x="678.6" y="113.1" font-size="4.5" text-anchor="middle" fill="#444" font-family="Liberation Sans">R</text>
<text x="530.2" y="60.5" font-size="4.85" text-anchor="middle" fill="#333" font-family="Liberation Sans" transform="rotate(-90 530.2 60.5)">Energy (eV)</text>
<text x="583.4" y="7.9" font-size="10.8" fill="#111" font-family="Liberation Serif" transform="translate(0 7.9) scale(1 0.94) translate(0 -7.9)">4.5 GPa</text>
<line x1="606.5" y1="37.6" x2="606.5" y2="48.4" stroke="#4a72c4" stroke-width="1.4"/>
<path d="M604.5,39.2 L606.5,35.6 L608.5,39.2 Z" fill="#4a72c4"/>
<path d="M604.5,46.8 L606.5,50.4 L608.5,46.8 Z" fill="#4a72c4"/>
<line x1="592.3" y1="74.5" x2="592.3" y2="83.2" stroke="#4a72c4" stroke-width="1.4"/>
<path d="M590.3,76.1 L592.3,72.5 L594.3,76.1 Z" fill="#4a72c4"/>
<path d="M590.3,81.60000000000001 L592.3,85.2 L594.3,81.60000000000001 Z" fill="#4a72c4"/>
<text x="619.1999999999999" y="42.199999999999996" font-size="6.3" fill="#333" stroke="#333" stroke-width="0.12" font-family="Liberation Sans">Ev-c=7.334 eV</text>
<text x="619.1999999999999" y="80.7" font-size="6.3" fill="#333" stroke="#333" stroke-width="0.12" font-family="Liberation Sans">Ec-v=4.992 eV</text>
<line x1="391.6" y1="132.1" x2="391.6" y2="230.1" stroke="#dcdcdc" stroke-width="0.8"/>
<line x1="416.8" y1="132.1" x2="416.8" y2="230.1" stroke="#dcdcdc" stroke-width="0.8"/>
<line x1="438.6" y1="132.1" x2="438.6" y2="230.1" stroke="#dcdcdc" stroke-width="0.8"/>
<line x1="456.9" y1="132.1" x2="456.9" y2="230.1" stroke="#dcdcdc" stroke-width="0.8"/>
<line x1="481.5" y1="132.1" x2="481.5" y2="230.1" stroke="#dcdcdc" stroke-width="0.8"/>
<line x1="499.3" y1="132.1" x2="499.3" y2="230.1" stroke="#dcdcdc" stroke-width="0.8"/>
<line x1="373.1" y1="156.1" x2="512.6" y2="156.1" stroke="#dcdcdc" stroke-width="0.8"/>
<line x1="373.1" y1="172.6" x2="512.6" y2="172.6" stroke="#dcdcdc" stroke-width="0.8"/>
<line x1="373.1" y1="193.0" x2="512.6" y2="193.0" stroke="#dcdcdc" stroke-width="0.8"/>
<line x1="373.1" y1="208.1" x2="512.6" y2="208.1" stroke="#dcdcdc" stroke-width="0.8"/>
<clipPath id="cb3"><rect x="373.1" y="132.1" width="139.5" height="98.0"/></clipPath>
<path clip-path="url(#cb3)" d="M373.1,148.7 C374.7,149.3 379.3,152.2 382.4,152.4 C385.5,152.7 389.0,150.9 391.6,150.3 C394.2,149.6 396.1,149.4 398.2,148.5 C400.3,147.6 402.2,146.1 404.3,145.0 C406.3,144.0 408.2,142.8 410.3,142.1 C412.4,141.3 414.8,140.7 416.8,140.6 C418.8,140.5 420.5,140.6 422.2,141.7 C424.0,142.8 425.6,145.4 427.2,147.2 C428.9,149.1 430.3,151.2 432.2,152.7 C434.1,154.2 436.5,156.1 438.6,156.2 C440.7,156.3 442.8,154.7 444.7,153.4 C446.7,152.2 448.3,149.9 450.4,148.8 C452.4,147.6 455.0,146.9 457.0,146.5 C459.0,146.1 460.3,146.6 462.4,146.3 C464.4,146.1 467.0,145.5 469.2,145.0 C471.5,144.5 474.1,143.8 476.1,143.4 C478.2,142.9 479.1,142.7 481.5,142.2 C483.9,141.6 487.4,140.7 490.4,140.1 C493.4,139.5 496.7,138.5 499.3,138.6 C501.9,138.7 503.8,139.9 506.0,140.6 C508.2,141.3 511.5,142.5 512.6,142.9 M373.1,145.0 C374.7,145.2 379.3,146.0 382.4,145.8 C385.5,145.6 389.0,144.5 391.6,143.8 C394.2,143.0 396.1,142.2 398.2,141.6 C400.3,141.0 401.2,140.4 404.3,140.1 C407.3,139.8 413.8,139.5 416.8,139.9 C419.8,140.3 420.5,141.5 422.2,142.6 C424.0,143.7 425.6,145.2 427.2,146.5 C428.9,147.8 430.3,149.5 432.2,150.5 C434.1,151.4 436.5,152.3 438.6,152.3 C440.7,152.3 442.8,151.4 444.7,150.5 C446.7,149.5 448.3,147.8 450.4,146.5 C452.4,145.3 455.0,143.7 457.0,143.0 C459.0,142.2 460.3,142.2 462.4,141.9 C464.4,141.6 467.0,141.4 469.2,141.3 C471.5,141.2 474.1,141.0 476.1,141.1 C478.2,141.2 479.1,141.3 481.5,141.8 C483.9,142.3 487.4,143.2 490.4,144.1 C493.4,144.9 496.7,146.8 499.3,147.0 C501.9,147.3 503.8,146.1 506.0,145.5 C508.2,145.0 511.5,144.1 512.6,143.9 M373.1,143.0 C374.7,142.7 379.3,141.1 382.4,141.3 C385.5,141.5 389.0,143.3 391.6,144.1 C394.2,144.8 396.1,145.6 398.2,146.0 C400.3,146.4 401.2,146.2 404.3,146.3 C407.3,146.4 413.8,146.5 416.8,146.5 C419.8,146.5 420.5,146.3 422.2,146.2 C424.0,146.1 425.6,145.9 427.2,146.0 C428.9,146.2 430.3,146.8 432.2,147.0 C434.1,147.3 436.5,147.6 438.6,147.5 C440.7,147.4 442.8,147.0 444.7,146.5 C446.7,146.0 448.3,145.1 450.4,144.5 C452.4,144.0 455.0,143.6 457.0,143.3 C459.0,142.9 460.3,142.8 462.4,142.6 C464.4,142.3 467.0,141.7 469.2,141.6 C471.5,141.4 474.1,141.5 476.1,141.6 C478.2,141.6 479.1,142.1 481.5,141.8 C483.9,141.4 487.4,140.3 490.4,139.6 C493.4,138.9 496.7,137.9 499.3,137.6 C501.9,137.4 503.8,137.8 506.0,137.9 C508.2,138.1 511.5,138.5 512.6,138.6 M373.1,141.7 C374.7,142.0 379.3,142.8 382.4,143.6 C385.5,144.3 389.0,146.2 391.6,146.4 C394.2,146.7 396.1,145.2 398.2,145.0 C400.3,144.9 402.2,145.8 404.3,145.4 C406.3,145.0 408.2,143.5 410.3,142.6 C412.4,141.7 414.8,140.6 416.8,140.1 C418.8,139.6 420.5,139.7 422.2,139.6 C424.0,139.5 425.6,139.4 427.2,139.6 C428.9,139.8 430.3,140.2 432.2,140.6 C434.1,141.0 436.0,141.7 438.6,142.1 C441.2,142.4 444.7,142.9 447.8,142.6 C450.9,142.2 454.6,140.6 457.0,139.9 C459.4,139.2 460.3,138.7 462.4,138.1 C464.4,137.6 467.0,137.1 469.2,136.6 C471.5,136.2 474.1,135.8 476.1,135.7 C478.2,135.5 479.1,135.5 481.5,135.6 C483.9,135.6 487.4,135.6 490.4,136.0 C493.4,136.3 496.7,137.4 499.3,137.6 C501.9,137.9 503.8,137.5 506.0,137.6 C508.2,137.8 511.5,138.5 512.6,138.6 M373.1,134.2 C374.7,135.0 379.3,137.8 382.4,139.4 C385.5,141.0 389.0,143.1 391.6,143.8 C394.2,144.4 396.1,143.3 398.2,143.1 C400.3,142.8 401.2,142.8 404.3,142.1 C407.3,141.4 413.0,139.3 416.8,138.8 C420.6,138.3 423.6,138.8 427.2,139.1 C430.8,139.4 435.2,140.4 438.6,140.6 C442.0,140.8 444.7,140.2 447.8,140.1 C450.9,140.0 454.6,139.9 457.0,139.9 C459.4,139.9 460.3,139.8 462.4,139.9 C464.4,140.0 467.0,140.1 469.2,140.3 C471.5,140.5 474.1,140.7 476.1,141.1 C478.2,141.5 479.1,142.7 481.5,142.9 C483.9,143.0 487.4,142.3 490.4,142.1 C493.4,141.9 496.7,141.7 499.3,141.8 C501.9,141.9 503.8,142.4 506.0,142.6 C508.2,142.8 511.5,142.8 512.6,142.9 M373.1,137.0 C374.7,136.9 379.3,136.2 382.4,136.1 C385.5,136.1 388.0,136.3 391.6,136.4 C395.2,136.6 400.1,136.8 404.3,136.9 C408.5,137.1 413.0,137.0 416.8,137.1 C420.6,137.3 423.6,137.5 427.2,137.6 C430.8,137.8 435.2,138.0 438.6,138.1 C442.0,138.3 444.7,138.3 447.8,138.6 C450.9,138.9 454.6,139.9 457.0,139.9 C459.4,140.0 460.3,139.2 462.4,138.9 C464.4,138.6 467.0,138.1 469.2,137.9 C471.5,137.7 474.1,137.6 476.1,137.6 C478.2,137.7 479.1,137.9 481.5,138.1 C483.9,138.4 487.4,138.5 490.4,139.1 C493.4,139.7 496.7,141.5 499.3,141.8 C501.9,142.0 503.8,141.1 506.0,140.6 C508.2,140.1 511.5,138.9 512.6,138.6 M373.1,138.6 C374.7,138.3 379.3,137.0 382.4,136.6 C385.5,136.3 388.0,136.6 391.6,136.4 C395.2,136.2 400.1,135.5 404.3,135.5 C408.5,135.5 413.0,136.5 416.8,136.4 C420.6,136.3 423.6,134.9 427.2,134.9 C430.8,134.9 435.2,136.4 438.6,136.4 C442.0,136.5 444.7,135.7 447.8,135.3 C450.9,134.8 454.6,134.0 457.0,133.7 C459.4,133.4 460.3,133.4 462.4,133.4 C464.4,133.4 467.0,133.4 469.2,133.5 C471.5,133.5 474.1,133.6 476.1,133.7 C478.2,133.8 479.1,134.0 481.5,134.1 C483.9,134.1 487.4,133.9 490.4,134.0 C493.4,134.0 496.7,134.3 499.3,134.5 C501.9,134.6 503.8,134.8 506.0,135.0 C508.2,135.1 511.5,135.5 512.6,135.6 M373.1,133.4 C376.2,133.7 386.4,134.8 391.6,135.6 C396.8,136.3 400.1,137.1 404.3,137.6 C408.5,138.1 413.0,138.6 416.8,138.6 C420.6,138.6 423.6,138.0 427.2,137.6 C430.8,137.3 435.2,136.5 438.6,136.5 C442.0,136.5 444.7,137.4 447.8,137.6 C450.9,137.8 454.6,137.8 457.0,137.6 C459.4,137.5 460.3,137.0 462.4,136.6 C464.4,136.3 467.0,135.9 469.2,135.7 C471.5,135.4 474.1,135.2 476.1,135.2 C478.2,135.1 479.1,135.3 481.5,135.6 C483.9,135.8 487.4,136.8 490.4,136.6 C493.4,136.5 496.7,134.8 499.3,134.5 C501.9,134.1 503.8,134.5 506.0,134.7 C508.2,134.8 511.5,135.4 512.6,135.6 M373.1,139.3 C374.7,139.0 379.3,137.7 382.4,137.6 C385.5,137.5 388.0,138.0 391.6,138.6 C395.2,139.3 400.1,141.4 404.3,141.6 C408.5,141.8 413.0,139.9 416.8,139.7 C420.6,139.5 423.6,140.4 427.2,140.6 C430.8,140.8 435.2,140.9 438.6,140.7 C442.0,140.5 444.7,140.4 447.8,139.6 C450.9,138.8 454.6,136.6 457.0,135.9 C459.4,135.1 460.3,135.4 462.4,135.2 C464.4,135.0 467.0,134.8 469.2,134.7 C471.5,134.5 474.1,134.5 476.1,134.4 C478.2,134.3 479.1,134.0 481.5,134.1 C483.9,134.1 487.4,134.3 490.4,134.7 C493.4,135.0 496.7,135.9 499.3,136.1 C501.9,136.4 503.8,136.1 506.0,136.0 C508.2,135.9 511.5,135.6 512.6,135.6 M373.1,211.6 C374.7,211.5 379.3,210.9 382.4,210.9 C385.5,210.9 388.0,212.2 391.6,211.6 C395.2,211.0 400.1,206.8 404.3,207.4 C408.5,208.0 412.9,215.4 416.8,215.4 C420.7,215.4 424.1,208.0 427.7,207.4 C431.3,206.8 435.2,211.3 438.6,212.0 C442.0,212.7 444.8,211.0 447.8,211.6 C450.9,212.2 453.3,215.1 456.9,215.5 C460.5,215.9 465.1,213.4 469.2,213.9 C473.3,214.4 478.0,218.8 481.5,218.6 C485.0,218.5 487.4,214.0 490.4,213.1 C493.4,212.2 496.7,212.8 499.3,213.1 C501.9,213.4 503.8,213.7 506.0,214.7 C508.2,215.8 511.5,218.7 512.6,219.4 M373.1,213.1 C374.7,213.1 379.3,213.6 382.4,213.4 C385.5,213.1 388.0,211.9 391.6,211.6 C395.2,211.3 400.1,211.0 404.3,211.6 C408.5,212.2 412.9,215.1 416.8,215.4 C420.7,215.6 424.1,213.3 427.7,213.1 C431.3,212.8 435.2,213.9 438.6,213.9 C442.0,213.9 444.8,212.8 447.8,213.1 C450.9,213.4 453.3,215.1 456.9,215.9 C460.5,216.7 465.1,217.4 469.2,217.8 C473.3,218.3 478.0,219.0 481.5,218.6 C485.0,218.2 487.4,216.0 490.4,215.5 C493.4,215.0 496.7,215.3 499.3,215.5 C501.9,215.7 503.8,216.1 506.0,216.7 C508.2,217.4 511.5,219.0 512.6,219.4 M373.1,214.6 C374.7,214.7 379.3,215.5 382.4,215.4 C385.5,215.3 388.0,214.0 391.6,213.9 C395.2,213.8 400.1,214.1 404.3,214.6 C408.5,215.1 412.9,216.6 416.8,216.7 C420.7,216.9 424.1,215.5 427.7,215.4 C431.3,215.2 435.2,215.8 438.6,215.8 C442.0,215.8 444.8,215.4 447.8,215.5 C450.9,215.6 453.3,215.5 456.9,216.3 C460.5,217.1 465.1,219.6 469.2,220.2 C473.3,220.9 478.0,219.8 481.5,220.2 C485.0,220.7 487.4,221.8 490.4,222.7 C493.4,223.6 496.7,225.9 499.3,225.8 C501.9,225.7 503.8,223.1 506.0,222.1 C508.2,221.2 511.5,220.6 512.6,220.2 M373.1,219.0 C374.7,218.8 379.3,217.4 382.4,217.5 C385.5,217.7 388.0,219.8 391.6,219.7 C395.2,219.6 400.1,216.2 404.3,216.7 C408.5,217.2 412.9,222.4 416.8,222.7 C420.7,222.9 424.1,218.6 427.7,218.2 C431.3,217.8 435.2,220.3 438.6,220.4 C442.0,220.5 444.8,218.9 447.8,218.6 C450.9,218.3 453.3,218.0 456.9,218.6 C460.5,219.3 465.1,222.1 469.2,222.7 C473.3,223.2 478.0,221.5 481.5,221.9 C485.0,222.3 487.4,224.3 490.4,225.0 C493.4,225.6 496.7,225.6 499.3,225.8 C501.9,226.0 503.8,226.5 506.0,226.2 C508.2,225.9 511.5,224.5 512.6,224.2 M373.1,220.5 C374.7,220.4 379.3,219.4 382.4,219.7 C385.5,220.1 388.0,222.4 391.6,222.7 C395.2,222.9 400.1,220.3 404.3,221.2 C408.5,222.1 412.9,228.2 416.8,227.9 C420.7,227.7 424.1,220.6 427.7,219.7 C431.3,218.8 435.2,222.4 438.6,222.7 C442.0,223.0 444.8,221.7 447.8,221.5 C450.9,221.3 453.3,220.7 456.9,221.5 C460.5,222.2 465.1,225.7 469.2,225.8 C473.3,225.9 478.0,221.4 481.5,221.9 C485.0,222.4 487.4,227.4 490.4,228.9 C493.4,230.3 496.7,230.5 499.3,230.5 C501.9,230.5 503.8,229.5 506.0,228.9 C508.2,228.2 511.5,227.0 512.6,226.6 M373.1,222.0 C374.7,222.0 379.3,221.6 382.4,222.0 C385.5,222.4 388.0,223.6 391.6,224.2 C395.2,224.8 400.1,225.0 404.3,225.6 C408.5,226.3 412.9,228.2 416.8,227.9 C420.7,227.7 424.1,224.7 427.7,224.2 C431.3,223.6 435.2,224.6 438.6,224.6 C442.0,224.6 444.8,224.2 447.8,224.2 C450.9,224.1 453.3,223.5 456.9,224.2 C460.5,224.8 465.1,226.4 469.2,228.2 C473.3,230.1 478.0,234.3 481.5,235.2 C485.0,236.1 487.4,233.9 490.4,233.6 C493.4,233.3 496.7,234.0 499.3,233.6 C501.9,233.3 503.8,231.6 506.0,231.6 C508.2,231.6 511.5,233.3 512.6,233.6 M373.1,225.0 C374.7,224.8 379.3,223.4 382.4,224.2 C385.5,224.9 388.0,228.6 391.6,229.4 C395.2,230.2 400.1,228.4 404.3,228.9 C408.5,229.4 412.9,232.4 416.8,232.3 C420.7,232.1 424.1,228.6 427.7,227.9 C431.3,227.3 435.2,228.6 438.6,228.3 C442.0,228.1 444.8,227.2 447.8,226.6 C450.9,226.0 453.3,224.2 456.9,225.0 C460.5,225.8 465.1,229.6 469.2,231.3 C473.3,233.0 478.0,234.5 481.5,235.2 C485.0,236.0 487.4,235.9 490.4,235.6 C493.4,235.4 496.7,233.8 499.3,233.6 C501.9,233.4 503.8,234.3 506.0,234.3 C508.2,234.3 511.5,233.7 512.6,233.6 M373.1,225.5 C374.7,225.7 379.3,225.8 382.4,226.5 C385.5,227.1 388.0,228.6 391.6,229.4 C395.2,230.3 400.1,230.0 404.3,231.6 C408.5,233.2 412.9,238.8 416.8,239.0 C420.7,239.3 424.1,234.9 427.7,233.1 C431.3,231.3 435.2,229.0 438.6,228.3 C442.0,227.7 444.8,228.7 447.8,228.9 C450.9,229.1 453.3,228.9 456.9,229.6 C460.5,230.2 465.1,231.7 469.2,232.8 C473.3,233.9 478.0,235.4 481.5,236.0 C485.0,236.7 487.4,236.6 490.4,236.9 C493.4,237.1 496.7,237.8 499.3,237.5 C501.9,237.2 503.8,235.6 506.0,235.0 C508.2,234.3 511.5,233.8 512.6,233.6" fill="none" stroke="#646464" stroke-width="0.6"/>
<path clip-path="url(#cb3)" d="M373.1,174.3 C374.7,174.2 379.3,173.7 382.4,173.6 C385.5,173.5 388.0,173.6 391.6,173.7 C395.2,173.7 400.1,173.8 404.3,173.9 C408.5,173.9 412.9,174.1 416.8,174.1 C420.7,174.1 424.1,173.9 427.7,174.0 C431.3,174.1 435.2,174.7 438.6,174.6 C442.0,174.5 444.8,173.8 447.8,173.6 C450.9,173.4 453.3,173.3 456.9,173.4 C460.5,173.6 465.1,174.4 469.2,174.4 C473.3,174.4 478.0,173.7 481.5,173.6 C485.0,173.4 487.4,173.8 490.4,173.8 C493.4,173.8 496.7,173.3 499.3,173.4 C501.9,173.6 503.8,174.3 506.0,174.4 C508.2,174.5 511.5,174.3 512.6,174.3 M373.1,176.5 C374.7,176.4 379.3,175.9 382.4,175.5 C385.5,175.1 388.0,174.5 391.6,174.1 C395.2,173.7 400.1,173.4 404.3,173.2 C408.5,173.1 412.9,173.3 416.8,173.3 C420.7,173.4 424.1,173.7 427.7,173.8 C431.3,173.8 435.2,173.5 438.6,173.7 C442.0,173.8 444.8,174.3 447.8,174.7 C450.9,175.1 453.3,176.0 456.9,176.1 C460.5,176.2 465.1,175.7 469.2,175.6 C473.3,175.5 478.0,175.5 481.5,175.4 C485.0,175.3 487.4,175.3 490.4,175.0 C493.4,174.8 496.7,174.1 499.3,173.9 C501.9,173.6 503.8,173.5 506.0,173.4 C508.2,173.4 511.5,173.4 512.6,173.3 M373.1,173.4 C374.7,173.5 379.3,173.6 382.4,174.0 C385.5,174.3 388.0,175.1 391.6,175.5 C395.2,175.8 400.1,176.1 404.3,176.2 C408.5,176.4 412.9,176.4 416.8,176.3 C420.7,176.3 424.1,176.3 427.7,176.0 C431.3,175.7 435.2,174.9 438.6,174.6 C442.0,174.3 444.8,174.3 447.8,174.2 C450.9,174.1 453.3,173.9 456.9,174.0 C460.5,174.1 465.1,174.5 469.2,174.9 C473.3,175.4 478.0,176.3 481.5,176.6 C485.0,176.9 487.4,176.9 490.4,176.7 C493.4,176.6 496.7,176.2 499.3,175.9 C501.9,175.6 503.8,175.5 506.0,175.2 C508.2,174.8 511.5,174.2 512.6,174.0 M373.1,174.4 C374.7,174.5 379.3,175.0 382.4,175.2 C385.5,175.3 388.0,175.4 391.6,175.5 C395.2,175.6 400.1,175.4 404.3,175.7 C408.5,175.9 412.9,177.0 416.8,177.1 C420.7,177.2 424.1,176.5 427.7,176.3 C431.3,176.1 435.2,176.3 438.6,175.9 C442.0,175.5 444.8,174.2 447.8,174.0 C450.9,173.8 453.3,174.3 456.9,174.7 C460.5,175.2 465.1,176.1 469.2,176.5 C473.3,177.0 478.0,177.6 481.5,177.5 C485.0,177.4 487.4,176.2 490.4,175.9 C493.4,175.6 496.7,175.6 499.3,175.5 C501.9,175.3 503.8,175.1 506.0,175.0 C508.2,174.9 511.5,174.9 512.6,174.8 M373.1,177.0 C374.7,177.2 379.3,178.4 382.4,178.6 C385.5,178.7 388.0,178.0 391.6,177.7 C395.2,177.4 400.1,177.1 404.3,176.6 C408.5,176.2 412.9,175.2 416.8,175.2 C420.7,175.1 424.1,176.0 427.7,176.2 C431.3,176.4 435.2,176.1 438.6,176.3 C442.0,176.5 444.8,176.9 447.8,177.3 C450.9,177.6 453.3,178.2 456.9,178.3 C460.5,178.5 465.1,178.4 469.2,178.1 C473.3,177.9 478.0,177.3 481.5,177.0 C485.0,176.6 487.4,176.2 490.4,175.9 C493.4,175.6 496.7,175.2 499.3,175.3 C501.9,175.3 503.8,176.1 506.0,176.2 C508.2,176.3 511.5,175.9 512.6,175.9 M373.1,176.4 C374.7,176.3 379.3,175.7 382.4,175.8 C385.5,175.9 388.0,176.6 391.6,177.2 C395.2,177.7 400.1,178.8 404.3,179.1 C408.5,179.4 412.9,179.3 416.8,179.0 C420.7,178.7 424.1,177.6 427.7,177.2 C431.3,176.7 435.2,176.2 438.6,176.1 C442.0,176.1 444.8,176.4 447.8,176.8 C450.9,177.3 453.3,178.4 456.9,178.8 C460.5,179.1 465.1,179.0 469.2,178.9 C473.3,178.7 478.0,178.5 481.5,178.0 C485.0,177.5 487.4,176.1 490.4,175.8 C493.4,175.5 496.7,176.0 499.3,176.3 C501.9,176.7 503.8,177.3 506.0,177.8 C508.2,178.3 511.5,179.0 512.6,179.3 M373.1,180.0 C374.7,179.6 379.3,177.9 382.4,177.4 C385.5,176.9 388.0,177.1 391.6,177.1 C395.2,177.0 400.1,176.7 404.3,177.0 C408.5,177.2 412.9,178.1 416.8,178.3 C420.7,178.6 424.1,178.1 427.7,178.3 C431.3,178.6 435.2,179.9 438.6,180.0 C442.0,180.2 444.8,179.7 447.8,179.2 C450.9,178.7 453.3,177.5 456.9,177.1 C460.5,176.6 465.1,176.6 469.2,176.6 C473.3,176.7 478.0,177.0 481.5,177.4 C485.0,177.8 487.4,178.6 490.4,179.0 C493.4,179.4 496.7,179.6 499.3,179.8 C501.9,180.0 503.8,180.4 506.0,180.0 C508.2,179.7 511.5,178.3 512.6,177.9 M373.1,180.8 C374.7,180.6 379.3,180.2 382.4,179.6 C385.5,179.0 388.0,177.5 391.6,177.3 C395.2,177.0 400.1,177.8 404.3,178.2 C408.5,178.6 412.9,179.1 416.8,179.6 C420.7,180.1 424.1,181.2 427.7,181.2 C431.3,181.2 435.2,180.1 438.6,179.5 C442.0,178.9 444.8,178.0 447.8,177.7 C450.9,177.4 453.3,177.5 456.9,177.9 C460.5,178.3 465.1,179.6 469.2,180.0 C473.3,180.4 478.0,180.4 481.5,180.2 C485.0,180.1 487.4,179.3 490.4,179.0 C493.4,178.6 496.7,178.1 499.3,178.1 C501.9,178.1 503.8,178.9 506.0,179.1 C508.2,179.3 511.5,179.4 512.6,179.5 M373.1,181.1 C374.7,181.0 379.3,180.8 382.4,180.5 C385.5,180.1 388.0,179.4 391.6,179.2 C395.2,178.9 400.1,179.0 404.3,179.0 C408.5,179.0 412.9,179.1 416.8,179.3 C420.7,179.5 424.1,180.1 427.7,180.2 C431.3,180.4 435.2,180.3 438.6,180.4 C442.0,180.4 444.8,180.8 447.8,180.8 C450.9,180.8 453.3,180.7 456.9,180.4 C460.5,180.1 465.1,179.3 469.2,179.0 C473.3,178.7 478.0,178.6 481.5,178.6 C485.0,178.5 487.4,178.5 490.4,178.8 C493.4,179.0 496.7,179.4 499.3,179.8 C501.9,180.2 503.8,181.0 506.0,181.2 C508.2,181.4 511.5,180.9 512.6,180.9 M373.1,182.9 C374.7,182.8 379.3,182.1 382.4,182.1 C385.5,182.0 388.0,183.0 391.6,182.8 C395.2,182.6 400.1,181.3 404.3,180.9 C408.5,180.5 412.9,180.3 416.8,180.4 C420.7,180.4 424.1,180.8 427.7,181.2 C431.3,181.6 435.2,182.2 438.6,182.6 C442.0,182.9 444.8,183.3 447.8,183.3 C450.9,183.3 453.3,182.7 456.9,182.5 C460.5,182.2 465.1,182.2 469.2,181.8 C473.3,181.5 478.0,180.4 481.5,180.2 C485.0,180.1 487.4,180.4 490.4,180.8 C493.4,181.2 496.7,182.2 499.3,182.5 C501.9,182.8 503.8,182.6 506.0,182.7 C508.2,182.8 511.5,183.2 512.6,183.3 M373.1,182.9 C374.7,183.2 379.3,184.1 382.4,184.6 C385.5,185.1 388.0,185.6 391.6,185.8 C395.2,185.9 400.1,185.6 404.3,185.5 C408.5,185.3 412.9,185.3 416.8,185.0 C420.7,184.7 424.1,183.9 427.7,183.5 C431.3,183.2 435.2,183.3 438.6,182.9 C442.0,182.5 444.8,181.2 447.8,181.1 C450.9,181.0 453.3,181.8 456.9,182.1 C460.5,182.3 465.1,182.1 469.2,182.4 C473.3,182.6 478.0,183.2 481.5,183.7 C485.0,184.1 487.4,184.7 490.4,184.9 C493.4,185.2 496.7,185.2 499.3,185.2 C501.9,185.3 503.8,185.4 506.0,185.2 C508.2,185.1 511.5,184.5 512.6,184.4 M373.1,185.0 C374.7,184.9 379.3,184.0 382.4,184.0 C385.5,184.0 388.0,184.8 391.6,185.1 C395.2,185.5 400.1,185.8 404.3,185.9 C408.5,186.0 412.9,186.3 416.8,185.9 C420.7,185.5 424.1,183.5 427.7,183.3 C431.3,183.2 435.2,184.3 438.6,184.8 C442.0,185.3 444.8,186.0 447.8,186.3 C450.9,186.6 453.3,186.9 456.9,186.6 C460.5,186.3 465.1,184.9 469.2,184.4 C473.3,183.9 478.0,183.5 481.5,183.8 C485.0,184.0 487.4,185.5 490.4,185.9 C493.4,186.3 496.7,186.4 499.3,186.3 C501.9,186.2 503.8,185.4 506.0,185.0 C508.2,184.6 511.5,184.1 512.6,184.0 M373.1,188.2 C374.7,188.1 379.3,188.1 382.4,187.8 C385.5,187.5 388.0,187.0 391.6,186.4 C395.2,185.8 400.1,184.2 404.3,184.1 C408.5,183.9 412.9,184.8 416.8,185.5 C420.7,186.1 424.1,187.4 427.7,187.9 C431.3,188.4 435.2,188.2 438.6,188.2 C442.0,188.3 444.8,188.6 447.8,188.2 C450.9,187.8 453.3,186.4 456.9,185.7 C460.5,185.0 465.1,183.9 469.2,184.0 C473.3,184.0 478.0,185.3 481.5,186.0 C485.0,186.7 487.4,187.6 490.4,188.0 C493.4,188.4 496.7,188.3 499.3,188.2 C501.9,188.1 503.8,187.8 506.0,187.3 C508.2,186.7 511.5,185.3 512.6,184.9 M373.1,173.1 C374.7,173.1 379.3,173.0 382.4,173.0 C385.5,173.0 388.0,173.2 391.6,173.2 C395.2,173.3 400.1,173.2 404.3,173.1 C408.5,173.1 412.9,173.0 416.8,173.0 C420.7,173.0 424.1,173.1 427.7,173.1 C431.3,173.1 435.2,172.9 438.6,172.9 C442.0,172.9 444.8,173.1 447.8,173.1 C450.9,173.2 453.3,173.3 456.9,173.3 C460.5,173.3 465.1,173.2 469.2,173.1 C473.3,173.1 478.0,173.0 481.5,173.0 C485.0,173.0 487.4,173.1 490.4,173.1 C493.4,173.1 496.7,173.1 499.3,173.1 C501.9,173.1 503.8,173.0 506.0,173.0 C508.2,173.0 511.5,173.1 512.6,173.1 M373.1,187.7 C374.7,187.7 379.3,187.7 382.4,187.8 C385.5,187.9 388.0,187.9 391.6,188.2 C395.2,188.6 400.1,189.4 404.3,189.9 C408.5,190.5 412.9,191.4 416.8,191.6 C420.7,191.8 424.1,191.6 427.7,191.0 C431.3,190.3 435.2,188.4 438.6,187.8 C442.0,187.2 444.8,187.4 447.8,187.4 C450.9,187.3 453.3,187.1 456.9,187.5 C460.5,187.9 465.1,189.3 469.2,189.8 C473.3,190.4 478.0,190.9 481.5,190.8 C485.0,190.6 487.4,189.4 490.4,188.8 C493.4,188.1 496.7,187.1 499.3,186.9 C501.9,186.8 503.8,187.5 506.0,187.7 C508.2,187.8 511.5,187.8 512.6,187.8 M373.1,187.2 C374.7,187.2 379.3,187.5 382.4,187.7 C385.5,187.9 388.0,188.0 391.6,188.2 C395.2,188.4 400.1,188.7 404.3,189.1 C408.5,189.4 412.9,189.7 416.8,190.3 C420.7,190.9 424.1,193.0 427.7,192.7 C431.3,192.3 435.2,189.1 438.6,188.2 C442.0,187.4 444.8,187.6 447.8,187.5 C450.9,187.4 453.3,187.7 456.9,187.6 C460.5,187.4 465.1,187.0 469.2,186.6 C473.3,186.3 478.0,185.3 481.5,185.3 C485.0,185.3 487.4,186.3 490.4,186.6 C493.4,186.9 496.7,187.1 499.3,187.2 C501.9,187.2 503.8,187.0 506.0,186.9 C508.2,186.9 511.5,186.8 512.6,186.7" fill="none" stroke="#4a4a4a" stroke-width="0.58"/>
<rect x="373.1" y="132.1" width="139.5" height="98.0" fill="none" stroke="#a8a8a8" stroke-width="0.95"/>
<line x1="371.6" y1="132.1" x2="373.1" y2="132.1" stroke="#555" stroke-width="0.7"/>
<text x="370.90000000000003" y="133.6" font-size="4.3" text-anchor="end" fill="#444" font-family="Liberation Sans">10</text>
<line x1="371.6" y1="141.0" x2="373.1" y2="141.0" stroke="#555" stroke-width="0.7"/>
<text x="370.90000000000003" y="142.5" font-size="4.3" text-anchor="end" fill="#444" font-family="Liberation Sans">9</text>
<line x1="371.6" y1="150.2" x2="373.1" y2="150.2" stroke="#555" stroke-width="0.7"/>
<text x="370.90000000000003" y="151.7" font-size="4.3" text-anchor="end" fill="#444" font-family="Liberation Sans">8</text>
<line x1="371.6" y1="159.1" x2="373.1" y2="159.1" stroke="#555" stroke-width="0.7"/>
<text x="370.90000000000003" y="160.6" font-size="4.3" text-anchor="end" fill="#444" font-family="Liberation Sans">7</text>
<line x1="371.6" y1="172.6" x2="373.1" y2="172.6" stroke="#555" stroke-width="0.7"/>
<text x="370.90000000000003" y="174.1" font-size="4.3" text-anchor="end" fill="#444" font-family="Liberation Sans">0</text>
<line x1="371.6" y1="181.7" x2="373.1" y2="181.7" stroke="#555" stroke-width="0.7"/>
<text x="370.90000000000003" y="183.2" font-size="4.3" text-anchor="end" fill="#444" font-family="Liberation Sans">−1</text>
<line x1="371.6" y1="190.5" x2="373.1" y2="190.5" stroke="#555" stroke-width="0.7"/>
<text x="370.90000000000003" y="192.0" font-size="4.3" text-anchor="end" fill="#444" font-family="Liberation Sans">−2</text>
<line x1="371.6" y1="201.3" x2="373.1" y2="201.3" stroke="#555" stroke-width="0.7"/>
<text x="370.90000000000003" y="202.8" font-size="4.3" text-anchor="end" fill="#444" font-family="Liberation Sans">−7.0</text>
<line x1="371.6" y1="211.7" x2="373.1" y2="211.7" stroke="#555" stroke-width="0.7"/>
<text x="370.90000000000003" y="213.2" font-size="4.3" text-anchor="end" fill="#444" font-family="Liberation Sans">−7.5</text>
<line x1="371.6" y1="222.3" x2="373.1" y2="222.3" stroke="#555" stroke-width="0.7"/>
<text x="370.90000000000003" y="223.8" font-size="4.3" text-anchor="end" fill="#444" font-family="Liberation Sans">−8.0</text>
<path d="M368.70000000000005,163.4 L372.70000000000005,165.6 M373.3,163.4 L377.3,165.6" stroke="#707070" stroke-width="1.1" fill="none"/>
<path d="M508.20000000000005,163.4 L512.2,165.6 M512.8000000000001,163.4 L516.8000000000001,165.6" stroke="#707070" stroke-width="1.1" fill="none"/>
<path d="M368.70000000000005,195.9 L372.70000000000005,198.1 M373.3,195.9 L377.3,198.1" stroke="#707070" stroke-width="1.1" fill="none"/>
<path d="M508.20000000000005,195.9 L512.2,198.1 M512.8000000000001,195.9 L516.8000000000001,198.1" stroke="#707070" stroke-width="1.1" fill="none"/>
<text x="373.1" y="234.2" font-size="4.5" text-anchor="middle" fill="#444" font-family="Liberation Sans">X</text>
<text x="391.6" y="234.2" font-size="4.5" text-anchor="middle" fill="#444" font-family="Liberation Sans">Y</text>
<text x="416.8" y="234.2" font-size="4.5" text-anchor="middle" fill="#444" font-family="Liberation Sans">Z</text>
<text x="438.6" y="234.2" font-size="4.5" text-anchor="middle" fill="#444" font-family="Liberation Sans">Γ</text>
<text x="456.9" y="234.2" font-size="4.5" text-anchor="middle" fill="#444" font-family="Liberation Sans">S</text>
<text x="481.5" y="234.2" font-size="4.5" text-anchor="middle" fill="#444" font-family="Liberation Sans">U</text>
<text x="499.3" y="234.2" font-size="4.5" text-anchor="middle" fill="#444" font-family="Liberation Sans">T</text>
<text x="512.6" y="234.2" font-size="4.5" text-anchor="middle" fill="#444" font-family="Liberation Sans">R</text>
<text x="363.2" y="181.5" font-size="4.85" text-anchor="middle" fill="#333" font-family="Liberation Sans" transform="rotate(-90 363.2 181.5)">Energy (eV)</text>
<text x="419.5" y="128.2" font-size="10.8" fill="#111" font-family="Liberation Serif" transform="translate(0 128.2) scale(1 0.94) translate(0 -128.2)">5.0 GPa</text>
<line x1="474.0" y1="158.9" x2="474.0" y2="169.7" stroke="#5d86d8" stroke-width="0.9"/>
<path d="M472.4,159.9 L474.0,156.9 L475.6,159.9 Z" fill="#5d86d8"/>
<path d="M472.4,168.7 L474.0,171.7 L475.6,168.7 Z" fill="#5d86d8"/>
<line x1="425.2" y1="195.4" x2="425.2" y2="205.2" stroke="#4a72c4" stroke-width="1.4"/>
<path d="M423.2,197.0 L425.2,193.4 L427.2,197.0 Z" fill="#4a72c4"/>
<path d="M423.2,203.6 L425.2,207.2 L427.2,203.6 Z" fill="#4a72c4"/>
<text x="457.59999999999997" y="163.20000000000002" font-size="6.3" fill="#333" stroke="#333" stroke-width="0.12" font-family="Liberation Sans">Ev-c=7.322 eV</text>
<text x="452.4" y="201.6" font-size="6.3" fill="#333" stroke="#333" stroke-width="0.12" font-family="Liberation Sans">Ec-v=5.124 eV</text>
<line x1="557.3" y1="132.1" x2="557.3" y2="230.1" stroke="#dcdcdc" stroke-width="0.8"/>
<line x1="583.5" y1="132.1" x2="583.5" y2="230.1" stroke="#dcdcdc" stroke-width="0.8"/>
<line x1="605.4" y1="132.1" x2="605.4" y2="230.1" stroke="#dcdcdc" stroke-width="0.8"/>
<line x1="623.5" y1="132.1" x2="623.5" y2="230.1" stroke="#dcdcdc" stroke-width="0.8"/>
<line x1="648.4" y1="132.1" x2="648.4" y2="230.1" stroke="#dcdcdc" stroke-width="0.8"/>
<line x1="666.4" y1="132.1" x2="666.4" y2="230.1" stroke="#dcdcdc" stroke-width="0.8"/>
<line x1="540.1" y1="156.1" x2="679.0" y2="156.1" stroke="#dcdcdc" stroke-width="0.8"/>
<line x1="540.1" y1="172.6" x2="679.0" y2="172.6" stroke="#dcdcdc" stroke-width="0.8"/>
<line x1="540.1" y1="192.4" x2="679.0" y2="192.4" stroke="#dcdcdc" stroke-width="0.8"/>
<line x1="540.1" y1="208.5" x2="679.0" y2="208.5" stroke="#dcdcdc" stroke-width="0.8"/>
<clipPath id="cb4"><rect x="540.1" y="132.1" width="138.89999999999998" height="98.0"/></clipPath>
<path clip-path="url(#cb4)" d="M540.1,148.7 C541.5,149.3 545.9,152.2 548.7,152.4 C551.6,152.7 554.7,150.9 557.3,150.3 C559.9,149.6 562.0,149.4 564.2,148.5 C566.4,147.6 568.4,146.1 570.5,145.0 C572.5,144.0 574.5,142.8 576.7,142.1 C578.9,141.3 581.5,140.7 583.5,140.6 C585.5,140.5 587.2,140.6 589.0,141.7 C590.7,142.8 592.3,145.4 594.0,147.2 C595.6,149.1 597.0,151.2 598.9,152.7 C600.8,154.2 603.3,156.1 605.4,156.2 C607.5,156.3 609.5,154.7 611.5,153.4 C613.4,152.2 615.0,149.9 617.0,148.8 C619.1,147.6 621.6,146.9 623.6,146.5 C625.6,146.1 627.0,146.6 629.1,146.3 C631.1,146.1 633.7,145.5 636.0,145.0 C638.3,144.5 640.9,143.8 642.9,143.4 C645.0,142.9 646.0,142.7 648.4,142.2 C650.8,141.6 654.4,140.7 657.4,140.1 C660.4,139.5 663.8,138.5 666.4,138.6 C669.0,138.7 670.6,139.9 672.7,140.6 C674.8,141.3 678.0,142.5 679.0,142.9 M540.1,145.0 C541.5,145.2 545.9,146.0 548.7,145.8 C551.6,145.6 554.7,144.5 557.3,143.8 C559.9,143.0 562.0,142.2 564.2,141.6 C566.4,141.0 567.2,140.4 570.5,140.1 C573.7,139.8 580.4,139.5 583.5,139.9 C586.6,140.3 587.2,141.5 589.0,142.6 C590.7,143.7 592.3,145.2 594.0,146.5 C595.6,147.8 597.0,149.5 598.9,150.5 C600.8,151.4 603.3,152.3 605.4,152.3 C607.5,152.3 609.5,151.4 611.5,150.5 C613.4,149.5 615.0,147.8 617.0,146.5 C619.1,145.3 621.6,143.7 623.6,143.0 C625.6,142.2 627.0,142.2 629.1,141.9 C631.1,141.6 633.7,141.4 636.0,141.3 C638.3,141.2 640.9,141.0 642.9,141.1 C645.0,141.2 646.0,141.3 648.4,141.8 C650.8,142.3 654.4,143.2 657.4,144.1 C660.4,144.9 663.8,146.8 666.4,147.0 C669.0,147.3 670.6,146.1 672.7,145.5 C674.8,145.0 678.0,144.1 679.0,143.9 M540.1,143.0 C541.5,142.7 545.9,141.1 548.7,141.3 C551.6,141.5 554.7,143.3 557.3,144.1 C559.9,144.8 562.0,145.6 564.2,146.0 C566.4,146.4 567.2,146.2 570.5,146.3 C573.7,146.4 580.4,146.5 583.5,146.5 C586.6,146.5 587.2,146.3 589.0,146.2 C590.7,146.1 592.3,145.9 594.0,146.0 C595.6,146.2 597.0,146.8 598.9,147.0 C600.8,147.3 603.3,147.6 605.4,147.5 C607.5,147.4 609.5,147.0 611.5,146.5 C613.4,146.0 615.0,145.1 617.0,144.5 C619.1,144.0 621.6,143.6 623.6,143.3 C625.6,142.9 627.0,142.8 629.1,142.6 C631.1,142.3 633.7,141.7 636.0,141.6 C638.3,141.4 640.9,141.5 642.9,141.6 C645.0,141.6 646.0,142.1 648.4,141.8 C650.8,141.4 654.4,140.3 657.4,139.6 C660.4,138.9 663.8,137.9 666.4,137.6 C669.0,137.4 670.6,137.8 672.7,137.9 C674.8,138.1 678.0,138.5 679.0,138.6 M540.1,141.7 C541.5,142.0 545.9,142.8 548.7,143.6 C551.6,144.3 554.7,146.2 557.3,146.4 C559.9,146.7 562.0,145.2 564.2,145.0 C566.4,144.9 568.4,145.8 570.5,145.4 C572.5,145.0 574.5,143.5 576.7,142.6 C578.9,141.7 581.5,140.6 583.5,140.1 C585.5,139.6 587.2,139.7 589.0,139.6 C590.7,139.5 592.3,139.4 594.0,139.6 C595.6,139.8 597.0,140.2 598.9,140.6 C600.8,141.0 602.8,141.7 605.4,142.1 C608.0,142.4 611.5,142.9 614.5,142.6 C617.5,142.2 621.2,140.6 623.6,139.9 C626.0,139.2 627.0,138.7 629.1,138.1 C631.1,137.6 633.7,137.1 636.0,136.6 C638.3,136.2 640.9,135.8 642.9,135.7 C645.0,135.5 646.0,135.5 648.4,135.6 C650.8,135.6 654.4,135.6 657.4,136.0 C660.4,136.3 663.8,137.4 666.4,137.6 C669.0,137.9 670.6,137.5 672.7,137.6 C674.8,137.8 678.0,138.5 679.0,138.6 M540.1,134.2 C541.5,135.0 545.9,137.8 548.7,139.4 C551.6,141.0 554.7,143.1 557.3,143.8 C559.9,144.4 562.0,143.3 564.2,143.1 C566.4,142.8 567.2,142.8 570.5,142.1 C573.7,141.4 579.6,139.3 583.5,138.8 C587.4,138.3 590.3,138.8 594.0,139.1 C597.6,139.4 602.0,140.4 605.4,140.6 C608.8,140.8 611.5,140.2 614.5,140.1 C617.5,140.0 621.2,139.9 623.6,139.9 C626.0,139.9 627.0,139.8 629.1,139.9 C631.1,140.0 633.7,140.1 636.0,140.3 C638.3,140.5 640.9,140.7 642.9,141.1 C645.0,141.5 646.0,142.7 648.4,142.9 C650.8,143.0 654.4,142.3 657.4,142.1 C660.4,141.9 663.8,141.7 666.4,141.8 C669.0,141.9 670.6,142.4 672.7,142.6 C674.8,142.8 678.0,142.8 679.0,142.9 M540.1,137.0 C541.5,136.9 545.9,136.2 548.7,136.1 C551.6,136.1 553.7,136.3 557.3,136.4 C560.9,136.6 566.1,136.8 570.5,136.9 C574.8,137.1 579.6,137.0 583.5,137.1 C587.4,137.3 590.3,137.5 594.0,137.6 C597.6,137.8 602.0,138.0 605.4,138.1 C608.8,138.3 611.5,138.3 614.5,138.6 C617.5,138.9 621.2,139.9 623.6,139.9 C626.0,140.0 627.0,139.2 629.1,138.9 C631.1,138.6 633.7,138.1 636.0,137.9 C638.3,137.7 640.9,137.6 642.9,137.6 C645.0,137.7 646.0,137.9 648.4,138.1 C650.8,138.4 654.4,138.5 657.4,139.1 C660.4,139.7 663.8,141.5 666.4,141.8 C669.0,142.0 670.6,141.1 672.7,140.6 C674.8,140.1 678.0,138.9 679.0,138.6 M540.1,138.6 C541.5,138.3 545.9,137.0 548.7,136.6 C551.6,136.3 553.7,136.6 557.3,136.4 C560.9,136.2 566.1,135.5 570.5,135.5 C574.8,135.5 579.6,136.5 583.5,136.4 C587.4,136.3 590.3,134.9 594.0,134.9 C597.6,134.9 602.0,136.4 605.4,136.4 C608.8,136.5 611.5,135.7 614.5,135.3 C617.5,134.8 621.2,134.0 623.6,133.7 C626.0,133.4 627.0,133.4 629.1,133.4 C631.1,133.4 633.7,133.4 636.0,133.5 C638.3,133.5 640.9,133.6 642.9,133.7 C645.0,133.8 646.0,134.0 648.4,134.1 C650.8,134.1 654.4,133.9 657.4,134.0 C660.4,134.0 663.8,134.3 666.4,134.5 C669.0,134.6 670.6,134.8 672.7,135.0 C674.8,135.1 678.0,135.5 679.0,135.6 M540.1,133.4 C543.0,133.7 552.2,134.8 557.3,135.6 C562.4,136.3 566.1,137.1 570.5,137.6 C574.8,138.1 579.6,138.6 583.5,138.6 C587.4,138.6 590.3,138.0 594.0,137.6 C597.6,137.3 602.0,136.5 605.4,136.5 C608.8,136.5 611.5,137.4 614.5,137.6 C617.5,137.8 621.2,137.8 623.6,137.6 C626.0,137.5 627.0,137.0 629.1,136.6 C631.1,136.3 633.7,135.9 636.0,135.7 C638.3,135.4 640.9,135.2 642.9,135.2 C645.0,135.1 646.0,135.3 648.4,135.6 C650.8,135.8 654.4,136.8 657.4,136.6 C660.4,136.5 663.8,134.8 666.4,134.5 C669.0,134.1 670.6,134.5 672.7,134.7 C674.8,134.8 678.0,135.4 679.0,135.6 M540.1,139.3 C541.5,139.0 545.9,137.7 548.7,137.6 C551.6,137.5 553.7,138.0 557.3,138.6 C560.9,139.3 566.1,141.4 570.5,141.6 C574.8,141.8 579.6,139.9 583.5,139.7 C587.4,139.5 590.3,140.4 594.0,140.6 C597.6,140.8 602.0,140.9 605.4,140.7 C608.8,140.5 611.5,140.4 614.5,139.6 C617.5,138.8 621.2,136.6 623.6,135.9 C626.0,135.1 627.0,135.4 629.1,135.2 C631.1,135.0 633.7,134.8 636.0,134.7 C638.3,134.5 640.9,134.5 642.9,134.4 C645.0,134.3 646.0,134.0 648.4,134.1 C650.8,134.1 654.4,134.3 657.4,134.7 C660.4,135.0 663.8,135.9 666.4,136.1 C669.0,136.4 670.6,136.1 672.7,136.0 C674.8,135.9 678.0,135.6 679.0,135.6 M540.1,212.0 C541.5,211.9 545.9,211.3 548.7,211.3 C551.6,211.3 553.7,212.6 557.3,212.0 C560.9,211.4 566.1,207.1 570.5,207.8 C574.8,208.4 579.5,215.8 583.5,215.8 C587.5,215.8 590.8,208.3 594.5,207.8 C598.1,207.2 602.1,211.7 605.4,212.4 C608.7,213.1 611.5,211.4 614.5,212.0 C617.5,212.6 619.9,215.5 623.5,215.9 C627.1,216.3 631.8,213.8 636.0,214.3 C640.1,214.8 644.8,219.2 648.4,219.0 C652.0,218.9 654.4,214.4 657.4,213.5 C660.4,212.6 663.8,213.2 666.4,213.5 C669.0,213.8 670.6,214.1 672.7,215.1 C674.8,216.2 678.0,219.1 679.0,219.8 M540.1,213.5 C541.5,213.5 545.9,214.0 548.7,213.8 C551.6,213.5 553.7,212.3 557.3,212.0 C560.9,211.7 566.1,211.4 570.5,212.0 C574.8,212.6 579.5,215.5 583.5,215.8 C587.5,216.0 590.8,213.7 594.5,213.5 C598.1,213.2 602.1,214.3 605.4,214.3 C608.7,214.3 611.5,213.2 614.5,213.5 C617.5,213.8 619.9,215.5 623.5,216.3 C627.1,217.1 631.8,217.8 636.0,218.2 C640.1,218.7 644.8,219.4 648.4,219.0 C652.0,218.6 654.4,216.4 657.4,215.9 C660.4,215.4 663.8,215.7 666.4,215.9 C669.0,216.1 670.6,216.5 672.7,217.1 C674.8,217.8 678.0,219.4 679.0,219.8 M540.1,215.0 C541.5,215.1 545.9,215.9 548.7,215.8 C551.6,215.7 553.7,214.4 557.3,214.3 C560.9,214.2 566.1,214.5 570.5,215.0 C574.8,215.5 579.5,217.0 583.5,217.1 C587.5,217.3 590.8,215.9 594.5,215.8 C598.1,215.6 602.1,216.2 605.4,216.2 C608.7,216.2 611.5,215.8 614.5,215.9 C617.5,216.0 619.9,215.9 623.5,216.7 C627.1,217.5 631.8,220.0 636.0,220.7 C640.1,221.3 644.8,220.2 648.4,220.7 C652.0,221.1 654.4,222.2 657.4,223.1 C660.4,224.0 663.8,226.3 666.4,226.2 C669.0,226.1 670.6,223.5 672.7,222.5 C674.8,221.6 678.0,221.0 679.0,220.7 M540.1,219.4 C541.5,219.2 545.9,217.8 548.7,217.9 C551.6,218.1 553.7,220.2 557.3,220.1 C560.9,220.0 566.1,216.6 570.5,217.1 C574.8,217.6 579.5,222.8 583.5,223.1 C587.5,223.3 590.8,219.0 594.5,218.6 C598.1,218.2 602.1,220.7 605.4,220.8 C608.7,220.9 611.5,219.3 614.5,219.0 C617.5,218.7 619.9,218.4 623.5,219.0 C627.1,219.7 631.8,222.5 636.0,223.1 C640.1,223.6 644.8,221.9 648.4,222.3 C652.0,222.7 654.4,224.7 657.4,225.4 C660.4,226.0 663.8,226.0 666.4,226.2 C669.0,226.4 670.6,226.9 672.7,226.6 C674.8,226.3 678.0,224.9 679.0,224.6 M540.1,220.9 C541.5,220.8 545.9,219.8 548.7,220.1 C551.6,220.5 553.7,222.8 557.3,223.1 C560.9,223.3 566.1,220.7 570.5,221.6 C574.8,222.5 579.5,228.6 583.5,228.3 C587.5,228.1 590.8,221.0 594.5,220.1 C598.1,219.2 602.1,222.8 605.4,223.1 C608.7,223.4 611.5,222.1 614.5,221.9 C617.5,221.7 619.9,221.1 623.5,221.9 C627.1,222.6 631.8,226.1 636.0,226.2 C640.1,226.3 644.8,221.8 648.4,222.3 C652.0,222.8 654.4,227.9 657.4,229.3 C660.4,230.7 663.8,230.9 666.4,230.9 C669.0,230.9 670.6,229.9 672.7,229.3 C674.8,228.6 678.0,227.4 679.0,227.0 M540.1,222.4 C541.5,222.4 545.9,222.0 548.7,222.4 C551.6,222.8 553.7,224.0 557.3,224.6 C560.9,225.2 566.1,225.4 570.5,226.1 C574.8,226.7 579.5,228.6 583.5,228.3 C587.5,228.1 590.8,225.1 594.5,224.6 C598.1,224.0 602.1,225.0 605.4,225.0 C608.7,225.0 611.5,224.6 614.5,224.6 C617.5,224.5 619.9,223.9 623.5,224.6 C627.1,225.2 631.8,226.8 636.0,228.6 C640.1,230.5 644.8,234.7 648.4,235.6 C652.0,236.5 654.4,234.3 657.4,234.0 C660.4,233.7 663.8,234.4 666.4,234.0 C669.0,233.7 670.6,232.0 672.7,232.0 C674.8,232.0 678.0,233.7 679.0,234.0 M540.1,225.4 C541.5,225.2 545.9,223.8 548.7,224.6 C551.6,225.3 553.7,229.0 557.3,229.8 C560.9,230.6 566.1,228.8 570.5,229.3 C574.8,229.8 579.5,232.8 583.5,232.7 C587.5,232.5 590.8,229.0 594.5,228.3 C598.1,227.7 602.1,229.0 605.4,228.8 C608.7,228.5 611.5,227.6 614.5,227.0 C617.5,226.4 619.9,224.6 623.5,225.4 C627.1,226.2 631.8,230.0 636.0,231.7 C640.1,233.4 644.8,234.9 648.4,235.6 C652.0,236.4 654.4,236.3 657.4,236.0 C660.4,235.8 663.8,234.2 666.4,234.0 C669.0,233.8 670.6,234.7 672.7,234.7 C674.8,234.7 678.0,234.1 679.0,234.0 M540.1,225.9 C541.5,226.1 545.9,226.2 548.7,226.9 C551.6,227.5 553.7,229.0 557.3,229.8 C560.9,230.7 566.1,230.4 570.5,232.0 C574.8,233.6 579.5,239.2 583.5,239.4 C587.5,239.7 590.8,235.3 594.5,233.5 C598.1,231.7 602.1,229.4 605.4,228.8 C608.7,228.1 611.5,229.1 614.5,229.3 C617.5,229.5 619.9,229.3 623.5,230.0 C627.1,230.6 631.8,232.1 636.0,233.2 C640.1,234.3 644.8,235.8 648.4,236.4 C652.0,237.1 654.4,237.0 657.4,237.3 C660.4,237.5 663.8,238.2 666.4,237.9 C669.0,237.6 670.6,236.0 672.7,235.4 C674.8,234.7 678.0,234.2 679.0,234.0" fill="none" stroke="#646464" stroke-width="0.6"/>
<path clip-path="url(#cb4)" d="M540.1,174.2 C541.5,174.1 545.9,173.6 548.7,173.5 C551.6,173.4 553.7,173.6 557.3,173.6 C560.9,173.7 566.1,173.8 570.5,173.8 C574.8,173.9 579.5,174.0 583.5,174.0 C587.5,174.1 590.8,173.9 594.5,173.9 C598.1,174.0 602.1,174.6 605.4,174.6 C608.7,174.5 611.5,173.7 614.5,173.5 C617.5,173.3 619.9,173.3 623.5,173.4 C627.1,173.6 631.8,174.3 636.0,174.4 C640.1,174.4 644.8,173.6 648.4,173.5 C652.0,173.4 654.4,173.8 657.4,173.7 C660.4,173.7 663.8,173.3 666.4,173.4 C669.0,173.5 670.6,174.2 672.7,174.4 C674.8,174.5 678.0,174.3 679.0,174.2 M540.1,176.4 C541.5,176.2 545.9,175.8 548.7,175.4 C551.6,175.0 553.7,174.4 557.3,174.0 C560.9,173.7 566.1,173.3 570.5,173.2 C574.8,173.1 579.5,173.2 583.5,173.3 C587.5,173.4 590.8,173.7 594.5,173.7 C598.1,173.8 602.1,173.5 605.4,173.6 C608.7,173.8 611.5,174.3 614.5,174.7 C617.5,175.1 619.9,175.9 623.5,176.0 C627.1,176.1 631.8,175.6 636.0,175.5 C640.1,175.4 644.8,175.4 648.4,175.3 C652.0,175.2 654.4,175.2 657.4,175.0 C660.4,174.7 663.8,174.1 666.4,173.8 C669.0,173.6 670.6,173.5 672.7,173.4 C674.8,173.3 678.0,173.3 679.0,173.3 M540.1,173.4 C541.5,173.5 545.9,173.6 548.7,173.9 C551.6,174.3 553.7,175.0 557.3,175.4 C560.9,175.7 566.1,176.0 570.5,176.1 C574.8,176.2 579.5,176.2 583.5,176.2 C587.5,176.2 590.8,176.2 594.5,175.9 C598.1,175.6 602.1,174.9 605.4,174.6 C608.7,174.3 611.5,174.2 614.5,174.1 C617.5,174.0 619.9,173.8 623.5,173.9 C627.1,174.1 631.8,174.4 636.0,174.9 C640.1,175.3 644.8,176.2 648.4,176.5 C652.0,176.8 654.4,176.7 657.4,176.6 C660.4,176.5 663.8,176.1 666.4,175.8 C669.0,175.5 670.6,175.4 672.7,175.1 C674.8,174.8 678.0,174.1 679.0,173.9 M540.1,174.4 C541.5,174.5 545.9,174.9 548.7,175.1 C551.6,175.2 553.7,175.3 557.3,175.4 C560.9,175.5 566.1,175.3 570.5,175.6 C574.8,175.8 579.5,176.8 583.5,176.9 C587.5,177.0 590.8,176.4 594.5,176.2 C598.1,176.0 602.1,176.2 605.4,175.8 C608.7,175.4 611.5,174.1 614.5,173.9 C617.5,173.8 619.9,174.2 623.5,174.7 C627.1,175.1 631.8,176.0 636.0,176.4 C640.1,176.9 644.8,177.4 648.4,177.3 C652.0,177.2 654.4,176.1 657.4,175.8 C660.4,175.5 663.8,175.5 666.4,175.4 C669.0,175.2 670.6,175.1 672.7,175.0 C674.8,174.9 678.0,174.8 679.0,174.8 M540.1,176.8 C541.5,177.1 545.9,178.3 548.7,178.4 C551.6,178.5 553.7,177.9 557.3,177.6 C560.9,177.2 566.1,176.9 570.5,176.5 C574.8,176.1 579.5,175.1 583.5,175.1 C587.5,175.0 590.8,175.9 594.5,176.1 C598.1,176.3 602.1,176.0 605.4,176.2 C608.7,176.4 611.5,176.8 614.5,177.1 C617.5,177.5 619.9,178.0 623.5,178.2 C627.1,178.3 631.8,178.2 636.0,178.0 C640.1,177.7 644.8,177.2 648.4,176.8 C652.0,176.5 654.4,176.1 657.4,175.8 C660.4,175.5 663.8,175.1 666.4,175.2 C669.0,175.2 670.6,176.0 672.7,176.1 C674.8,176.2 678.0,175.8 679.0,175.8 M540.1,176.3 C541.5,176.2 545.9,175.6 548.7,175.7 C551.6,175.8 553.7,176.5 557.3,177.0 C560.9,177.6 566.1,178.6 570.5,178.9 C574.8,179.2 579.5,179.1 583.5,178.8 C587.5,178.5 590.8,177.5 594.5,177.0 C598.1,176.6 602.1,176.1 605.4,176.0 C608.7,176.0 611.5,176.3 614.5,176.7 C617.5,177.2 619.9,178.3 623.5,178.6 C627.1,178.9 631.8,178.8 636.0,178.7 C640.1,178.6 644.8,178.4 648.4,177.9 C652.0,177.4 654.4,176.0 657.4,175.7 C660.4,175.4 663.8,175.9 666.4,176.2 C669.0,176.5 670.6,177.2 672.7,177.7 C674.8,178.1 678.0,178.9 679.0,179.1 M540.1,179.8 C541.5,179.4 545.9,177.7 548.7,177.2 C551.6,176.8 553.7,177.0 557.3,176.9 C560.9,176.9 566.1,176.6 570.5,176.8 C574.8,177.0 579.5,177.9 583.5,178.2 C587.5,178.4 590.8,177.9 594.5,178.2 C598.1,178.4 602.1,179.7 605.4,179.8 C608.7,180.0 611.5,179.5 614.5,179.0 C617.5,178.5 619.9,177.3 623.5,176.9 C627.1,176.5 631.8,176.5 636.0,176.5 C640.1,176.6 644.8,176.9 648.4,177.2 C652.0,177.6 654.4,178.4 657.4,178.8 C660.4,179.2 663.8,179.4 666.4,179.6 C669.0,179.8 670.6,180.1 672.7,179.8 C674.8,179.5 678.0,178.1 679.0,177.8 M540.1,180.5 C541.5,180.4 545.9,180.0 548.7,179.4 C551.6,178.8 553.7,177.4 557.3,177.1 C560.9,176.9 566.1,177.7 570.5,178.1 C574.8,178.4 579.5,178.9 583.5,179.4 C587.5,179.9 590.8,181.0 594.5,181.0 C598.1,180.9 602.1,179.9 605.4,179.3 C608.7,178.7 611.5,177.8 614.5,177.6 C617.5,177.3 619.9,177.4 623.5,177.8 C627.1,178.1 631.8,179.4 636.0,179.8 C640.1,180.2 644.8,180.2 648.4,180.0 C652.0,179.9 654.4,179.1 657.4,178.8 C660.4,178.4 663.8,177.9 666.4,178.0 C669.0,178.0 670.6,178.7 672.7,178.9 C674.8,179.1 678.0,179.2 679.0,179.3 M540.1,180.8 C541.5,180.7 545.9,180.5 548.7,180.2 C551.6,179.9 553.7,179.2 557.3,179.0 C560.9,178.8 566.1,178.8 570.5,178.8 C574.8,178.8 579.5,178.9 583.5,179.1 C587.5,179.3 590.8,179.9 594.5,180.0 C598.1,180.2 602.1,180.0 605.4,180.1 C608.7,180.2 611.5,180.5 614.5,180.5 C617.5,180.5 619.9,180.4 623.5,180.1 C627.1,179.8 631.8,179.1 636.0,178.8 C640.1,178.5 644.8,178.4 648.4,178.4 C652.0,178.3 654.4,178.4 657.4,178.6 C660.4,178.8 663.8,179.2 666.4,179.6 C669.0,180.0 670.6,180.8 672.7,181.0 C674.8,181.1 678.0,180.7 679.0,180.6 M540.1,182.6 C541.5,182.5 545.9,181.8 548.7,181.8 C551.6,181.8 553.7,182.7 557.3,182.5 C560.9,182.3 566.1,181.0 570.5,180.6 C574.8,180.2 579.5,180.1 583.5,180.1 C587.5,180.2 590.8,180.6 594.5,181.0 C598.1,181.3 602.1,182.0 605.4,182.3 C608.7,182.6 611.5,183.0 614.5,183.0 C617.5,183.0 619.9,182.4 623.5,182.2 C627.1,182.0 631.8,181.9 636.0,181.6 C640.1,181.2 644.8,180.2 648.4,180.0 C652.0,179.9 654.4,180.2 657.4,180.5 C660.4,180.9 663.8,181.9 666.4,182.2 C669.0,182.5 670.6,182.3 672.7,182.4 C674.8,182.5 678.0,182.9 679.0,183.0 M540.1,182.6 C541.5,182.9 545.9,183.8 548.7,184.3 C551.6,184.7 553.7,185.3 557.3,185.4 C560.9,185.5 566.1,185.2 570.5,185.1 C574.8,185.0 579.5,185.0 583.5,184.7 C587.5,184.4 590.8,183.6 594.5,183.2 C598.1,182.9 602.1,183.0 605.4,182.6 C608.7,182.2 611.5,181.0 614.5,180.8 C617.5,180.7 619.9,181.6 623.5,181.8 C627.1,182.0 631.8,181.8 636.0,182.1 C640.1,182.3 644.8,182.9 648.4,183.3 C652.0,183.7 654.4,184.3 657.4,184.6 C660.4,184.8 663.8,184.8 666.4,184.9 C669.0,184.9 670.6,185.0 672.7,184.9 C674.8,184.7 678.0,184.2 679.0,184.0 M540.1,184.7 C541.5,184.5 545.9,183.6 548.7,183.6 C551.6,183.7 553.7,184.5 557.3,184.8 C560.9,185.1 566.1,185.4 570.5,185.5 C574.8,185.6 579.5,185.9 583.5,185.5 C587.5,185.1 590.8,183.2 594.5,183.0 C598.1,182.8 602.1,184.0 605.4,184.5 C608.7,184.9 611.5,185.6 614.5,185.9 C617.5,186.2 619.9,186.5 623.5,186.2 C627.1,185.9 631.8,184.5 636.0,184.0 C640.1,183.6 644.8,183.2 648.4,183.4 C652.0,183.7 654.4,185.1 657.4,185.5 C660.4,185.9 663.8,186.0 666.4,185.9 C669.0,185.8 670.6,185.0 672.7,184.7 C674.8,184.3 678.0,183.8 679.0,183.6 M540.1,187.8 C541.5,187.7 545.9,187.6 548.7,187.3 C551.6,187.1 553.7,186.6 557.3,186.0 C560.9,185.4 566.1,183.9 570.5,183.7 C574.8,183.6 579.5,184.5 583.5,185.1 C587.5,185.7 590.8,187.0 594.5,187.5 C598.1,187.9 602.1,187.7 605.4,187.8 C608.7,187.8 611.5,188.2 614.5,187.8 C617.5,187.3 619.9,186.0 623.5,185.3 C627.1,184.6 631.8,183.6 636.0,183.6 C640.1,183.7 644.8,184.9 648.4,185.6 C652.0,186.2 654.4,187.2 657.4,187.6 C660.4,187.9 663.8,187.9 666.4,187.8 C669.0,187.6 670.6,187.4 672.7,186.8 C674.8,186.3 678.0,184.9 679.0,184.6 M540.1,173.1 C541.5,173.1 545.9,173.0 548.7,173.0 C551.6,173.0 553.7,173.2 557.3,173.2 C560.9,173.2 566.1,173.2 570.5,173.1 C574.8,173.1 579.5,173.0 583.5,173.0 C587.5,173.0 590.8,173.1 594.5,173.1 C598.1,173.1 602.1,172.9 605.4,172.9 C608.7,172.9 611.5,173.0 614.5,173.1 C617.5,173.2 619.9,173.3 623.5,173.3 C627.1,173.3 631.8,173.2 636.0,173.1 C640.1,173.1 644.8,173.0 648.4,173.0 C652.0,173.0 654.4,173.1 657.4,173.1 C660.4,173.1 663.8,173.1 666.4,173.1 C669.0,173.1 670.6,173.0 672.7,173.0 C674.8,173.0 678.0,173.1 679.0,173.1 M540.1,187.2 C541.5,187.3 545.9,187.3 548.7,187.3 C551.6,187.4 553.7,187.4 557.3,187.8 C560.9,188.1 566.1,188.9 570.5,189.4 C574.8,190.0 579.5,190.9 583.5,191.1 C587.5,191.2 590.8,191.1 594.5,190.4 C598.1,189.8 602.1,187.9 605.4,187.3 C608.7,186.8 611.5,187.0 614.5,186.9 C617.5,186.9 619.9,186.6 623.5,187.0 C627.1,187.4 631.8,188.8 636.0,189.3 C640.1,189.8 644.8,190.4 648.4,190.2 C652.0,190.1 654.4,188.9 657.4,188.3 C660.4,187.7 663.8,186.7 666.4,186.5 C669.0,186.3 670.6,187.1 672.7,187.2 C674.8,187.4 678.0,187.3 679.0,187.3 M540.1,186.7 C541.5,186.8 545.9,187.1 548.7,187.2 C551.6,187.4 553.7,187.5 557.3,187.8 C560.9,188.0 566.1,188.2 570.5,188.6 C574.8,188.9 579.5,189.2 583.5,189.8 C587.5,190.4 590.8,192.4 594.5,192.1 C598.1,191.7 602.1,188.6 605.4,187.8 C608.7,186.9 611.5,187.1 614.5,187.0 C617.5,186.9 619.9,187.3 623.5,187.1 C627.1,187.0 631.8,186.6 636.0,186.2 C640.1,185.9 644.8,185.0 648.4,185.0 C652.0,185.0 654.4,185.9 657.4,186.2 C660.4,186.5 663.8,186.7 666.4,186.7 C669.0,186.8 670.6,186.6 672.7,186.5 C674.8,186.5 678.0,186.4 679.0,186.3" fill="none" stroke="#4a4a4a" stroke-width="0.58"/>
<rect x="540.1" y="132.1" width="138.89999999999998" height="98.0" fill="none" stroke="#a8a8a8" stroke-width="0.95"/>
<line x1="538.6" y1="132.1" x2="540.1" y2="132.1" stroke="#555" stroke-width="0.7"/>
<text x="537.9" y="133.6" font-size="4.3" text-anchor="end" fill="#444" font-family="Liberation Sans">10</text>
<line x1="538.6" y1="141.0" x2="540.1" y2="141.0" stroke="#555" stroke-width="0.7"/>
<text x="537.9" y="142.5" font-size="4.3" text-anchor="end" fill="#444" font-family="Liberation Sans">9</text>
<line x1="538.6" y1="150.2" x2="540.1" y2="150.2" stroke="#555" stroke-width="0.7"/>
<text x="537.9" y="151.7" font-size="4.3" text-anchor="end" fill="#444" font-family="Liberation Sans">8</text>
<line x1="538.6" y1="159.1" x2="540.1" y2="159.1" stroke="#555" stroke-width="0.7"/>
<text x="537.9" y="160.6" font-size="4.3" text-anchor="end" fill="#444" font-family="Liberation Sans">7</text>
<line x1="538.6" y1="172.6" x2="540.1" y2="172.6" stroke="#555" stroke-width="0.7"/>
<text x="537.9" y="174.1" font-size="4.3" text-anchor="end" fill="#444" font-family="Liberation Sans">0</text>
<line x1="538.6" y1="181.7" x2="540.1" y2="181.7" stroke="#555" stroke-width="0.7"/>
<text x="537.9" y="183.2" font-size="4.3" text-anchor="end" fill="#444" font-family="Liberation Sans">−1</text>
<line x1="538.6" y1="190.5" x2="540.1" y2="190.5" stroke="#555" stroke-width="0.7"/>
<text x="537.9" y="192.0" font-size="4.3" text-anchor="end" fill="#444" font-family="Liberation Sans">−2</text>
<line x1="538.6" y1="201.3" x2="540.1" y2="201.3" stroke="#555" stroke-width="0.7"/>
<text x="537.9" y="202.8" font-size="4.3" text-anchor="end" fill="#444" font-family="Liberation Sans">−7.0</text>
<line x1="538.6" y1="211.7" x2="540.1" y2="211.7" stroke="#555" stroke-width="0.7"/>
<text x="537.9" y="213.2" font-size="4.3" text-anchor="end" fill="#444" font-family="Liberation Sans">−7.5</text>
<line x1="538.6" y1="222.3" x2="540.1" y2="222.3" stroke="#555" stroke-width="0.7"/>
<text x="537.9" y="223.8" font-size="4.3" text-anchor="end" fill="#444" font-family="Liberation Sans">−8.0</text>
<path d="M535.7,163.4 L539.7,165.6 M540.3000000000001,163.4 L544.3000000000001,165.6" stroke="#707070" stroke-width="1.1" fill="none"/>
<path d="M674.6,163.4 L678.6,165.6 M679.2,163.4 L683.2,165.6" stroke="#707070" stroke-width="1.1" fill="none"/>
<path d="M535.7,195.9 L539.7,198.1 M540.3000000000001,195.9 L544.3000000000001,198.1" stroke="#707070" stroke-width="1.1" fill="none"/>
<path d="M674.6,195.9 L678.6,198.1 M679.2,195.9 L683.2,198.1" stroke="#707070" stroke-width="1.1" fill="none"/>
<text x="540.1" y="234.2" font-size="4.5" text-anchor="middle" fill="#444" font-family="Liberation Sans">X</text>
<text x="557.3" y="234.2" font-size="4.5" text-anchor="middle" fill="#444" font-family="Liberation Sans">Y</text>
<text x="583.5" y="234.2" font-size="4.5" text-anchor="middle" fill="#444" font-family="Liberation Sans">Z</text>
<text x="604.8" y="234.2" font-size="4.5" text-anchor="middle" fill="#444" font-family="Liberation Sans">Γ</text>
<text x="623.0" y="234.2" font-size="4.5" text-anchor="middle" fill="#444" font-family="Liberation Sans">S</text>
<text x="648.0" y="234.2" font-size="4.5" text-anchor="middle" fill="#444" font-family="Liberation Sans">U</text>
<text x="665.2" y="234.2" font-size="4.5" text-anchor="middle" fill="#444" font-family="Liberation Sans">T</text>
<text x="679.0" y="234.2" font-size="4.5" text-anchor="middle" fill="#444" font-family="Liberation Sans">R</text>
<text x="530.2" y="181.5" font-size="4.85" text-anchor="middle" fill="#333" font-family="Liberation Sans" transform="rotate(-90 530.2 181.5)">Energy (eV)</text>
<text x="583.4" y="129.7" font-size="10.8" fill="#111" font-family="Liberation Serif" transform="translate(0 129.7) scale(1 0.94) translate(0 -129.7)">6.4 GPa</text>
<line x1="640.3" y1="158.6" x2="640.3" y2="170.0" stroke="#5d86d8" stroke-width="0.9"/>
<path d="M638.6999999999999,159.6 L640.3,156.6 L641.9,159.6 Z" fill="#5d86d8"/>
<path d="M638.6999999999999,169.0 L640.3,172.0 L641.9,169.0 Z" fill="#5d86d8"/>
<line x1="592.3" y1="195.4" x2="592.3" y2="206.1" stroke="#4a72c4" stroke-width="1.4"/>
<path d="M590.3,197.0 L592.3,193.4 L594.3,197.0 Z" fill="#4a72c4"/>
<path d="M590.3,204.5 L592.3,208.1 L594.3,204.5 Z" fill="#4a72c4"/>
<text x="624.3" y="163.20000000000002" font-size="6.3" fill="#333" stroke="#333" stroke-width="0.12" font-family="Liberation Sans">Ev-c=7.336 eV</text>
<text x="618.9" y="201.70000000000002" font-size="6.3" fill="#333" stroke="#333" stroke-width="0.12" font-family="Liberation Sans">Ec-v=5.149 eV</text>
<line x1="391.6" y1="252.9" x2="391.6" y2="351.3" stroke="#dcdcdc" stroke-width="0.8"/>
<line x1="416.8" y1="252.9" x2="416.8" y2="351.3" stroke="#dcdcdc" stroke-width="0.8"/>
<line x1="438.7" y1="252.9" x2="438.7" y2="351.3" stroke="#dcdcdc" stroke-width="0.8"/>
<line x1="456.9" y1="252.9" x2="456.9" y2="351.3" stroke="#dcdcdc" stroke-width="0.8"/>
<line x1="481.7" y1="252.9" x2="481.7" y2="351.3" stroke="#dcdcdc" stroke-width="0.8"/>
<line x1="499.7" y1="252.9" x2="499.7" y2="351.3" stroke="#dcdcdc" stroke-width="0.8"/>
<line x1="373.1" y1="276.1" x2="512.3" y2="276.1" stroke="#dcdcdc" stroke-width="0.8"/>
<line x1="373.1" y1="294.1" x2="512.3" y2="294.1" stroke="#dcdcdc" stroke-width="0.8"/>
<line x1="373.1" y1="315.2" x2="512.3" y2="315.2" stroke="#dcdcdc" stroke-width="0.8"/>
<line x1="373.1" y1="327.6" x2="512.3" y2="327.6" stroke="#dcdcdc" stroke-width="0.8"/>
<clipPath id="cb5"><rect x="373.1" y="252.9" width="139.19999999999993" height="98.4"/></clipPath>
<path clip-path="url(#cb5)" d="M373.1,268.9 C374.7,269.5 379.3,272.3 382.4,272.6 C385.5,272.8 389.0,271.1 391.6,270.5 C394.2,269.8 396.1,269.6 398.2,268.7 C400.3,267.9 402.2,266.4 404.3,265.4 C406.3,264.4 408.2,263.3 410.3,262.5 C412.4,261.8 414.8,261.2 416.8,261.1 C418.8,261.0 420.5,261.1 422.3,262.2 C424.0,263.2 425.6,265.7 427.3,267.5 C428.9,269.3 430.3,271.4 432.2,272.9 C434.1,274.3 436.6,276.1 438.7,276.2 C440.8,276.3 442.9,274.7 444.8,273.5 C446.7,272.3 448.4,270.1 450.4,269.0 C452.4,267.9 455.0,267.2 457.0,266.8 C459.0,266.4 460.4,266.9 462.4,266.6 C464.5,266.4 467.0,265.9 469.3,265.4 C471.7,264.9 474.2,264.2 476.3,263.8 C478.3,263.3 479.3,263.2 481.7,262.6 C484.1,262.1 487.7,261.2 490.7,260.6 C493.7,260.1 497.1,259.1 499.7,259.2 C502.3,259.3 503.9,260.4 506.0,261.1 C508.1,261.8 511.3,262.9 512.3,263.3 M373.1,265.4 C374.7,265.5 379.3,266.4 382.4,266.2 C385.5,266.0 389.0,264.9 391.6,264.2 C394.2,263.5 396.1,262.7 398.2,262.1 C400.3,261.5 401.2,260.9 404.3,260.6 C407.3,260.4 413.8,260.0 416.8,260.4 C419.8,260.8 420.5,262.0 422.3,263.0 C424.0,264.1 425.6,265.6 427.3,266.8 C428.9,268.1 430.3,269.7 432.2,270.7 C434.1,271.6 436.6,272.5 438.7,272.5 C440.8,272.5 442.9,271.6 444.8,270.7 C446.7,269.7 448.4,268.0 450.4,266.8 C452.4,265.6 455.0,264.1 457.0,263.4 C459.0,262.7 460.4,262.6 462.4,262.4 C464.5,262.1 467.0,261.9 469.3,261.8 C471.7,261.7 474.2,261.5 476.3,261.6 C478.3,261.7 479.3,261.8 481.7,262.3 C484.1,262.7 487.7,263.6 490.7,264.5 C493.7,265.3 497.1,267.1 499.7,267.3 C502.3,267.6 503.9,266.4 506.0,265.9 C508.1,265.4 511.3,264.5 512.3,264.3 M373.1,263.4 C374.7,263.1 379.3,261.6 382.4,261.8 C385.5,262.0 389.0,263.7 391.6,264.5 C394.2,265.2 396.1,266.0 398.2,266.4 C400.3,266.7 401.2,266.6 404.3,266.6 C407.3,266.7 413.8,266.9 416.8,266.8 C419.8,266.8 420.5,266.6 422.3,266.6 C424.0,266.5 425.6,266.2 427.3,266.4 C428.9,266.5 430.3,267.1 432.2,267.3 C434.1,267.6 436.6,267.9 438.7,267.8 C440.8,267.7 442.9,267.3 444.8,266.8 C446.7,266.4 448.4,265.5 450.4,264.9 C452.4,264.4 455.0,264.0 457.0,263.7 C459.0,263.4 460.4,263.3 462.4,263.0 C464.5,262.7 467.0,262.2 469.3,262.1 C471.7,261.9 474.2,262.0 476.3,262.1 C478.3,262.1 479.3,262.6 481.7,262.3 C484.1,261.9 487.7,260.8 490.7,260.2 C493.7,259.5 497.1,258.5 499.7,258.2 C502.3,258.0 503.9,258.4 506.0,258.5 C508.1,258.7 511.3,259.1 512.3,259.2 M373.1,262.2 C374.7,262.5 379.3,263.2 382.4,264.0 C385.5,264.7 389.0,266.5 391.6,266.7 C394.2,267.0 396.1,265.6 398.2,265.4 C400.3,265.2 402.2,266.2 404.3,265.8 C406.3,265.4 408.2,263.9 410.3,263.0 C412.4,262.2 414.8,261.1 416.8,260.6 C418.8,260.2 420.5,260.2 422.3,260.2 C424.0,260.1 425.6,260.0 427.3,260.2 C428.9,260.3 430.3,260.7 432.2,261.1 C434.1,261.5 436.1,262.2 438.7,262.5 C441.3,262.9 444.8,263.4 447.9,263.0 C450.9,262.7 454.6,261.2 457.0,260.4 C459.4,259.7 460.4,259.2 462.4,258.7 C464.5,258.2 467.0,257.7 469.3,257.3 C471.7,256.9 474.2,256.5 476.3,256.3 C478.3,256.2 479.3,256.2 481.7,256.2 C484.1,256.3 487.7,256.3 490.7,256.6 C493.7,257.0 497.1,258.0 499.7,258.2 C502.3,258.5 503.9,258.1 506.0,258.2 C508.1,258.4 511.3,259.0 512.3,259.2 M373.1,254.9 C374.7,255.7 379.3,258.4 382.4,260.0 C385.5,261.5 389.0,263.6 391.6,264.2 C394.2,264.8 396.1,263.8 398.2,263.5 C400.3,263.2 401.2,263.2 404.3,262.5 C407.3,261.9 413.0,259.9 416.8,259.4 C420.6,258.9 423.6,259.4 427.3,259.7 C430.9,260.0 435.3,261.0 438.7,261.1 C442.1,261.3 444.8,260.7 447.9,260.6 C450.9,260.5 454.6,260.5 457.0,260.4 C459.4,260.4 460.4,260.4 462.4,260.4 C464.5,260.5 467.0,260.6 469.3,260.8 C471.7,261.0 474.2,261.2 476.3,261.6 C478.3,262.0 479.3,263.1 481.7,263.3 C484.1,263.5 487.7,262.7 490.7,262.5 C493.7,262.4 497.1,262.2 499.7,262.3 C502.3,262.3 503.9,262.8 506.0,263.0 C508.1,263.2 511.3,263.3 512.3,263.3 M373.1,257.7 C374.7,257.5 379.3,256.9 382.4,256.8 C385.5,256.7 388.0,257.0 391.6,257.1 C395.2,257.2 400.1,257.5 404.3,257.6 C408.5,257.7 413.0,257.7 416.8,257.8 C420.6,257.9 423.6,258.1 427.3,258.2 C430.9,258.4 435.3,258.6 438.7,258.7 C442.1,258.9 444.8,258.9 447.9,259.2 C450.9,259.5 454.6,260.4 457.0,260.4 C459.4,260.5 460.4,259.8 462.4,259.5 C464.5,259.2 467.0,258.7 469.3,258.5 C471.7,258.3 474.2,258.2 476.3,258.2 C478.3,258.3 479.3,258.5 481.7,258.7 C484.1,259.0 487.7,259.1 490.7,259.7 C493.7,260.3 497.1,262.0 499.7,262.3 C502.3,262.5 503.9,261.6 506.0,261.1 C508.1,260.6 511.3,259.5 512.3,259.2 M373.1,259.2 C374.7,258.9 379.3,257.6 382.4,257.3 C385.5,256.9 388.0,257.3 391.6,257.1 C395.2,256.9 400.1,256.1 404.3,256.1 C408.5,256.1 413.0,257.2 416.8,257.1 C420.6,257.0 423.6,255.6 427.3,255.6 C430.9,255.6 435.3,257.0 438.7,257.1 C442.1,257.2 444.8,256.4 447.9,256.0 C450.9,255.5 454.6,254.7 457.0,254.4 C459.4,254.1 460.4,254.2 462.4,254.1 C464.5,254.1 467.0,254.2 469.3,254.2 C471.7,254.3 474.2,254.3 476.3,254.4 C478.3,254.5 479.3,254.8 481.7,254.8 C484.1,254.9 487.7,254.7 490.7,254.7 C493.7,254.8 497.1,255.0 499.7,255.2 C502.3,255.4 503.9,255.5 506.0,255.7 C508.1,255.8 511.3,256.1 512.3,256.2 M373.1,254.1 C376.2,254.5 386.4,255.6 391.6,256.2 C396.8,256.9 400.1,257.8 404.3,258.2 C408.5,258.7 413.0,259.2 416.8,259.2 C420.6,259.2 423.6,258.6 427.3,258.2 C430.9,257.9 435.3,257.2 438.7,257.2 C442.1,257.2 444.8,258.1 447.9,258.2 C450.9,258.4 454.6,258.4 457.0,258.2 C459.4,258.1 460.4,257.6 462.4,257.3 C464.5,257.0 467.0,256.6 469.3,256.3 C471.7,256.1 474.2,255.9 476.3,255.9 C478.3,255.8 479.3,256.0 481.7,256.2 C484.1,256.5 487.7,257.5 490.7,257.3 C493.7,257.1 497.1,255.5 499.7,255.2 C502.3,254.9 503.9,255.2 506.0,255.4 C508.1,255.6 511.3,256.1 512.3,256.2 M373.1,259.9 C374.7,259.6 379.3,258.4 382.4,258.2 C385.5,258.1 388.0,258.6 391.6,259.2 C395.2,259.8 400.1,261.9 404.3,262.1 C408.5,262.2 413.0,260.4 416.8,260.3 C420.6,260.1 423.6,261.0 427.3,261.1 C430.9,261.3 435.3,261.4 438.7,261.2 C442.1,261.0 444.8,260.9 447.9,260.2 C450.9,259.4 454.6,257.2 457.0,256.5 C459.4,255.8 460.4,256.1 462.4,255.9 C464.5,255.7 467.0,255.5 469.3,255.4 C471.7,255.3 474.2,255.2 476.3,255.1 C478.3,255.0 479.3,254.8 481.7,254.8 C484.1,254.9 487.7,255.0 490.7,255.4 C493.7,255.7 497.1,256.6 499.7,256.8 C502.3,257.0 503.9,256.7 506.0,256.6 C508.1,256.5 511.3,256.3 512.3,256.2 M373.1,331.1 C374.7,331.0 379.3,330.4 382.4,330.4 C385.5,330.4 388.0,331.7 391.6,331.1 C395.2,330.5 400.1,326.4 404.3,327.0 C408.5,327.7 412.9,334.9 416.8,334.9 C420.7,334.9 424.1,327.6 427.8,327.0 C431.4,326.5 435.3,330.8 438.7,331.5 C442.1,332.2 444.8,330.5 447.9,331.1 C450.9,331.7 453.3,334.6 456.9,335.0 C460.5,335.4 465.2,332.9 469.3,333.4 C473.5,333.9 478.1,338.3 481.7,338.1 C485.3,338.0 487.7,333.5 490.7,332.6 C493.7,331.7 497.1,332.3 499.7,332.6 C502.3,332.9 503.9,333.2 506.0,334.2 C508.1,335.3 511.3,338.2 512.3,338.9 M373.1,332.6 C374.7,332.6 379.3,333.1 382.4,332.9 C385.5,332.6 388.0,331.4 391.6,331.1 C395.2,330.8 400.1,330.5 404.3,331.1 C408.5,331.7 412.9,334.6 416.8,334.9 C420.7,335.1 424.1,332.8 427.8,332.6 C431.4,332.3 435.3,333.4 438.7,333.4 C442.1,333.4 444.8,332.3 447.9,332.6 C450.9,332.9 453.3,334.6 456.9,335.4 C460.5,336.2 465.2,336.9 469.3,337.3 C473.5,337.8 478.1,338.5 481.7,338.1 C485.3,337.7 487.7,335.5 490.7,335.0 C493.7,334.5 497.1,334.8 499.7,335.0 C502.3,335.2 503.9,335.6 506.0,336.2 C508.1,336.9 511.3,338.5 512.3,338.9 M373.1,334.1 C374.7,334.2 379.3,335.0 382.4,334.9 C385.5,334.8 388.0,333.5 391.6,333.4 C395.2,333.3 400.1,333.6 404.3,334.1 C408.5,334.6 412.9,336.1 416.8,336.2 C420.7,336.4 424.1,335.0 427.8,334.9 C431.4,334.7 435.3,335.3 438.7,335.3 C442.1,335.3 444.8,334.9 447.9,335.0 C450.9,335.1 453.3,335.0 456.9,335.8 C460.5,336.6 465.2,339.1 469.3,339.8 C473.5,340.4 478.1,339.3 481.7,339.8 C485.3,340.2 487.7,341.3 490.7,342.2 C493.7,343.1 497.1,345.4 499.7,345.3 C502.3,345.2 503.9,342.6 506.0,341.6 C508.1,340.7 511.3,340.1 512.3,339.8 M373.1,338.5 C374.7,338.3 379.3,336.9 382.4,337.1 C385.5,337.2 388.0,339.3 391.6,339.2 C395.2,339.1 400.1,335.7 404.3,336.2 C408.5,336.7 412.9,341.9 416.8,342.2 C420.7,342.4 424.1,338.1 427.8,337.7 C431.4,337.3 435.3,339.8 438.7,339.9 C442.1,340.0 444.8,338.4 447.9,338.1 C450.9,337.8 453.3,337.5 456.9,338.1 C460.5,338.8 465.2,341.6 469.3,342.2 C473.5,342.7 478.1,341.0 481.7,341.4 C485.3,341.8 487.7,343.8 490.7,344.5 C493.7,345.1 497.1,345.1 499.7,345.3 C502.3,345.5 503.9,346.0 506.0,345.7 C508.1,345.4 511.3,344.0 512.3,343.7 M373.1,340.0 C374.7,339.9 379.3,338.9 382.4,339.2 C385.5,339.6 388.0,341.9 391.6,342.2 C395.2,342.4 400.1,339.8 404.3,340.7 C408.5,341.6 412.9,347.7 416.8,347.4 C420.7,347.2 424.1,340.1 427.8,339.2 C431.4,338.3 435.3,341.9 438.7,342.2 C442.1,342.5 444.8,341.2 447.9,341.0 C450.9,340.8 453.3,340.2 456.9,341.0 C460.5,341.7 465.2,345.2 469.3,345.3 C473.5,345.4 478.1,340.9 481.7,341.4 C485.3,341.9 487.7,346.9 490.7,348.4 C493.7,349.8 497.1,350.0 499.7,350.0 C502.3,350.0 503.9,349.0 506.0,348.4 C508.1,347.7 511.3,346.5 512.3,346.1 M373.1,341.5 C374.7,341.5 379.3,341.1 382.4,341.5 C385.5,341.9 388.0,343.1 391.6,343.7 C395.2,344.3 400.1,344.5 404.3,345.1 C408.5,345.8 412.9,347.7 416.8,347.4 C420.7,347.2 424.1,344.2 427.8,343.7 C431.4,343.1 435.3,344.1 438.7,344.1 C442.1,344.1 444.8,343.7 447.9,343.7 C450.9,343.6 453.3,343.0 456.9,343.7 C460.5,344.3 465.2,345.9 469.3,347.7 C473.5,349.6 478.1,353.8 481.7,354.7 C485.3,355.6 487.7,353.4 490.7,353.1 C493.7,352.8 497.1,353.5 499.7,353.1 C502.3,352.8 503.9,351.1 506.0,351.1 C508.1,351.1 511.3,352.8 512.3,353.1 M373.1,344.5 C374.7,344.3 379.3,342.9 382.4,343.7 C385.5,344.4 388.0,348.1 391.6,348.9 C395.2,349.7 400.1,347.9 404.3,348.4 C408.5,348.9 412.9,351.9 416.8,351.8 C420.7,351.6 424.1,348.1 427.8,347.4 C431.4,346.8 435.3,348.1 438.7,347.9 C442.1,347.6 444.8,346.7 447.9,346.1 C450.9,345.5 453.3,343.7 456.9,344.5 C460.5,345.3 465.2,349.1 469.3,350.8 C473.5,352.5 478.1,354.0 481.7,354.7 C485.3,355.5 487.7,355.4 490.7,355.1 C493.7,354.9 497.1,353.3 499.7,353.1 C502.3,352.9 503.9,353.8 506.0,353.8 C508.1,353.8 511.3,353.2 512.3,353.1 M373.1,345.0 C374.7,345.2 379.3,345.3 382.4,346.0 C385.5,346.6 388.0,348.1 391.6,348.9 C395.2,349.8 400.1,349.5 404.3,351.1 C408.5,352.7 412.9,358.3 416.8,358.5 C420.7,358.8 424.1,354.4 427.8,352.6 C431.4,350.8 435.3,348.5 438.7,347.9 C442.1,347.2 444.8,348.2 447.9,348.4 C450.9,348.6 453.3,348.4 456.9,349.1 C460.5,349.7 465.2,351.2 469.3,352.3 C473.5,353.4 478.1,354.9 481.7,355.5 C485.3,356.2 487.7,356.1 490.7,356.4 C493.7,356.6 497.1,357.3 499.7,357.0 C502.3,356.7 503.9,355.1 506.0,354.5 C508.1,353.8 511.3,353.3 512.3,353.1" fill="none" stroke="#646464" stroke-width="0.6"/>
<path clip-path="url(#cb5)" d="M373.1,295.9 C374.7,295.7 379.3,295.2 382.4,295.1 C385.5,295.0 388.0,295.1 391.6,295.2 C395.2,295.3 400.1,295.3 404.3,295.4 C408.5,295.5 412.9,295.6 416.8,295.6 C420.7,295.7 424.1,295.4 427.8,295.5 C431.4,295.6 435.3,296.3 438.7,296.2 C442.1,296.1 444.8,295.3 447.9,295.1 C450.9,294.9 453.3,294.8 456.9,295.0 C460.5,295.1 465.2,295.9 469.3,296.0 C473.5,296.0 478.1,295.2 481.7,295.1 C485.3,295.0 487.7,295.3 490.7,295.3 C493.7,295.3 497.1,294.9 499.7,295.0 C502.3,295.1 503.9,295.8 506.0,296.0 C508.1,296.1 511.3,295.9 512.3,295.9 M373.1,298.2 C374.7,298.0 379.3,297.5 382.4,297.1 C385.5,296.6 388.0,296.0 391.6,295.6 C395.2,295.3 400.1,294.9 404.3,294.8 C408.5,294.6 412.9,294.8 416.8,294.9 C420.7,295.0 424.1,295.3 427.8,295.3 C431.4,295.4 435.3,295.0 438.7,295.2 C442.1,295.4 444.8,295.9 447.9,296.3 C450.9,296.7 453.3,297.6 456.9,297.7 C460.5,297.9 465.2,297.3 469.3,297.2 C473.5,297.0 478.1,297.0 481.7,297.0 C485.3,296.9 487.7,296.9 490.7,296.6 C493.7,296.4 497.1,295.7 499.7,295.4 C502.3,295.1 503.9,295.1 506.0,295.0 C508.1,294.9 511.3,294.9 512.3,294.9 M373.1,295.0 C374.7,295.1 379.3,295.2 382.4,295.5 C385.5,295.9 388.0,296.7 391.6,297.1 C395.2,297.5 400.1,297.7 404.3,297.8 C408.5,298.0 412.9,298.0 416.8,297.9 C420.7,297.9 424.1,297.9 427.8,297.6 C431.4,297.3 435.3,296.5 438.7,296.2 C442.1,295.9 444.8,295.9 447.9,295.7 C450.9,295.6 453.3,295.4 456.9,295.5 C460.5,295.7 465.2,296.1 469.3,296.5 C473.5,297.0 478.1,298.0 481.7,298.3 C485.3,298.6 487.7,298.5 490.7,298.4 C493.7,298.3 497.1,297.8 499.7,297.5 C502.3,297.2 503.9,297.1 506.0,296.7 C508.1,296.4 511.3,295.7 512.3,295.5 M373.1,296.0 C374.7,296.1 379.3,296.6 382.4,296.7 C385.5,296.9 388.0,297.0 391.6,297.1 C395.2,297.2 400.1,297.0 404.3,297.3 C408.5,297.6 412.9,298.6 416.8,298.7 C420.7,298.8 424.1,298.1 427.8,297.9 C431.4,297.7 435.3,297.9 438.7,297.5 C442.1,297.1 444.8,295.7 447.9,295.5 C450.9,295.3 453.3,295.9 456.9,296.3 C460.5,296.7 465.2,297.7 469.3,298.2 C473.5,298.6 478.1,299.3 481.7,299.2 C485.3,299.0 487.7,297.9 490.7,297.5 C493.7,297.2 497.1,297.2 499.7,297.1 C502.3,296.9 503.9,296.7 506.0,296.6 C508.1,296.5 511.3,296.4 512.3,296.4 M373.1,298.6 C374.7,298.9 379.3,300.1 382.4,300.3 C385.5,300.4 388.0,299.7 391.6,299.4 C395.2,299.0 400.1,298.7 404.3,298.3 C408.5,297.8 412.9,296.8 416.8,296.7 C420.7,296.7 424.1,297.6 427.8,297.8 C431.4,298.0 435.3,297.8 438.7,297.9 C442.1,298.1 444.8,298.6 447.9,298.9 C450.9,299.3 453.3,299.9 456.9,300.0 C460.5,300.2 465.2,300.1 469.3,299.8 C473.5,299.6 478.1,299.0 481.7,298.6 C485.3,298.2 487.7,297.8 490.7,297.5 C493.7,297.2 497.1,296.8 499.7,296.8 C502.3,296.9 503.9,297.7 506.0,297.8 C508.1,297.9 511.3,297.6 512.3,297.5 M373.1,298.1 C374.7,297.9 379.3,297.3 382.4,297.4 C385.5,297.5 388.0,298.3 391.6,298.8 C395.2,299.4 400.1,300.5 404.3,300.8 C408.5,301.1 412.9,301.0 416.8,300.7 C420.7,300.4 424.1,299.3 427.8,298.8 C431.4,298.3 435.3,297.8 438.7,297.7 C442.1,297.7 444.8,298.0 447.9,298.5 C450.9,299.0 453.3,300.1 456.9,300.5 C460.5,300.8 465.2,300.7 469.3,300.6 C473.5,300.5 478.1,300.2 481.7,299.7 C485.3,299.2 487.7,297.7 490.7,297.4 C493.7,297.1 497.1,297.6 499.7,297.9 C502.3,298.3 503.9,299.0 506.0,299.5 C508.1,300.0 511.3,300.8 512.3,301.0 M373.1,301.8 C374.7,301.3 379.3,299.6 382.4,299.0 C385.5,298.5 388.0,298.8 391.6,298.7 C395.2,298.6 400.1,298.4 404.3,298.6 C408.5,298.8 412.9,299.8 416.8,300.0 C420.7,300.3 424.1,299.7 427.8,300.0 C431.4,300.3 435.3,301.6 438.7,301.8 C442.1,301.9 444.8,301.4 447.9,300.9 C450.9,300.4 453.3,299.2 456.9,298.7 C460.5,298.3 465.2,298.2 469.3,298.3 C473.5,298.3 478.1,298.6 481.7,299.0 C485.3,299.4 487.7,300.3 490.7,300.7 C493.7,301.1 497.1,301.4 499.7,301.6 C502.3,301.8 503.9,302.1 506.0,301.8 C508.1,301.5 511.3,300.0 512.3,299.6 M373.1,302.6 C374.7,302.4 379.3,302.0 382.4,301.4 C385.5,300.7 388.0,299.2 391.6,298.9 C395.2,298.7 400.1,299.5 404.3,299.9 C408.5,300.3 412.9,300.8 416.8,301.4 C420.7,301.9 424.1,303.0 427.8,303.0 C431.4,303.0 435.3,301.8 438.7,301.2 C442.1,300.6 444.8,299.6 447.9,299.4 C450.9,299.1 453.3,299.2 456.9,299.6 C460.5,300.0 465.2,301.4 469.3,301.8 C473.5,302.2 478.1,302.2 481.7,302.0 C485.3,301.8 487.7,301.1 490.7,300.7 C493.7,300.3 497.1,299.8 499.7,299.8 C502.3,299.8 503.9,300.6 506.0,300.8 C508.1,301.0 511.3,301.2 512.3,301.2 M373.1,302.9 C374.7,302.8 379.3,302.6 382.4,302.2 C385.5,301.9 388.0,301.2 391.6,300.9 C395.2,300.7 400.1,300.7 404.3,300.7 C408.5,300.7 412.9,300.8 416.8,301.0 C420.7,301.2 424.1,301.8 427.8,302.0 C431.4,302.2 435.3,302.0 438.7,302.1 C442.1,302.2 444.8,302.6 447.9,302.6 C450.9,302.6 453.3,302.4 456.9,302.1 C460.5,301.8 465.2,301.0 469.3,300.7 C473.5,300.4 478.1,300.3 481.7,300.3 C485.3,300.2 487.7,300.3 490.7,300.5 C493.7,300.7 497.1,301.2 499.7,301.6 C502.3,302.0 503.9,302.8 506.0,303.0 C508.1,303.2 511.3,302.7 512.3,302.7 M373.1,304.8 C374.7,304.6 379.3,303.9 382.4,303.9 C385.5,303.9 388.0,304.9 391.6,304.6 C395.2,304.4 400.1,303.1 404.3,302.7 C408.5,302.3 412.9,302.1 416.8,302.1 C420.7,302.2 424.1,302.6 427.8,303.0 C431.4,303.4 435.3,304.1 438.7,304.4 C442.1,304.8 444.8,305.2 447.9,305.2 C450.9,305.2 453.3,304.6 456.9,304.3 C460.5,304.1 465.2,304.0 469.3,303.7 C473.5,303.3 478.1,302.2 481.7,302.0 C485.3,301.8 487.7,302.2 490.7,302.6 C493.7,302.9 497.1,304.0 499.7,304.3 C502.3,304.6 503.9,304.4 506.0,304.5 C508.1,304.7 511.3,305.1 512.3,305.2 M373.1,304.8 C374.7,305.1 379.3,306.0 382.4,306.5 C385.5,307.0 388.0,307.6 391.6,307.7 C395.2,307.9 400.1,307.5 404.3,307.4 C408.5,307.3 412.9,307.3 416.8,307.0 C420.7,306.6 424.1,305.8 427.8,305.4 C431.4,305.1 435.3,305.2 438.7,304.8 C442.1,304.3 444.8,303.0 447.9,302.9 C450.9,302.7 453.3,303.7 456.9,303.9 C460.5,304.1 465.2,303.9 469.3,304.2 C473.5,304.5 478.1,305.1 481.7,305.5 C485.3,306.0 487.7,306.6 490.7,306.8 C493.7,307.1 497.1,307.1 499.7,307.2 C502.3,307.2 503.9,307.3 506.0,307.2 C508.1,307.0 511.3,306.4 512.3,306.3 M373.1,307.0 C374.7,306.8 379.3,305.8 382.4,305.9 C385.5,305.9 388.0,306.7 391.6,307.1 C395.2,307.4 400.1,307.7 404.3,307.8 C408.5,308.0 412.9,308.3 416.8,307.8 C420.7,307.4 424.1,305.4 427.8,305.2 C431.4,305.0 435.3,306.2 438.7,306.7 C442.1,307.3 444.8,308.0 447.9,308.3 C450.9,308.6 453.3,308.9 456.9,308.6 C460.5,308.3 465.2,306.8 469.3,306.3 C473.5,305.8 478.1,305.4 481.7,305.6 C485.3,305.9 487.7,307.4 490.7,307.8 C493.7,308.3 497.1,308.4 499.7,308.3 C502.3,308.1 503.9,307.4 506.0,307.0 C508.1,306.6 511.3,306.0 512.3,305.9 M373.1,310.3 C374.7,310.2 379.3,310.1 382.4,309.8 C385.5,309.5 388.0,309.0 391.6,308.4 C395.2,307.7 400.1,306.1 404.3,306.0 C408.5,305.8 412.9,306.7 416.8,307.4 C420.7,308.1 424.1,309.4 427.8,309.9 C431.4,310.4 435.3,310.2 438.7,310.3 C442.1,310.3 444.8,310.7 447.9,310.3 C450.9,309.8 453.3,308.3 456.9,307.6 C460.5,306.9 465.2,305.8 469.3,305.9 C473.5,305.9 478.1,307.3 481.7,307.9 C485.3,308.6 487.7,309.7 490.7,310.0 C493.7,310.4 497.1,310.4 499.7,310.3 C502.3,310.1 503.9,309.8 506.0,309.3 C508.1,308.7 511.3,307.3 512.3,306.8 M373.1,294.6 C374.7,294.6 379.3,294.5 382.4,294.5 C385.5,294.6 388.0,294.7 391.6,294.8 C395.2,294.8 400.1,294.7 404.3,294.6 C408.5,294.6 412.9,294.5 416.8,294.5 C420.7,294.5 424.1,294.7 427.8,294.6 C431.4,294.6 435.3,294.4 438.7,294.4 C442.1,294.4 444.8,294.6 447.9,294.6 C450.9,294.7 453.3,294.9 456.9,294.9 C460.5,294.9 465.2,294.7 469.3,294.6 C473.5,294.6 478.1,294.5 481.7,294.5 C485.3,294.5 487.7,294.6 490.7,294.6 C493.7,294.7 497.1,294.7 499.7,294.6 C502.3,294.6 503.9,294.5 506.0,294.5 C508.1,294.5 511.3,294.6 512.3,294.6 M373.1,309.7 C374.7,309.7 379.3,309.7 382.4,309.8 C385.5,309.9 388.0,309.9 391.6,310.3 C395.2,310.6 400.1,311.4 404.3,312.0 C408.5,312.6 412.9,313.6 416.8,313.8 C420.7,314.0 424.1,313.8 427.8,313.1 C431.4,312.5 435.3,310.4 438.7,309.8 C442.1,309.2 444.8,309.4 447.9,309.4 C450.9,309.3 453.3,309.1 456.9,309.5 C460.5,309.9 465.2,311.3 469.3,311.9 C473.5,312.5 478.1,313.1 481.7,312.9 C485.3,312.7 487.7,311.5 490.7,310.8 C493.7,310.1 497.1,309.1 499.7,308.9 C502.3,308.8 503.9,309.6 506.0,309.7 C508.1,309.9 511.3,309.8 512.3,309.8 M373.1,309.2 C374.7,309.2 379.3,309.5 382.4,309.7 C385.5,309.9 388.0,310.0 391.6,310.3 C395.2,310.5 400.1,310.8 404.3,311.1 C408.5,311.5 412.9,311.8 416.8,312.5 C420.7,313.1 424.1,315.2 427.8,314.9 C431.4,314.5 435.3,311.2 438.7,310.3 C442.1,309.4 444.8,309.6 447.9,309.5 C450.9,309.4 453.3,309.7 456.9,309.6 C460.5,309.4 465.2,309.0 469.3,308.6 C473.5,308.2 478.1,307.3 481.7,307.3 C485.3,307.3 487.7,308.3 490.7,308.6 C493.7,308.9 497.1,309.1 499.7,309.2 C502.3,309.2 503.9,309.0 506.0,308.9 C508.1,308.9 511.3,308.8 512.3,308.7" fill="none" stroke="#4a4a4a" stroke-width="0.58"/>
<rect x="373.1" y="252.9" width="139.19999999999993" height="98.4" fill="none" stroke="#a8a8a8" stroke-width="0.95"/>
<line x1="371.6" y1="252.9" x2="373.1" y2="252.9" stroke="#555" stroke-width="0.7"/>
<text x="370.90000000000003" y="254.4" font-size="4.3" text-anchor="end" fill="#444" font-family="Liberation Sans">10</text>
<line x1="371.6" y1="262.2" x2="373.1" y2="262.2" stroke="#555" stroke-width="0.7"/>
<text x="370.90000000000003" y="263.7" font-size="4.3" text-anchor="end" fill="#444" font-family="Liberation Sans">9</text>
<line x1="371.6" y1="271.4" x2="373.1" y2="271.4" stroke="#555" stroke-width="0.7"/>
<text x="370.90000000000003" y="272.9" font-size="4.3" text-anchor="end" fill="#444" font-family="Liberation Sans">8</text>
<line x1="371.6" y1="280.6" x2="373.1" y2="280.6" stroke="#555" stroke-width="0.7"/>
<text x="370.90000000000003" y="282.1" font-size="4.3" text-anchor="end" fill="#444" font-family="Liberation Sans">7</text>
<line x1="371.6" y1="294.1" x2="373.1" y2="294.1" stroke="#555" stroke-width="0.7"/>
<text x="370.90000000000003" y="295.6" font-size="4.3" text-anchor="end" fill="#444" font-family="Liberation Sans">0</text>
<line x1="371.6" y1="302.7" x2="373.1" y2="302.7" stroke="#555" stroke-width="0.7"/>
<text x="370.90000000000003" y="304.2" font-size="4.3" text-anchor="end" fill="#444" font-family="Liberation Sans">−1</text>
<line x1="371.6" y1="311.5" x2="373.1" y2="311.5" stroke="#555" stroke-width="0.7"/>
<text x="370.90000000000003" y="313.0" font-size="4.3" text-anchor="end" fill="#444" font-family="Liberation Sans">−2</text>
<line x1="371.6" y1="322.3" x2="373.1" y2="322.3" stroke="#555" stroke-width="0.7"/>
<text x="370.90000000000003" y="323.8" font-size="4.3" text-anchor="end" fill="#444" font-family="Liberation Sans">−7.0</text>
<line x1="371.6" y1="333.1" x2="373.1" y2="333.1" stroke="#555" stroke-width="0.7"/>
<text x="370.90000000000003" y="334.6" font-size="4.3" text-anchor="end" fill="#444" font-family="Liberation Sans">−7.5</text>
<line x1="371.6" y1="343.5" x2="373.1" y2="343.5" stroke="#555" stroke-width="0.7"/>
<text x="370.90000000000003" y="345.0" font-size="4.3" text-anchor="end" fill="#444" font-family="Liberation Sans">−8.0</text>
<path d="M368.70000000000005,284.59999999999997 L372.70000000000005,286.8 M373.3,284.59999999999997 L377.3,286.8" stroke="#707070" stroke-width="1.1" fill="none"/>
<path d="M507.9,284.59999999999997 L511.9,286.8 M512.5,284.59999999999997 L516.5,286.8" stroke="#707070" stroke-width="1.1" fill="none"/>
<path d="M368.70000000000005,316.9 L372.70000000000005,319.1 M373.3,316.9 L377.3,319.1" stroke="#707070" stroke-width="1.1" fill="none"/>
<path d="M507.9,316.9 L511.9,319.1 M512.5,316.9 L516.5,319.1" stroke="#707070" stroke-width="1.1" fill="none"/>
<text x="373.1" y="355.70000000000005" font-size="4.5" text-anchor="middle" fill="#444" font-family="Liberation Sans">X</text>
<text x="391.6" y="355.70000000000005" font-size="4.5" text-anchor="middle" fill="#444" font-family="Liberation Sans">Y</text>
<text x="416.8" y="355.70000000000005" font-size="4.5" text-anchor="middle" fill="#444" font-family="Liberation Sans">Z</text>
<text x="438.7" y="355.70000000000005" font-size="4.5" text-anchor="middle" fill="#444" font-family="Liberation Sans">Γ</text>
<text x="456.9" y="355.70000000000005" font-size="4.5" text-anchor="middle" fill="#444" font-family="Liberation Sans">S</text>
<text x="481.7" y="355.70000000000005" font-size="4.5" text-anchor="middle" fill="#444" font-family="Liberation Sans">U</text>
<text x="499.7" y="355.70000000000005" font-size="4.5" text-anchor="middle" fill="#444" font-family="Liberation Sans">T</text>
<text x="512.3" y="355.70000000000005" font-size="4.5" text-anchor="middle" fill="#444" font-family="Liberation Sans">R</text>
<text x="363.2" y="302.8" font-size="4.85" text-anchor="middle" fill="#333" font-family="Liberation Sans" transform="rotate(-90 363.2 302.8)">Energy (eV)</text>
<text x="417.6" y="250.0" font-size="10.8" fill="#111" font-family="Liberation Serif" transform="translate(0 250.0) scale(1 0.94) translate(0 -250.0)">7.3 GPa</text>
<line x1="475.7" y1="279.3" x2="475.7" y2="290.9" stroke="#5d86d8" stroke-width="0.9"/>
<path d="M474.09999999999997,280.3 L475.7,277.3 L477.3,280.3 Z" fill="#5d86d8"/>
<path d="M474.09999999999997,289.9 L475.7,292.9 L477.3,289.9 Z" fill="#5d86d8"/>
<line x1="425.2" y1="318.0" x2="425.2" y2="325.6" stroke="#4a72c4" stroke-width="1.4"/>
<path d="M423.2,319.6 L425.2,316.0 L427.2,319.6 Z" fill="#4a72c4"/>
<path d="M423.2,324.0 L425.2,327.6 L427.2,324.0 Z" fill="#4a72c4"/>
<text x="457.9" y="284.4" font-size="6.3" fill="#333" stroke="#333" stroke-width="0.12" font-family="Liberation Sans">Ev-c=7.428 eV</text>
<text x="452.4" y="323.2" font-size="6.3" fill="#333" stroke="#333" stroke-width="0.12" font-family="Liberation Sans">Ec-v=4.848 eV</text>
<line x1="558.6" y1="252.9" x2="558.6" y2="351.3" stroke="#dcdcdc" stroke-width="0.8"/>
<line x1="583.5" y1="252.9" x2="583.5" y2="351.3" stroke="#dcdcdc" stroke-width="0.8"/>
<line x1="606.6" y1="252.9" x2="606.6" y2="351.3" stroke="#dcdcdc" stroke-width="0.8"/>
<line x1="624.4" y1="252.9" x2="624.4" y2="351.3" stroke="#dcdcdc" stroke-width="0.8"/>
<line x1="649.2" y1="252.9" x2="649.2" y2="351.3" stroke="#dcdcdc" stroke-width="0.8"/>
<line x1="667.2" y1="252.9" x2="667.2" y2="351.3" stroke="#dcdcdc" stroke-width="0.8"/>
<line x1="540.5" y1="276.1" x2="679.7" y2="276.1" stroke="#dcdcdc" stroke-width="0.8"/>
<line x1="540.5" y1="294.1" x2="679.7" y2="294.1" stroke="#dcdcdc" stroke-width="0.8"/>
<line x1="540.5" y1="316.5" x2="679.7" y2="316.5" stroke="#dcdcdc" stroke-width="0.8"/>
<line x1="540.5" y1="326.6" x2="679.7" y2="326.6" stroke="#dcdcdc" stroke-width="0.8"/>
<clipPath id="cb6"><rect x="540.5" y="252.9" width="139.20000000000005" height="98.4"/></clipPath>
<path clip-path="url(#cb6)" d="M540.5,268.9 C542.0,269.5 546.6,272.3 549.6,272.6 C552.6,272.8 556.0,271.1 558.6,270.5 C561.2,269.8 563.1,269.6 565.1,268.7 C567.2,267.9 569.1,266.4 571.1,265.4 C573.1,264.4 575.0,263.3 577.1,262.5 C579.1,261.8 581.5,261.2 583.5,261.1 C585.5,261.0 587.4,261.1 589.3,262.2 C591.1,263.2 592.8,265.7 594.5,267.5 C596.3,269.3 597.8,271.4 599.8,272.9 C601.8,274.3 604.5,276.1 606.6,276.2 C608.7,276.3 610.7,274.7 612.6,273.5 C614.5,272.3 616.0,270.1 618.0,269.0 C620.0,267.9 622.5,267.2 624.5,266.8 C626.5,266.4 627.9,266.9 629.9,266.6 C632.0,266.4 634.5,265.9 636.8,265.4 C639.2,264.9 641.7,264.2 643.8,263.8 C645.8,263.3 646.8,263.2 649.2,262.6 C651.6,262.1 655.2,261.2 658.2,260.6 C661.2,260.1 664.7,259.1 667.2,259.2 C669.7,259.3 671.4,260.4 673.5,261.1 C675.6,261.8 678.7,262.9 679.7,263.3 M540.5,265.4 C542.0,265.5 546.6,266.4 549.6,266.2 C552.6,266.0 556.0,264.9 558.6,264.2 C561.2,263.5 563.1,262.7 565.1,262.1 C567.2,261.5 568.0,260.9 571.1,260.6 C574.2,260.4 580.5,260.0 583.5,260.4 C586.5,260.8 587.4,262.0 589.3,263.0 C591.1,264.1 592.8,265.6 594.5,266.8 C596.3,268.1 597.8,269.7 599.8,270.7 C601.8,271.6 604.5,272.5 606.6,272.5 C608.7,272.5 610.7,271.6 612.6,270.7 C614.5,269.7 616.0,268.0 618.0,266.8 C620.0,265.6 622.5,264.1 624.5,263.4 C626.5,262.7 627.9,262.6 629.9,262.4 C632.0,262.1 634.5,261.9 636.8,261.8 C639.2,261.7 641.7,261.5 643.8,261.6 C645.8,261.7 646.8,261.8 649.2,262.3 C651.6,262.7 655.2,263.6 658.2,264.5 C661.2,265.3 664.7,267.1 667.2,267.3 C669.7,267.6 671.4,266.4 673.5,265.9 C675.6,265.4 678.7,264.5 679.7,264.3 M540.5,263.4 C542.0,263.1 546.6,261.6 549.6,261.8 C552.6,262.0 556.0,263.7 558.6,264.5 C561.2,265.2 563.1,266.0 565.1,266.4 C567.2,266.7 568.0,266.6 571.1,266.6 C574.2,266.7 580.5,266.9 583.5,266.8 C586.5,266.8 587.4,266.6 589.3,266.6 C591.1,266.5 592.8,266.2 594.5,266.4 C596.3,266.5 597.8,267.1 599.8,267.3 C601.8,267.6 604.5,267.9 606.6,267.8 C608.7,267.7 610.7,267.3 612.6,266.8 C614.5,266.4 616.0,265.5 618.0,264.9 C620.0,264.4 622.5,264.0 624.5,263.7 C626.5,263.4 627.9,263.3 629.9,263.0 C632.0,262.7 634.5,262.2 636.8,262.1 C639.2,261.9 641.7,262.0 643.8,262.1 C645.8,262.1 646.8,262.6 649.2,262.3 C651.6,261.9 655.2,260.8 658.2,260.2 C661.2,259.5 664.7,258.5 667.2,258.2 C669.7,258.0 671.4,258.4 673.5,258.5 C675.6,258.7 678.7,259.1 679.7,259.2 M540.5,262.2 C542.0,262.5 546.6,263.2 549.6,264.0 C552.6,264.7 556.0,266.5 558.6,266.7 C561.2,267.0 563.1,265.6 565.1,265.4 C567.2,265.2 569.1,266.2 571.1,265.8 C573.1,265.4 575.0,263.9 577.1,263.0 C579.1,262.2 581.5,261.1 583.5,260.6 C585.5,260.2 587.4,260.2 589.3,260.2 C591.1,260.1 592.8,260.0 594.5,260.2 C596.3,260.3 597.8,260.7 599.8,261.1 C601.8,261.5 604.0,262.2 606.6,262.5 C609.2,262.9 612.6,263.4 615.5,263.0 C618.5,262.7 622.1,261.2 624.5,260.4 C626.9,259.7 627.9,259.2 629.9,258.7 C632.0,258.2 634.5,257.7 636.8,257.3 C639.2,256.9 641.7,256.5 643.8,256.3 C645.8,256.2 646.8,256.2 649.2,256.2 C651.6,256.3 655.2,256.3 658.2,256.6 C661.2,257.0 664.7,258.0 667.2,258.2 C669.7,258.5 671.4,258.1 673.5,258.2 C675.6,258.4 678.7,259.0 679.7,259.2 M540.5,254.9 C542.0,255.7 546.6,258.4 549.6,260.0 C552.6,261.5 556.0,263.6 558.6,264.2 C561.2,264.8 563.1,263.8 565.1,263.5 C567.2,263.2 568.0,263.2 571.1,262.5 C574.2,261.9 579.6,259.9 583.5,259.4 C587.4,258.9 590.7,259.4 594.5,259.7 C598.4,260.0 603.1,261.0 606.6,261.1 C610.1,261.3 612.6,260.7 615.5,260.6 C618.5,260.5 622.1,260.5 624.5,260.4 C626.9,260.4 627.9,260.4 629.9,260.4 C632.0,260.5 634.5,260.6 636.8,260.8 C639.2,261.0 641.7,261.2 643.8,261.6 C645.8,262.0 646.8,263.1 649.2,263.3 C651.6,263.5 655.2,262.7 658.2,262.5 C661.2,262.4 664.7,262.2 667.2,262.3 C669.7,262.3 671.4,262.8 673.5,263.0 C675.6,263.2 678.7,263.3 679.7,263.3 M540.5,257.7 C542.0,257.5 546.6,256.9 549.6,256.8 C552.6,256.7 555.0,257.0 558.6,257.1 C562.2,257.2 566.9,257.5 571.1,257.6 C575.2,257.7 579.6,257.7 583.5,257.8 C587.4,257.9 590.7,258.1 594.5,258.2 C598.4,258.4 603.1,258.6 606.6,258.7 C610.1,258.9 612.6,258.9 615.5,259.2 C618.5,259.5 622.1,260.4 624.5,260.4 C626.9,260.5 627.9,259.8 629.9,259.5 C632.0,259.2 634.5,258.7 636.8,258.5 C639.2,258.3 641.7,258.2 643.8,258.2 C645.8,258.3 646.8,258.5 649.2,258.7 C651.6,259.0 655.2,259.1 658.2,259.7 C661.2,260.3 664.7,262.0 667.2,262.3 C669.7,262.5 671.4,261.6 673.5,261.1 C675.6,260.6 678.7,259.5 679.7,259.2 M540.5,259.2 C542.0,258.9 546.6,257.6 549.6,257.3 C552.6,256.9 555.0,257.3 558.6,257.1 C562.2,256.9 566.9,256.1 571.1,256.1 C575.2,256.1 579.6,257.2 583.5,257.1 C587.4,257.0 590.7,255.6 594.5,255.6 C598.4,255.6 603.1,257.0 606.6,257.1 C610.1,257.2 612.6,256.4 615.5,256.0 C618.5,255.5 622.1,254.7 624.5,254.4 C626.9,254.1 627.9,254.2 629.9,254.1 C632.0,254.1 634.5,254.2 636.8,254.2 C639.2,254.3 641.7,254.3 643.8,254.4 C645.8,254.5 646.8,254.8 649.2,254.8 C651.6,254.9 655.2,254.7 658.2,254.7 C661.2,254.8 664.7,255.0 667.2,255.2 C669.7,255.4 671.4,255.5 673.5,255.7 C675.6,255.8 678.7,256.1 679.7,256.2 M540.5,254.1 C543.5,254.5 553.5,255.6 558.6,256.2 C563.7,256.9 566.9,257.8 571.1,258.2 C575.2,258.7 579.6,259.2 583.5,259.2 C587.4,259.2 590.7,258.6 594.5,258.2 C598.4,257.9 603.1,257.2 606.6,257.2 C610.1,257.2 612.6,258.1 615.5,258.2 C618.5,258.4 622.1,258.4 624.5,258.2 C626.9,258.1 627.9,257.6 629.9,257.3 C632.0,257.0 634.5,256.6 636.8,256.3 C639.2,256.1 641.7,255.9 643.8,255.9 C645.8,255.8 646.8,256.0 649.2,256.2 C651.6,256.5 655.2,257.5 658.2,257.3 C661.2,257.1 664.7,255.5 667.2,255.2 C669.7,254.9 671.4,255.2 673.5,255.4 C675.6,255.6 678.7,256.1 679.7,256.2 M540.5,259.9 C542.0,259.6 546.6,258.4 549.6,258.2 C552.6,258.1 555.0,258.6 558.6,259.2 C562.2,259.8 566.9,261.9 571.1,262.1 C575.2,262.2 579.6,260.4 583.5,260.3 C587.4,260.1 590.7,261.0 594.5,261.1 C598.4,261.3 603.1,261.4 606.6,261.2 C610.1,261.0 612.6,260.9 615.5,260.2 C618.5,259.4 622.1,257.2 624.5,256.5 C626.9,255.8 627.9,256.1 629.9,255.9 C632.0,255.7 634.5,255.5 636.8,255.4 C639.2,255.3 641.7,255.2 643.8,255.1 C645.8,255.0 646.8,254.8 649.2,254.8 C651.6,254.9 655.2,255.0 658.2,255.4 C661.2,255.7 664.7,256.6 667.2,256.8 C669.7,257.0 671.4,256.7 673.5,256.6 C675.6,256.5 678.7,256.3 679.7,256.2 M540.5,330.1 C542.0,330.0 546.6,329.4 549.6,329.4 C552.6,329.4 555.0,330.7 558.6,330.1 C562.2,329.6 566.9,325.5 571.1,326.1 C575.2,326.8 579.5,333.9 583.5,333.9 C587.5,333.9 591.2,326.7 595.0,326.1 C598.9,325.6 603.2,329.9 606.6,330.5 C610.0,331.2 612.6,329.5 615.5,330.1 C618.5,330.7 620.9,333.6 624.4,334.0 C627.9,334.4 632.7,331.9 636.8,332.4 C641.0,332.9 645.6,337.3 649.2,337.1 C652.8,337.0 655.2,332.5 658.2,331.6 C661.2,330.7 664.7,331.3 667.2,331.6 C669.7,331.9 671.4,332.2 673.5,333.2 C675.6,334.3 678.7,337.2 679.7,337.9 M540.5,331.6 C542.0,331.6 546.6,332.1 549.6,331.9 C552.6,331.6 555.0,330.4 558.6,330.1 C562.2,329.8 566.9,329.5 571.1,330.1 C575.2,330.7 579.5,333.6 583.5,333.9 C587.5,334.1 591.2,331.8 595.0,331.6 C598.9,331.3 603.2,332.4 606.6,332.4 C610.0,332.4 612.6,331.3 615.5,331.6 C618.5,331.9 620.9,333.6 624.4,334.4 C627.9,335.2 632.7,335.9 636.8,336.3 C641.0,336.8 645.6,337.5 649.2,337.1 C652.8,336.7 655.2,334.5 658.2,334.0 C661.2,333.5 664.7,333.8 667.2,334.0 C669.7,334.2 671.4,334.6 673.5,335.2 C675.6,335.9 678.7,337.5 679.7,337.9 M540.5,333.1 C542.0,333.2 546.6,334.0 549.6,333.9 C552.6,333.8 555.0,332.5 558.6,332.4 C562.2,332.3 566.9,332.6 571.1,333.1 C575.2,333.6 579.5,335.1 583.5,335.2 C587.5,335.4 591.2,334.0 595.0,333.9 C598.9,333.7 603.2,334.3 606.6,334.3 C610.0,334.3 612.6,333.9 615.5,334.0 C618.5,334.1 620.9,334.0 624.4,334.8 C627.9,335.6 632.7,338.1 636.8,338.8 C641.0,339.4 645.6,338.3 649.2,338.8 C652.8,339.2 655.2,340.3 658.2,341.2 C661.2,342.1 664.7,344.4 667.2,344.3 C669.7,344.2 671.4,341.6 673.5,340.6 C675.6,339.7 678.7,339.1 679.7,338.8 M540.5,337.5 C542.0,337.3 546.6,335.9 549.6,336.1 C552.6,336.2 555.0,338.3 558.6,338.2 C562.2,338.1 566.9,334.7 571.1,335.2 C575.2,335.7 579.5,340.9 583.5,341.2 C587.5,341.4 591.2,337.1 595.0,336.7 C598.9,336.3 603.2,338.8 606.6,338.9 C610.0,339.0 612.6,337.4 615.5,337.1 C618.5,336.8 620.9,336.5 624.4,337.1 C627.9,337.8 632.7,340.6 636.8,341.2 C641.0,341.7 645.6,340.0 649.2,340.4 C652.8,340.8 655.2,342.8 658.2,343.5 C661.2,344.1 664.7,344.1 667.2,344.3 C669.7,344.5 671.4,345.0 673.5,344.7 C675.6,344.4 678.7,343.0 679.7,342.7 M540.5,339.0 C542.0,338.9 546.6,337.9 549.6,338.2 C552.6,338.6 555.0,340.9 558.6,341.2 C562.2,341.4 566.9,338.8 571.1,339.7 C575.2,340.6 579.5,346.7 583.5,346.4 C587.5,346.2 591.2,339.1 595.0,338.2 C598.9,337.3 603.2,340.9 606.6,341.2 C610.0,341.5 612.6,340.2 615.5,340.0 C618.5,339.8 620.9,339.2 624.4,340.0 C627.9,340.7 632.7,344.2 636.8,344.3 C641.0,344.4 645.6,339.9 649.2,340.4 C652.8,340.9 655.2,345.9 658.2,347.4 C661.2,348.8 664.7,349.0 667.2,349.0 C669.7,349.0 671.4,348.0 673.5,347.4 C675.6,346.7 678.7,345.5 679.7,345.1 M540.5,340.5 C542.0,340.5 546.6,340.1 549.6,340.5 C552.6,340.9 555.0,342.1 558.6,342.7 C562.2,343.3 566.9,343.5 571.1,344.1 C575.2,344.8 579.5,346.7 583.5,346.4 C587.5,346.2 591.2,343.2 595.0,342.7 C598.9,342.1 603.2,343.1 606.6,343.1 C610.0,343.1 612.6,342.7 615.5,342.7 C618.5,342.6 620.9,342.0 624.4,342.7 C627.9,343.3 632.7,344.9 636.8,346.7 C641.0,348.6 645.6,352.8 649.2,353.7 C652.8,354.6 655.2,352.4 658.2,352.1 C661.2,351.8 664.7,352.5 667.2,352.1 C669.7,351.8 671.4,350.1 673.5,350.1 C675.6,350.1 678.7,351.8 679.7,352.1 M540.5,343.5 C542.0,343.3 546.6,341.9 549.6,342.7 C552.6,343.4 555.0,347.1 558.6,347.9 C562.2,348.7 566.9,346.9 571.1,347.4 C575.2,347.9 579.5,350.9 583.5,350.8 C587.5,350.6 591.2,347.1 595.0,346.4 C598.9,345.8 603.2,347.1 606.6,346.9 C610.0,346.6 612.6,345.7 615.5,345.1 C618.5,344.5 620.9,342.7 624.4,343.5 C627.9,344.3 632.7,348.1 636.8,349.8 C641.0,351.5 645.6,353.0 649.2,353.7 C652.8,354.5 655.2,354.4 658.2,354.1 C661.2,353.9 664.7,352.3 667.2,352.1 C669.7,351.9 671.4,352.8 673.5,352.8 C675.6,352.8 678.7,352.2 679.7,352.1 M540.5,344.0 C542.0,344.2 546.6,344.3 549.6,345.0 C552.6,345.6 555.0,347.1 558.6,347.9 C562.2,348.8 566.9,348.5 571.1,350.1 C575.2,351.7 579.5,357.3 583.5,357.5 C587.5,357.8 591.2,353.4 595.0,351.6 C598.9,349.8 603.2,347.5 606.6,346.9 C610.0,346.2 612.6,347.2 615.5,347.4 C618.5,347.6 620.9,347.4 624.4,348.1 C627.9,348.7 632.7,350.2 636.8,351.3 C641.0,352.4 645.6,353.9 649.2,354.5 C652.8,355.2 655.2,355.1 658.2,355.4 C661.2,355.6 664.7,356.3 667.2,356.0 C669.7,355.7 671.4,354.1 673.5,353.5 C675.6,352.8 678.7,352.3 679.7,352.1" fill="none" stroke="#646464" stroke-width="0.6"/>
<path clip-path="url(#cb6)" d="M540.5,296.0 C542.0,295.8 546.6,295.3 549.6,295.2 C552.6,295.0 555.0,295.2 558.6,295.3 C562.2,295.3 566.9,295.4 571.1,295.5 C575.2,295.6 579.5,295.7 583.5,295.7 C587.5,295.8 591.2,295.5 595.0,295.6 C598.9,295.7 603.2,296.4 606.6,296.3 C610.0,296.2 612.6,295.4 615.5,295.2 C618.5,294.9 620.9,294.9 624.4,295.0 C627.9,295.2 632.7,296.1 636.8,296.1 C641.0,296.1 645.6,295.3 649.2,295.2 C652.8,295.0 655.2,295.4 658.2,295.4 C661.2,295.4 664.7,294.9 667.2,295.0 C669.7,295.2 671.4,295.9 673.5,296.1 C675.6,296.2 678.7,296.0 679.7,296.0 M540.5,298.4 C542.0,298.2 546.6,297.7 549.6,297.2 C552.6,296.8 555.0,296.1 558.6,295.7 C562.2,295.3 566.9,294.9 571.1,294.8 C575.2,294.7 579.5,294.8 583.5,294.9 C587.5,295.0 591.2,295.3 595.0,295.4 C598.9,295.4 603.2,295.1 606.6,295.3 C610.0,295.4 612.6,296.0 615.5,296.4 C618.5,296.9 620.9,297.8 624.4,298.0 C627.9,298.1 632.7,297.5 636.8,297.4 C641.0,297.2 645.6,297.2 649.2,297.1 C652.8,297.0 655.2,297.1 658.2,296.8 C661.2,296.5 664.7,295.8 667.2,295.5 C669.7,295.2 671.4,295.1 673.5,295.0 C675.6,294.9 678.7,294.9 679.7,294.9 M540.5,295.0 C542.0,295.1 546.6,295.2 549.6,295.6 C552.6,296.0 555.0,296.8 558.6,297.2 C562.2,297.7 566.9,297.9 571.1,298.1 C575.2,298.2 579.5,298.2 583.5,298.2 C587.5,298.1 591.2,298.1 595.0,297.8 C598.9,297.5 603.2,296.6 606.6,296.3 C610.0,296.0 612.6,296.0 615.5,295.9 C618.5,295.7 620.9,295.5 624.4,295.6 C627.9,295.8 632.7,296.2 636.8,296.7 C641.0,297.2 645.6,298.2 649.2,298.5 C652.8,298.9 655.2,298.8 658.2,298.7 C661.2,298.5 664.7,298.0 667.2,297.7 C669.7,297.4 671.4,297.3 673.5,296.9 C675.6,296.6 678.7,295.8 679.7,295.6 M540.5,296.1 C542.0,296.2 546.6,296.7 549.6,296.9 C552.6,297.1 555.0,297.2 558.6,297.2 C562.2,297.3 566.9,297.2 571.1,297.5 C575.2,297.8 579.5,298.9 583.5,299.0 C587.5,299.1 591.2,298.4 595.0,298.2 C598.9,298.0 603.2,298.1 606.6,297.7 C610.0,297.3 612.6,295.8 615.5,295.6 C618.5,295.4 620.9,296.0 624.4,296.4 C627.9,296.9 632.7,297.9 636.8,298.4 C641.0,298.9 645.6,299.6 649.2,299.5 C652.8,299.4 655.2,298.1 658.2,297.7 C661.2,297.3 664.7,297.4 667.2,297.2 C669.7,297.1 671.4,296.9 673.5,296.8 C675.6,296.7 678.7,296.6 679.7,296.6 M540.5,298.9 C542.0,299.2 546.6,300.5 549.6,300.6 C552.6,300.8 555.0,300.1 558.6,299.7 C562.2,299.4 566.9,299.0 571.1,298.5 C575.2,298.1 579.5,297.0 583.5,296.9 C587.5,296.8 591.2,297.9 595.0,298.1 C598.9,298.3 603.2,298.0 606.6,298.2 C610.0,298.4 612.6,298.9 615.5,299.2 C618.5,299.6 620.9,300.2 624.4,300.4 C627.9,300.6 632.7,300.4 636.8,300.2 C641.0,299.9 645.6,299.3 649.2,298.9 C652.8,298.5 655.2,298.0 658.2,297.7 C661.2,297.4 664.7,297.0 667.2,297.0 C669.7,297.1 671.4,298.0 673.5,298.1 C675.6,298.2 678.7,297.8 679.7,297.7 M540.5,298.3 C542.0,298.2 546.6,297.5 549.6,297.6 C552.6,297.7 555.0,298.5 558.6,299.1 C562.2,299.7 566.9,300.9 571.1,301.2 C575.2,301.5 579.5,301.5 583.5,301.1 C587.5,300.8 591.2,299.6 595.0,299.1 C598.9,298.6 603.2,298.0 606.6,298.0 C610.0,297.9 612.6,298.3 615.5,298.8 C618.5,299.3 620.9,300.5 624.4,300.9 C627.9,301.2 632.7,301.1 636.8,301.0 C641.0,300.8 645.6,300.6 649.2,300.1 C652.8,299.5 655.2,297.9 658.2,297.6 C661.2,297.3 664.7,297.8 667.2,298.2 C669.7,298.6 671.4,299.3 673.5,299.8 C675.6,300.4 678.7,301.2 679.7,301.5 M540.5,302.3 C542.0,301.8 546.6,299.9 549.6,299.4 C552.6,298.8 555.0,299.1 558.6,299.0 C562.2,298.9 566.9,298.6 571.1,298.9 C575.2,299.1 579.5,300.1 583.5,300.4 C587.5,300.7 591.2,300.1 595.0,300.4 C598.9,300.7 603.2,302.1 606.6,302.3 C610.0,302.4 612.6,301.9 615.5,301.3 C618.5,300.8 620.9,299.5 624.4,299.0 C627.9,298.5 632.7,298.5 636.8,298.5 C641.0,298.6 645.6,298.9 649.2,299.4 C652.8,299.8 655.2,300.7 658.2,301.1 C661.2,301.5 664.7,301.8 667.2,302.0 C669.7,302.2 671.4,302.6 673.5,302.3 C675.6,301.9 678.7,300.3 679.7,299.9 M540.5,303.1 C542.0,302.9 546.6,302.4 549.6,301.8 C552.6,301.2 555.0,299.5 558.6,299.2 C562.2,299.0 566.9,299.9 571.1,300.3 C575.2,300.7 579.5,301.3 583.5,301.8 C587.5,302.3 591.2,303.6 595.0,303.6 C598.9,303.5 603.2,302.3 606.6,301.7 C610.0,301.0 612.6,300.0 615.5,299.7 C618.5,299.4 620.9,299.5 624.4,299.9 C627.9,300.4 632.7,301.8 636.8,302.3 C641.0,302.7 645.6,302.7 649.2,302.5 C652.8,302.3 655.2,301.5 658.2,301.1 C661.2,300.7 664.7,300.1 667.2,300.2 C669.7,300.2 671.4,301.0 673.5,301.2 C675.6,301.5 678.7,301.6 679.7,301.7 M540.5,303.4 C542.0,303.3 546.6,303.1 549.6,302.7 C552.6,302.4 555.0,301.6 558.6,301.3 C562.2,301.1 566.9,301.1 571.1,301.1 C575.2,301.1 579.5,301.2 583.5,301.5 C587.5,301.7 591.2,302.3 595.0,302.5 C598.9,302.7 603.2,302.5 606.6,302.6 C610.0,302.7 612.6,303.1 615.5,303.1 C618.5,303.1 620.9,302.9 624.4,302.6 C627.9,302.3 632.7,301.4 636.8,301.1 C641.0,300.8 645.6,300.7 649.2,300.6 C652.8,300.6 655.2,300.6 658.2,300.9 C661.2,301.1 664.7,301.6 667.2,302.0 C669.7,302.5 671.4,303.4 673.5,303.6 C675.6,303.7 678.7,303.3 679.7,303.2 M540.5,305.4 C542.0,305.3 546.6,304.5 549.6,304.5 C552.6,304.5 555.0,305.5 558.6,305.3 C562.2,305.1 566.9,303.6 571.1,303.2 C575.2,302.8 579.5,302.6 583.5,302.6 C587.5,302.7 591.2,303.1 595.0,303.6 C598.9,304.0 603.2,304.7 606.6,305.1 C610.0,305.5 612.6,305.9 615.5,305.9 C618.5,305.9 620.9,305.2 624.4,304.9 C627.9,304.7 632.7,304.7 636.8,304.2 C641.0,303.8 645.6,302.7 649.2,302.5 C652.8,302.3 655.2,302.7 658.2,303.1 C661.2,303.5 664.7,304.6 667.2,304.9 C669.7,305.3 671.4,305.0 673.5,305.2 C675.6,305.3 678.7,305.8 679.7,305.9 M540.5,305.4 C542.0,305.7 546.6,306.8 549.6,307.3 C552.6,307.8 555.0,308.4 558.6,308.6 C562.2,308.7 566.9,308.4 571.1,308.2 C575.2,308.1 579.5,308.1 583.5,307.8 C587.5,307.4 591.2,306.5 595.0,306.1 C598.9,305.7 603.2,305.9 606.6,305.4 C610.0,305.0 612.6,303.6 615.5,303.4 C618.5,303.3 620.9,304.2 624.4,304.5 C627.9,304.7 632.7,304.5 636.8,304.8 C641.0,305.1 645.6,305.8 649.2,306.2 C652.8,306.7 655.2,307.3 658.2,307.6 C661.2,307.9 664.7,307.9 667.2,308.0 C669.7,308.0 671.4,308.1 673.5,308.0 C675.6,307.8 678.7,307.2 679.7,307.1 M540.5,307.8 C542.0,307.6 546.6,306.6 549.6,306.6 C552.6,306.6 555.0,307.5 558.6,307.9 C562.2,308.2 566.9,308.5 571.1,308.7 C575.2,308.8 579.5,309.1 583.5,308.7 C587.5,308.2 591.2,306.1 595.0,305.9 C598.9,305.7 603.2,307.0 606.6,307.5 C610.0,308.1 612.6,308.8 615.5,309.2 C618.5,309.5 620.9,309.9 624.4,309.5 C627.9,309.1 632.7,307.6 636.8,307.1 C641.0,306.5 645.6,306.1 649.2,306.4 C652.8,306.6 655.2,308.2 658.2,308.7 C661.2,309.1 664.7,309.3 667.2,309.2 C669.7,309.0 671.4,308.2 673.5,307.8 C675.6,307.3 678.7,306.8 679.7,306.6 M540.5,311.2 C542.0,311.2 546.6,311.1 549.6,310.8 C552.6,310.5 555.0,309.9 558.6,309.3 C562.2,308.6 566.9,306.9 571.1,306.7 C575.2,306.5 579.5,307.5 583.5,308.2 C587.5,308.9 591.2,310.4 595.0,310.9 C598.9,311.4 603.2,311.2 606.6,311.2 C610.0,311.3 612.6,311.7 615.5,311.2 C618.5,310.8 620.9,309.2 624.4,308.4 C627.9,307.7 632.7,306.5 636.8,306.6 C641.0,306.6 645.6,308.1 649.2,308.8 C652.8,309.5 655.2,310.6 658.2,311.0 C661.2,311.4 664.7,311.4 667.2,311.2 C669.7,311.1 671.4,310.8 673.5,310.2 C675.6,309.6 678.7,308.1 679.7,307.6 M540.5,294.7 C542.0,294.7 546.6,294.5 549.6,294.6 C552.6,294.6 555.0,294.8 558.6,294.8 C562.2,294.8 566.9,294.7 571.1,294.7 C575.2,294.6 579.5,294.6 583.5,294.6 C587.5,294.6 591.2,294.7 595.0,294.7 C598.9,294.7 603.2,294.5 606.6,294.5 C610.0,294.5 612.6,294.6 615.5,294.7 C618.5,294.8 620.9,294.9 624.4,294.9 C627.9,294.9 632.7,294.7 636.8,294.7 C641.0,294.6 645.6,294.6 649.2,294.6 C652.8,294.6 655.2,294.7 658.2,294.7 C661.2,294.7 664.7,294.7 667.2,294.7 C669.7,294.7 671.4,294.6 673.5,294.6 C675.6,294.6 678.7,294.7 679.7,294.7 M540.5,310.7 C542.0,310.7 546.6,310.7 549.6,310.8 C552.6,310.9 555.0,310.9 558.6,311.2 C562.2,311.6 566.9,312.5 571.1,313.1 C575.2,313.7 579.5,314.8 583.5,315.0 C587.5,315.2 591.2,315.0 595.0,314.3 C598.9,313.6 603.2,311.4 606.6,310.8 C610.0,310.1 612.6,310.4 615.5,310.3 C618.5,310.3 620.9,310.0 624.4,310.4 C627.9,310.9 632.7,312.4 636.8,313.0 C641.0,313.6 645.6,314.2 649.2,314.1 C652.8,313.9 655.2,312.5 658.2,311.8 C661.2,311.1 664.7,310.0 667.2,309.9 C669.7,309.7 671.4,310.5 673.5,310.7 C675.6,310.8 678.7,310.8 679.7,310.8 M540.5,310.1 C542.0,310.2 546.6,310.5 549.6,310.7 C552.6,310.9 555.0,311.0 558.6,311.2 C562.2,311.5 566.9,311.8 571.1,312.2 C575.2,312.6 579.5,312.9 583.5,313.6 C587.5,314.2 591.2,316.5 595.0,316.1 C598.9,315.8 603.2,312.2 606.6,311.2 C610.0,310.3 612.6,310.6 615.5,310.4 C618.5,310.3 620.9,310.7 624.4,310.6 C627.9,310.4 632.7,309.9 636.8,309.5 C641.0,309.1 645.6,308.1 649.2,308.1 C652.8,308.1 655.2,309.2 658.2,309.5 C661.2,309.8 664.7,310.0 667.2,310.1 C669.7,310.1 671.4,309.9 673.5,309.9 C675.6,309.8 678.7,309.7 679.7,309.6" fill="none" stroke="#4a4a4a" stroke-width="0.58"/>
<rect x="540.5" y="252.9" width="139.20000000000005" height="98.4" fill="none" stroke="#a8a8a8" stroke-width="0.95"/>
<line x1="539.0" y1="252.9" x2="540.5" y2="252.9" stroke="#555" stroke-width="0.7"/>
<text x="538.3" y="254.4" font-size="4.3" text-anchor="end" fill="#444" font-family="Liberation Sans">10</text>
<line x1="539.0" y1="262.2" x2="540.5" y2="262.2" stroke="#555" stroke-width="0.7"/>
<text x="538.3" y="263.7" font-size="4.3" text-anchor="end" fill="#444" font-family="Liberation Sans">9</text>
<line x1="539.0" y1="271.4" x2="540.5" y2="271.4" stroke="#555" stroke-width="0.7"/>
<text x="538.3" y="272.9" font-size="4.3" text-anchor="end" fill="#444" font-family="Liberation Sans">8</text>
<line x1="539.0" y1="280.6" x2="540.5" y2="280.6" stroke="#555" stroke-width="0.7"/>
<text x="538.3" y="282.1" font-size="4.3" text-anchor="end" fill="#444" font-family="Liberation Sans">7</text>
<line x1="539.0" y1="294.1" x2="540.5" y2="294.1" stroke="#555" stroke-width="0.7"/>
<text x="538.3" y="295.6" font-size="4.3" text-anchor="end" fill="#444" font-family="Liberation Sans">0</text>
<line x1="539.0" y1="302.7" x2="540.5" y2="302.7" stroke="#555" stroke-width="0.7"/>
<text x="538.3" y="304.2" font-size="4.3" text-anchor="end" fill="#444" font-family="Liberation Sans">−1</text>
<line x1="539.0" y1="311.5" x2="540.5" y2="311.5" stroke="#555" stroke-width="0.7"/>
<text x="538.3" y="313.0" font-size="4.3" text-anchor="end" fill="#444" font-family="Liberation Sans">−2</text>
<line x1="539.0" y1="322.3" x2="540.5" y2="322.3" stroke="#555" stroke-width="0.7"/>
<text x="538.3" y="323.8" font-size="4.3" text-anchor="end" fill="#444" font-family="Liberation Sans">−7.0</text>
<line x1="539.0" y1="333.1" x2="540.5" y2="333.1" stroke="#555" stroke-width="0.7"/>
<text x="538.3" y="334.6" font-size="4.3" text-anchor="end" fill="#444" font-family="Liberation Sans">−7.5</text>
<line x1="539.0" y1="343.5" x2="540.5" y2="343.5" stroke="#555" stroke-width="0.7"/>
<text x="538.3" y="345.0" font-size="4.3" text-anchor="end" fill="#444" font-family="Liberation Sans">−8.0</text>
<path d="M536.1,284.59999999999997 L540.1,286.8 M540.7,284.59999999999997 L544.7,286.8" stroke="#707070" stroke-width="1.1" fill="none"/>
<path d="M675.3000000000001,284.59999999999997 L679.3000000000001,286.8 M679.9000000000001,284.59999999999997 L683.9000000000001,286.8" stroke="#707070" stroke-width="1.1" fill="none"/>
<path d="M536.1,316.9 L540.1,319.1 M540.7,316.9 L544.7,319.1" stroke="#707070" stroke-width="1.1" fill="none"/>
<path d="M675.3000000000001,316.9 L679.3000000000001,319.1 M679.9000000000001,316.9 L683.9000000000001,319.1" stroke="#707070" stroke-width="1.1" fill="none"/>
<text x="540.3" y="355.70000000000005" font-size="4.5" text-anchor="middle" fill="#444" font-family="Liberation Sans">X</text>
<text x="558.3" y="355.70000000000005" font-size="4.5" text-anchor="middle" fill="#444" font-family="Liberation Sans">Y</text>
<text x="583.4" y="355.70000000000005" font-size="4.5" text-anchor="middle" fill="#444" font-family="Liberation Sans">Z</text>
<text x="605.4" y="355.70000000000005" font-size="4.5" text-anchor="middle" fill="#444" font-family="Liberation Sans">Γ</text>
<text x="624.4" y="355.70000000000005" font-size="4.5" text-anchor="middle" fill="#444" font-family="Liberation Sans">S</text>
<text x="649.2" y="355.70000000000005" font-size="4.5" text-anchor="middle" fill="#444" font-family="Liberation Sans">U</text>
<text x="667.2" y="355.70000000000005" font-size="4.5" text-anchor="middle" fill="#444" font-family="Liberation Sans">T</text>
<text x="679.7" y="355.70000000000005" font-size="4.5" text-anchor="middle" fill="#444" font-family="Liberation Sans">R</text>
<text x="530.4" y="302.8" font-size="4.85" text-anchor="middle" fill="#333" font-family="Liberation Sans" transform="rotate(-90 530.4 302.8)">Energy (eV)</text>
<text x="579.3" y="251.5" font-size="10.8" fill="#111" font-family="Liberation Serif" transform="translate(0 251.5) scale(1 0.94) translate(0 -251.5)">8.7 GPa</text>
<line x1="643.7" y1="278.1" x2="643.7" y2="291.4" stroke="#5d86d8" stroke-width="0.9"/>
<path d="M642.1,279.1 L643.7,276.1 L645.3000000000001,279.1 Z" fill="#5d86d8"/>
<path d="M642.1,290.4 L643.7,293.4 L645.3000000000001,290.4 Z" fill="#5d86d8"/>
<line x1="593.0" y1="319.4" x2="593.0" y2="324.6" stroke="#4a72c4" stroke-width="1.4"/>
<path d="M591.0,321.0 L593.0,317.4 L595.0,321.0 Z" fill="#4a72c4"/>
<path d="M591.0,323.0 L593.0,326.6 L595.0,323.0 Z" fill="#4a72c4"/>
<text x="625.1" y="284.4" font-size="6.3" fill="#333" stroke="#333" stroke-width="0.12" font-family="Liberation Sans">Ev-c=7.478 eV</text>
<text x="619.4" y="323.2" font-size="6.3" fill="#333" stroke="#333" stroke-width="0.12" font-family="Liberation Sans">Ec-v=4.613 eV</text>
</svg></body></html>
